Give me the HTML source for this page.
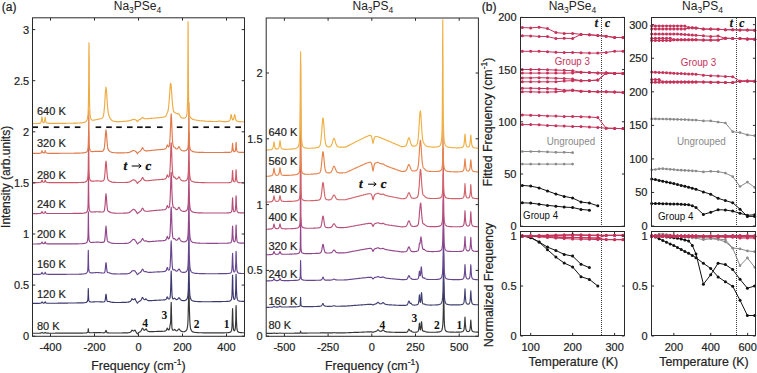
<!DOCTYPE html>
<html><head><meta charset="utf-8"><style>html,body{margin:0;padding:0;background:#fff;}svg{display:block;}</style></head>
<body><svg width="757" height="373" viewBox="0 0 757 373">
<rect width="757" height="373" fill="#fff"/>
<defs><clipPath id="c1"><rect x="32.5" y="18.8" width="212.0" height="317.5"/></clipPath>
<clipPath id="c2"><rect x="266.2" y="19.0" width="212.2" height="317.3"/></clipPath></defs>
<g clip-path="url(#c1)" fill="none" stroke-width="1.15" stroke-linejoin="round">
<path d="M32.5 333.2 33.0 333.2 33.5 333.2 34.0 333.2 34.5 333.2 35.0 333.2 35.5 333.2 36.0 333.2 36.5 333.2 37.0 333.2 37.5 333.2 38.0 333.2 38.5 333.2 39.0 333.2 39.5 333.2 40.0 333.1 40.5 333.1 40.6 333.1 41.0 333.0 41.1 333.0 41.5 332.8 41.5 332.8 41.8 332.5 42.0 332.4 42.2 332.5 42.5 332.8 42.5 332.8 42.9 333.0 43.0 333.0 43.4 333.1 43.5 333.1 43.9 333.1 44.0 333.0 44.3 333.0 44.5 332.9 44.8 332.8 45.0 332.5 45.0 332.5 45.2 332.4 45.4 332.5 45.5 332.6 45.6 332.8 46.0 333.0 46.1 333.0 46.5 333.1 46.5 333.1 47.0 333.1 47.5 333.1 48.0 333.1 48.5 333.1 49.0 333.2 49.5 333.2 50.0 333.2 50.5 333.2 51.0 333.2 51.5 333.2 52.0 333.2 52.5 333.2 53.0 333.2 53.5 333.2 54.0 333.2 54.5 333.2 55.0 333.2 55.5 333.1 56.0 333.1 56.5 333.1 57.0 333.1 57.5 333.1 58.0 333.1 58.5 333.1 59.0 333.1 59.5 333.1 60.0 333.1 60.5 333.1 61.0 333.1 61.5 333.1 62.0 333.1 62.5 333.1 63.0 333.1 63.5 333.1 64.0 333.1 64.5 333.1 65.0 333.1 65.5 333.1 66.0 333.1 66.5 333.1 67.0 333.1 67.5 333.1 68.0 333.1 68.5 333.1 69.0 333.1 69.5 333.1 70.0 333.1 70.5 333.1 71.0 333.1 71.5 333.1 72.0 333.1 72.5 333.1 73.0 333.1 73.5 333.1 74.0 333.1 74.5 333.1 75.0 333.1 75.5 333.1 76.0 333.1 76.5 333.1 77.0 333.1 77.5 333.1 78.0 333.1 78.5 333.1 79.0 333.1 79.5 333.1 80.0 333.1 80.5 333.1 81.0 333.1 81.5 333.1 82.0 333.1 82.5 333.1 83.0 333.1 83.5 333.0 84.0 333.0 84.5 333.0 85.0 333.0 85.1 333.0 85.5 333.0 86.0 332.9 86.5 332.8 86.7 332.8 87.0 332.7 87.5 332.5 87.7 332.3 87.9 331.9 88.0 331.5 88.1 330.7 88.2 329.5 88.3 328.7 88.4 329.5 88.5 330.7 88.7 331.9 88.9 332.3 89.0 332.4 89.1 332.5 89.5 332.6 89.9 332.7 90.0 332.7 90.5 332.7 91.0 332.7 91.5 332.7 92.0 332.7 92.5 332.7 93.0 332.7 93.1 332.7 93.5 332.6 94.0 332.6 94.5 332.6 95.0 332.6 95.5 332.6 96.0 332.6 96.5 332.6 97.0 332.6 97.5 332.6 98.0 332.6 98.5 332.6 99.0 332.6 99.5 332.6 100.0 332.6 100.5 332.6 101.0 332.7 101.5 332.7 102.0 332.7 102.5 332.7 103.0 332.8 103.5 332.8 104.0 332.8 104.3 332.7 104.5 332.7 104.9 332.6 105.0 332.5 105.5 331.7 105.5 331.5 105.7 330.9 106.0 330.4 106.3 330.9 106.5 331.6 106.5 331.7 107.0 332.6 107.1 332.6 107.5 332.8 107.7 332.9 108.0 332.9 108.5 332.9 109.0 333.0 109.5 333.0 110.0 333.0 110.5 333.0 111.0 333.0 111.5 333.0 112.0 333.0 112.5 333.0 113.0 333.0 113.5 333.0 114.0 333.0 114.5 333.0 115.0 333.0 115.5 333.0 116.0 333.0 116.5 333.0 117.0 333.0 117.5 333.0 118.0 333.0 118.5 333.0 119.0 333.0 119.5 333.0 120.0 333.0 120.5 333.0 121.0 333.0 121.5 333.0 122.0 333.0 122.5 332.9 123.0 332.9 123.5 332.9 124.0 332.9 124.5 332.9 125.0 332.9 125.5 332.9 126.0 332.9 126.5 332.9 127.0 332.8 127.5 332.8 128.0 332.8 128.5 332.7 129.0 332.6 129.5 332.5 130.0 332.3 130.2 332.2 130.5 332.1 130.8 331.8 131.0 331.7 131.4 331.1 131.5 331.0 131.7 330.6 132.0 330.1 132.2 330.2 132.3 330.3 132.5 330.5 132.6 330.6 133.0 330.8 133.2 330.9 133.5 330.9 133.8 330.9 134.0 330.8 134.4 330.6 134.5 330.5 134.7 330.3 134.8 330.2 135.0 330.1 135.3 330.6 135.5 331.0 135.6 331.2 135.8 331.6 136.0 331.9 136.2 332.2 136.5 332.6 136.6 332.8 136.8 333.1 137.0 333.5 137.4 334.0 137.5 334.0 137.8 333.6 138.0 333.3 138.2 333.0 138.5 332.7 138.9 332.4 139.0 332.4 139.5 332.1 139.8 331.9 140.0 331.8 140.1 331.7 140.5 331.4 141.0 330.8 141.3 330.4 141.5 330.0 141.9 329.1 142.0 328.9 142.5 328.2 143.0 328.7 143.1 328.8 143.5 329.6 143.7 329.8 144.0 330.1 144.5 330.3 144.9 330.1 145.0 330.0 145.5 329.3 146.0 328.8 146.1 328.8 146.5 329.4 147.0 330.3 147.5 330.9 148.0 331.3 148.5 331.4 149.0 331.5 149.5 331.6 150.0 331.6 150.5 331.6 151.0 331.6 151.5 331.6 152.0 331.6 152.5 331.6 153.0 331.6 153.5 331.6 154.0 331.6 154.5 331.5 155.0 331.5 155.5 331.5 156.0 331.5 156.5 331.5 157.0 331.4 157.5 331.4 158.0 331.4 158.5 331.4 159.0 331.4 159.5 331.4 160.0 331.3 160.5 331.3 161.0 331.3 161.5 331.3 162.0 331.3 162.5 331.3 163.0 331.2 163.5 331.2 164.0 331.2 164.5 331.1 165.0 331.0 165.2 331.0 165.5 330.9 165.9 330.7 166.0 330.6 166.2 330.4 166.5 329.9 166.6 329.7 166.9 328.8 167.0 328.7 167.3 328.1 167.5 328.3 167.7 328.7 167.7 328.8 168.0 329.5 168.5 330.0 168.7 330.0 169.0 329.9 169.2 329.6 169.4 329.1 169.5 328.8 169.7 327.9 169.9 326.0 170.0 325.6 170.2 324.6 170.2 324.4 170.4 323.8 170.5 323.6 170.7 320.6 170.8 315.5 171.0 308.3 171.0 307.4 171.2 302.3 171.4 308.0 171.4 311.7 171.5 314.3 171.6 316.7 171.6 318.9 171.7 322.6 171.9 326.8 172.0 327.9 172.2 329.1 172.2 329.3 172.5 329.8 172.6 330.0 173.0 330.3 173.5 330.2 173.6 330.1 173.7 330.1 174.0 329.8 174.1 329.7 174.5 329.4 174.6 329.3 175.0 329.6 175.1 329.8 175.2 329.9 175.5 330.3 175.6 330.4 176.0 330.6 176.4 330.7 176.5 330.8 176.6 330.8 177.0 330.7 177.5 330.4 177.6 330.3 177.7 330.2 178.0 329.9 178.3 329.4 178.5 329.2 179.0 328.9 179.5 329.3 179.7 329.5 180.0 330.1 180.3 330.5 180.5 330.7 181.0 331.1 181.4 331.3 181.5 331.4 181.6 331.4 182.0 331.5 182.5 331.6 182.9 331.7 183.0 331.7 183.5 331.7 183.9 331.7 184.0 331.7 184.5 331.6 185.0 331.4 185.5 331.2 186.0 330.8 186.2 330.6 186.4 330.4 186.5 330.2 187.0 329.0 187.1 328.6 187.5 326.5 187.6 326.2 187.7 325.3 188.0 320.5 188.4 305.3 188.5 302.4 188.7 290.6 188.9 281.6 189.0 283.8 189.1 290.6 189.3 305.3 189.5 312.3 189.8 320.6 190.0 323.8 190.2 325.4 190.2 326.3 190.5 327.9 190.7 328.8 191.0 329.8 191.4 330.6 191.5 330.7 191.6 330.9 192.0 331.3 192.5 331.7 193.0 331.9 193.5 332.1 193.9 332.2 194.0 332.2 194.5 332.3 195.0 332.4 195.5 332.5 196.0 332.5 196.4 332.5 196.5 332.5 197.0 332.6 197.5 332.6 198.0 332.6 198.5 332.7 199.0 332.7 199.5 332.7 200.0 332.7 200.5 332.7 201.0 332.7 201.5 332.7 202.0 332.7 202.5 332.8 203.0 332.8 203.5 332.8 204.0 332.8 204.5 332.8 205.0 332.8 205.5 332.8 206.0 332.8 206.5 332.8 207.0 332.8 207.5 332.8 208.0 332.8 208.5 332.8 209.0 332.8 209.5 332.8 210.0 332.8 210.5 332.8 211.0 332.8 211.5 332.8 212.0 332.8 212.5 332.8 213.0 332.8 213.5 332.8 214.0 332.8 214.5 332.8 215.0 332.8 215.1 332.8 215.5 332.8 216.0 332.8 216.5 332.8 216.6 332.8 217.0 332.8 217.5 332.8 218.0 332.8 218.1 332.8 218.5 332.8 218.8 332.8 219.0 332.8 219.5 332.8 219.6 332.8 220.0 332.8 220.3 332.8 220.5 332.8 221.0 332.8 221.1 332.8 221.5 332.8 222.0 332.8 222.5 332.8 222.6 332.8 223.0 332.8 223.5 332.8 224.0 332.8 224.1 332.8 224.5 332.8 225.0 332.7 225.5 332.7 226.0 332.7 226.5 332.7 227.0 332.7 227.5 332.7 228.0 332.6 228.5 332.6 229.0 332.5 229.5 332.4 230.0 332.3 230.5 332.1 231.0 331.6 231.5 330.4 231.6 330.3 231.9 327.8 232.0 326.5 232.2 320.6 232.4 313.6 232.5 310.4 232.6 308.5 232.8 313.5 232.9 320.5 233.0 322.1 233.3 327.6 233.5 329.2 233.7 329.9 234.0 330.7 234.5 330.8 235.0 329.8 235.1 329.6 235.4 327.0 235.5 325.6 235.8 319.0 235.9 311.2 236.0 307.6 236.1 305.6 236.3 311.2 236.4 319.1 236.5 320.9 236.8 327.2 237.0 329.1 237.2 330.0 237.5 331.1 238.0 331.8 238.5 332.2 239.0 332.3 239.5 332.5 240.0 332.5 240.5 332.6 241.0 332.6 241.5 332.6 242.0 332.7 242.5 332.7 243.0 332.7 243.5 332.7 244.0 332.7 244.5 332.7" stroke="#363636"/>
<path d="M32.5 303.4 33.0 303.4 33.5 303.4 34.0 303.4 34.5 303.4 35.0 303.4 35.5 303.4 36.0 303.4 36.5 303.3 37.0 303.3 37.5 303.3 38.0 303.3 38.5 303.3 39.0 303.3 39.5 303.3 40.0 303.2 40.5 303.2 40.6 303.2 41.0 303.0 41.1 303.0 41.5 302.6 41.5 302.5 41.8 302.1 42.0 301.8 42.2 302.1 42.5 302.5 42.5 302.6 42.9 302.9 43.0 303.0 43.4 303.1 43.5 303.1 43.9 303.1 44.0 303.0 44.3 302.9 44.5 302.8 44.8 302.5 45.0 302.0 45.0 302.0 45.2 301.7 45.4 302.1 45.5 302.2 45.6 302.5 46.0 302.9 46.1 302.9 46.5 303.1 46.5 303.1 47.0 303.2 47.5 303.2 48.0 303.2 48.5 303.2 49.0 303.2 49.5 303.2 50.0 303.2 50.5 303.2 51.0 303.2 51.5 303.2 52.0 303.2 52.5 303.2 53.0 303.2 53.5 303.2 54.0 303.2 54.5 303.2 55.0 303.2 55.5 303.2 56.0 303.2 56.5 303.2 57.0 303.2 57.5 303.2 58.0 303.1 58.5 303.1 59.0 303.1 59.5 303.1 60.0 303.1 60.5 303.1 61.0 303.1 61.5 303.1 62.0 303.1 62.5 303.1 63.0 303.1 63.5 303.1 64.0 303.1 64.5 303.1 65.0 303.1 65.5 303.1 66.0 303.1 66.5 303.1 67.0 303.1 67.5 303.1 68.0 303.0 68.5 303.0 69.0 303.0 69.5 303.0 70.0 303.0 70.5 303.0 71.0 303.0 71.5 303.0 72.0 303.0 72.5 303.0 73.0 303.0 73.5 303.0 74.0 303.0 74.5 303.0 75.0 303.0 75.5 303.0 76.0 303.0 76.5 303.0 77.0 302.9 77.5 302.9 78.0 302.9 78.5 302.9 79.0 302.9 79.5 302.9 80.0 302.9 80.5 302.9 81.0 302.9 81.5 302.9 82.0 302.8 82.5 302.8 83.0 302.8 83.5 302.8 84.0 302.7 84.5 302.7 85.0 302.6 85.1 302.6 85.5 302.5 86.0 302.4 86.5 302.2 86.7 302.0 87.0 301.8 87.5 301.1 87.7 300.5 87.9 299.1 88.0 297.7 88.1 295.2 88.2 291.2 88.3 288.6 88.4 291.2 88.5 295.1 88.7 299.0 88.9 300.4 89.0 300.7 89.1 301.0 89.5 301.5 89.9 301.8 90.0 301.8 90.5 301.9 91.0 302.0 91.5 302.0 92.0 302.0 92.5 302.0 93.0 301.9 93.1 301.9 93.5 301.9 94.0 301.9 94.5 301.8 95.0 301.8 95.5 301.7 96.0 301.7 96.5 301.7 97.0 301.7 97.5 301.7 98.0 301.7 98.5 301.7 99.0 301.7 99.5 301.8 100.0 301.8 100.5 301.8 101.0 301.9 101.5 301.9 102.0 301.9 102.5 302.0 103.0 302.0 103.5 302.0 104.0 301.9 104.3 301.8 104.5 301.7 104.9 301.1 105.0 300.9 105.5 298.2 105.5 297.7 105.7 295.7 106.0 294.2 106.3 295.6 106.5 297.7 106.5 298.1 107.0 300.7 107.1 301.0 107.5 301.4 107.7 301.5 108.0 301.5 108.5 301.5 109.0 301.5 109.5 301.6 110.0 301.7 110.5 301.9 111.0 302.1 111.5 302.2 112.0 302.3 112.5 302.3 113.0 302.4 113.5 302.4 114.0 302.4 114.5 302.5 115.0 302.5 115.5 302.5 116.0 302.5 116.5 302.5 117.0 302.5 117.5 302.5 118.0 302.5 118.5 302.5 119.0 302.5 119.5 302.5 120.0 302.5 120.5 302.5 121.0 302.5 121.5 302.4 122.0 302.4 122.5 302.4 123.0 302.4 123.5 302.4 124.0 302.4 124.5 302.4 125.0 302.4 125.5 302.3 126.0 302.3 126.5 302.3 127.0 302.2 127.5 302.2 128.0 302.1 128.5 302.1 129.0 301.9 129.5 301.8 130.0 301.5 130.2 301.4 130.5 301.2 130.8 300.9 131.0 300.7 131.4 300.0 131.5 299.7 131.7 299.2 132.0 298.6 132.2 298.8 132.3 298.8 132.5 299.1 132.6 299.3 133.0 299.6 133.2 299.6 133.5 299.6 133.8 299.6 134.0 299.5 134.4 299.2 134.5 299.1 134.7 298.8 134.8 298.7 135.0 298.6 135.3 299.2 135.5 299.7 135.6 300.0 135.8 300.4 136.0 300.8 136.2 301.1 136.5 301.7 136.6 301.8 136.8 302.2 137.0 302.6 137.4 303.1 137.5 303.1 137.8 302.8 138.0 302.5 138.2 302.2 138.5 301.9 138.9 301.6 139.0 301.6 139.5 301.3 139.8 301.1 140.0 301.0 140.1 301.0 140.5 300.6 141.0 300.1 141.3 299.6 141.5 299.2 141.9 298.3 142.0 298.1 142.5 297.4 143.0 297.9 143.1 298.1 143.5 298.8 143.7 299.1 144.0 299.5 144.5 299.7 144.9 299.6 145.0 299.6 145.5 299.1 146.0 298.8 146.1 298.9 146.5 299.3 147.0 299.9 147.5 300.3 148.0 300.5 148.5 300.6 149.0 300.6 149.5 300.6 150.0 300.6 150.5 300.6 151.0 300.6 151.5 300.6 152.0 300.6 152.5 300.5 153.0 300.5 153.5 300.5 154.0 300.4 154.5 300.4 155.0 300.4 155.5 300.3 156.0 300.3 156.5 300.3 157.0 300.2 157.5 300.2 158.0 300.2 158.5 300.2 159.0 300.1 159.5 300.1 160.0 300.1 160.5 300.1 161.0 300.0 161.5 300.0 162.0 300.0 162.5 300.0 163.0 300.0 163.5 299.9 164.0 299.9 164.5 299.8 165.0 299.8 165.2 299.7 165.5 299.6 165.9 299.4 166.0 299.3 166.2 299.1 166.5 298.7 166.6 298.5 166.9 297.5 167.0 297.4 167.3 296.9 167.5 297.1 167.7 297.5 167.7 297.6 168.0 298.3 168.5 298.9 168.7 299.0 169.0 299.0 169.2 299.0 169.4 298.9 169.5 298.8 169.7 298.5 169.8 298.2 169.9 297.9 170.0 297.8 170.2 296.7 170.3 295.8 170.4 293.8 170.5 292.8 170.7 287.4 170.8 285.6 171.0 276.6 171.0 275.4 171.2 271.1 171.4 276.2 171.4 277.4 171.5 279.5 171.6 283.6 171.7 285.6 171.7 287.4 172.0 294.6 172.1 295.8 172.2 296.7 172.5 298.1 172.6 298.2 172.6 298.3 173.0 298.8 173.5 298.8 173.6 298.8 173.7 298.7 174.0 298.5 174.1 298.4 174.5 298.1 174.6 298.1 175.0 298.4 175.1 298.5 175.2 298.7 175.5 299.0 175.6 299.1 176.0 299.4 176.4 299.5 176.5 299.6 176.6 299.6 177.0 299.5 177.5 299.2 177.6 299.1 177.7 299.1 178.0 298.7 178.3 298.3 178.5 298.1 179.0 297.7 179.5 298.2 179.7 298.4 180.0 298.9 180.3 299.4 180.5 299.6 181.0 300.0 181.4 300.2 181.5 300.3 181.6 300.3 182.0 300.4 182.5 300.5 182.9 300.6 183.0 300.6 183.5 300.6 183.9 300.6 184.0 300.6 184.5 300.6 185.0 300.5 185.5 300.3 186.0 300.1 186.2 299.9 186.4 299.7 186.5 299.6 187.0 298.9 187.1 298.7 187.5 297.5 187.7 296.8 188.0 294.1 188.3 289.1 188.4 284.2 188.5 282.0 188.6 276.0 188.8 263.7 188.9 255.5 189.0 259.6 189.1 263.7 189.2 276.1 189.3 284.3 189.5 289.1 189.8 294.2 190.0 296.0 190.2 296.9 190.5 298.3 190.7 298.9 191.0 299.4 191.4 300.0 191.5 300.1 191.6 300.2 192.0 300.5 192.5 300.8 193.0 300.9 193.5 301.1 193.9 301.2 194.0 301.2 194.5 301.3 195.0 301.4 195.5 301.4 196.0 301.5 196.4 301.5 196.5 301.5 197.0 301.5 197.5 301.5 198.0 301.6 198.5 301.6 199.0 301.6 199.5 301.6 200.0 301.6 200.5 301.6 201.0 301.6 201.5 301.7 202.0 301.7 202.5 301.7 203.0 301.7 203.5 301.7 204.0 301.7 204.5 301.7 205.0 301.7 205.5 301.7 206.0 301.7 206.5 301.7 207.0 301.7 207.5 301.7 208.0 301.7 208.5 301.7 209.0 301.7 209.5 301.7 210.0 301.7 210.5 301.7 211.0 301.7 211.5 301.7 212.0 301.7 212.5 301.6 213.0 301.6 213.5 301.6 214.0 301.6 214.5 301.6 215.0 301.6 215.1 301.6 215.5 301.6 216.0 301.6 216.5 301.6 216.6 301.6 217.0 301.6 217.5 301.6 218.0 301.6 218.1 301.6 218.5 301.6 218.8 301.6 219.0 301.6 219.5 301.6 219.6 301.6 220.0 301.6 220.3 301.6 220.5 301.6 221.0 301.6 221.1 301.6 221.5 301.6 222.0 301.5 222.5 301.5 222.6 301.5 223.0 301.5 223.5 301.5 224.0 301.5 224.1 301.5 224.5 301.5 225.0 301.5 225.5 301.5 226.0 301.5 226.5 301.4 227.0 301.4 227.5 301.4 228.0 301.3 228.5 301.3 229.0 301.2 229.5 301.1 230.0 301.0 230.5 300.7 231.0 300.2 231.5 299.0 231.6 298.8 231.9 296.1 232.0 294.7 232.2 288.3 232.4 280.7 232.5 277.2 232.6 275.2 232.8 280.6 232.9 288.2 233.0 289.9 233.3 295.9 233.5 297.6 233.7 298.4 234.0 299.2 234.5 299.4 235.0 298.5 235.1 298.3 235.4 295.7 235.5 294.2 235.8 287.7 235.9 279.8 236.0 276.2 236.1 274.2 236.3 279.9 236.4 287.8 236.5 289.5 236.8 295.9 237.0 297.7 237.2 298.6 237.5 299.7 238.0 300.5 238.5 300.8 239.0 301.0 239.5 301.1 240.0 301.2 240.5 301.2 241.0 301.2 241.5 301.3 242.0 301.3 242.5 301.3 243.0 301.3 243.5 301.3 244.0 301.3 244.5 301.3" stroke="#3c3870"/>
<path d="M32.5 274.4 33.0 274.4 33.5 274.4 34.0 274.4 34.5 274.4 35.0 274.4 35.5 274.4 36.0 274.4 36.5 274.4 37.0 274.4 37.5 274.3 38.0 274.3 38.5 274.3 39.0 274.3 39.5 274.3 40.0 274.3 40.5 274.2 40.6 274.1 41.0 274.0 41.1 273.9 41.5 273.4 41.5 273.3 41.8 272.7 42.0 272.3 42.2 272.7 42.5 273.3 42.5 273.4 42.9 273.9 43.0 273.9 43.4 274.0 43.5 274.1 43.9 274.0 44.0 274.0 44.3 273.9 44.5 273.7 44.8 273.3 45.0 272.7 45.0 272.6 45.2 272.3 45.4 272.7 45.5 272.9 45.6 273.3 46.0 273.8 46.1 273.9 46.5 274.1 46.5 274.1 47.0 274.2 47.5 274.2 48.0 274.3 48.5 274.3 49.0 274.3 49.5 274.3 50.0 274.3 50.5 274.3 51.0 274.3 51.5 274.3 52.0 274.3 52.5 274.3 53.0 274.3 53.5 274.3 54.0 274.3 54.5 274.3 55.0 274.3 55.5 274.3 56.0 274.3 56.5 274.3 57.0 274.3 57.5 274.3 58.0 274.3 58.5 274.3 59.0 274.3 59.5 274.3 60.0 274.3 60.5 274.3 61.0 274.3 61.5 274.3 62.0 274.3 62.5 274.3 63.0 274.3 63.5 274.3 64.0 274.3 64.5 274.3 65.0 274.3 65.5 274.3 66.0 274.3 66.5 274.3 67.0 274.2 67.5 274.2 68.0 274.2 68.5 274.2 69.0 274.2 69.5 274.2 70.0 274.2 70.5 274.2 71.0 274.2 71.5 274.2 72.0 274.2 72.5 274.2 73.0 274.2 73.5 274.2 74.0 274.2 74.5 274.2 75.0 274.2 75.5 274.2 76.0 274.2 76.5 274.2 77.0 274.2 77.5 274.2 78.0 274.2 78.5 274.2 79.0 274.2 79.5 274.1 80.0 274.1 80.5 274.1 81.0 274.1 81.5 274.1 82.0 274.1 82.5 274.0 83.0 274.0 83.5 274.0 84.0 273.9 84.5 273.8 85.0 273.7 85.1 273.7 85.5 273.6 86.0 273.4 86.5 273.1 86.7 272.9 87.0 272.5 87.5 271.4 87.7 270.4 87.9 268.1 88.0 265.6 88.1 261.4 88.2 254.7 88.3 250.3 88.4 254.7 88.5 261.3 88.7 268.0 88.9 270.2 89.0 270.8 89.1 271.2 89.5 272.1 89.9 272.5 90.0 272.6 90.5 272.8 91.0 272.9 91.5 272.9 92.0 272.9 92.5 272.9 93.0 272.8 93.1 272.8 93.5 272.8 94.0 272.7 94.5 272.7 95.0 272.6 95.5 272.6 96.0 272.6 96.5 272.5 97.0 272.5 97.5 272.5 98.0 272.6 98.5 272.6 99.0 272.6 99.5 272.7 100.0 272.7 100.5 272.8 101.0 272.9 101.5 272.9 102.0 273.0 102.5 273.0 103.0 273.0 103.5 273.0 104.0 272.9 104.2 272.8 104.5 272.6 104.8 272.0 105.0 271.2 105.4 268.0 105.5 266.8 105.7 264.4 106.0 262.5 106.3 264.4 106.5 266.8 106.6 267.9 107.0 271.1 107.2 271.9 107.5 272.4 107.8 272.6 108.0 272.7 108.5 272.7 109.0 272.8 109.5 272.9 110.0 273.1 110.5 273.3 111.0 273.5 111.5 273.6 112.0 273.7 112.5 273.8 113.0 273.8 113.5 273.8 114.0 273.9 114.5 273.9 115.0 273.9 115.5 273.9 116.0 273.9 116.5 273.9 117.0 274.0 117.5 274.0 118.0 274.0 118.5 274.0 119.0 274.0 119.5 274.0 120.0 274.0 120.5 273.9 121.0 273.9 121.5 273.9 122.0 273.9 122.5 273.9 123.0 273.9 123.5 273.9 124.0 273.9 124.5 273.9 125.0 273.9 125.5 273.8 126.0 273.8 126.5 273.8 127.0 273.8 127.5 273.7 128.0 273.6 128.5 273.5 129.0 273.4 129.5 273.2 130.0 272.9 130.2 272.8 130.5 272.6 130.8 272.4 131.0 272.2 131.4 271.7 131.5 271.6 131.7 271.3 132.0 271.0 132.2 270.8 132.3 270.8 132.5 270.8 132.6 270.8 133.0 270.7 133.2 270.6 133.5 270.6 133.8 270.6 134.0 270.7 134.4 270.7 134.5 270.8 134.7 270.8 134.8 270.8 135.0 270.9 135.3 271.3 135.5 271.6 135.6 271.8 135.8 272.1 136.0 272.3 136.2 272.6 136.5 273.1 136.6 273.3 136.8 273.7 137.0 274.1 137.4 274.6 137.5 274.6 137.8 274.3 138.0 274.1 138.2 273.8 138.5 273.5 138.9 273.2 139.0 273.2 139.5 272.9 139.8 272.8 140.0 272.6 140.1 272.6 140.5 272.3 141.0 271.7 141.3 271.2 141.5 270.9 141.9 270.0 142.0 269.7 142.5 269.1 143.0 269.6 143.1 269.8 143.5 270.6 143.7 270.9 144.0 271.3 144.5 271.6 144.9 271.7 145.0 271.7 145.5 271.6 146.0 271.5 146.1 271.5 146.5 271.7 147.0 272.0 147.5 272.2 148.0 272.3 148.5 272.4 149.0 272.4 149.5 272.4 150.0 272.4 150.5 272.3 151.0 272.3 151.5 272.3 152.0 272.2 152.5 272.2 153.0 272.2 153.5 272.1 154.0 272.1 154.5 272.1 155.0 272.0 155.5 272.0 156.0 272.0 156.5 272.0 157.0 271.9 157.5 271.9 158.0 271.9 158.5 271.8 159.0 271.8 159.5 271.8 160.0 271.8 160.5 271.8 161.0 271.7 161.5 271.7 162.0 271.7 162.5 271.7 163.0 271.6 163.5 271.6 164.0 271.5 164.5 271.5 165.0 271.3 165.2 271.3 165.5 271.1 165.9 270.8 166.0 270.7 166.2 270.5 166.5 269.8 166.6 269.6 166.9 268.3 167.0 268.1 167.3 267.5 167.5 267.7 167.7 268.2 167.7 268.4 168.0 269.3 168.5 270.0 168.7 270.1 169.0 270.1 169.2 269.9 169.4 269.7 169.5 269.5 169.7 268.9 169.9 267.6 170.0 267.2 170.2 265.0 170.4 260.3 170.5 259.1 170.6 256.3 170.7 253.2 170.9 246.5 171.0 243.6 171.2 240.8 171.4 245.0 171.5 246.5 171.6 249.8 171.7 253.2 171.8 256.3 172.0 261.5 172.2 265.0 172.4 267.2 172.5 268.0 172.6 268.5 173.0 269.7 173.5 270.0 173.6 270.0 173.7 270.0 174.0 269.9 174.1 269.8 174.5 269.6 174.6 269.6 175.0 269.9 175.1 270.1 175.2 270.2 175.5 270.6 175.6 270.7 176.0 271.0 176.4 271.1 176.5 271.1 176.6 271.1 177.0 271.1 177.5 270.8 177.6 270.7 177.7 270.5 178.0 270.2 178.3 269.6 178.5 269.4 179.0 269.0 179.5 269.5 179.7 269.8 180.0 270.4 180.3 270.9 180.5 271.2 181.0 271.6 181.4 271.9 181.5 272.0 181.6 272.0 182.0 272.2 182.5 272.3 182.9 272.4 183.0 272.4 183.5 272.4 183.9 272.4 184.0 272.4 184.5 272.4 185.0 272.3 185.5 272.1 186.0 271.8 186.2 271.7 186.4 271.5 186.5 271.4 187.0 270.6 187.1 270.4 187.5 269.1 187.7 268.4 188.0 265.5 188.3 259.9 188.4 254.6 188.5 252.0 188.6 245.4 188.8 231.5 188.9 222.4 189.0 227.0 189.1 231.5 189.2 245.4 189.3 254.6 189.5 260.0 189.8 265.6 190.0 267.5 190.2 268.5 190.5 270.0 190.7 270.6 191.0 271.2 191.4 271.8 191.5 271.9 191.6 272.0 192.0 272.3 192.5 272.6 193.0 272.8 193.5 273.0 193.9 273.1 194.0 273.1 194.5 273.2 195.0 273.3 195.5 273.3 196.0 273.4 196.4 273.4 196.5 273.4 197.0 273.4 197.5 273.5 198.0 273.5 198.5 273.5 199.0 273.5 199.5 273.6 200.0 273.6 200.5 273.6 201.0 273.6 201.5 273.6 202.0 273.6 202.5 273.6 203.0 273.6 203.5 273.6 204.0 273.6 204.5 273.6 205.0 273.6 205.5 273.7 206.0 273.7 206.5 273.7 207.0 273.7 207.5 273.7 208.0 273.7 208.5 273.7 209.0 273.7 209.5 273.7 210.0 273.7 210.5 273.7 211.0 273.7 211.5 273.7 212.0 273.7 212.5 273.7 213.0 273.7 213.5 273.7 214.0 273.7 214.5 273.7 215.0 273.7 215.1 273.7 215.5 273.7 216.0 273.7 216.5 273.7 216.6 273.7 217.0 273.7 217.5 273.7 218.0 273.7 218.1 273.7 218.5 273.6 218.8 273.6 219.0 273.6 219.5 273.6 219.6 273.6 220.0 273.6 220.3 273.6 220.5 273.6 221.0 273.6 221.1 273.6 221.5 273.6 222.0 273.6 222.5 273.6 222.6 273.6 223.0 273.6 223.5 273.6 224.0 273.6 224.1 273.6 224.5 273.6 225.0 273.6 225.5 273.6 226.0 273.6 226.5 273.6 227.0 273.5 227.5 273.5 228.0 273.5 228.5 273.5 229.0 273.4 229.5 273.3 230.0 273.2 230.5 273.0 231.0 272.6 231.5 271.7 231.6 271.5 231.9 269.5 232.0 268.4 232.2 263.5 232.4 257.6 232.5 254.9 232.6 253.4 232.8 257.6 232.9 263.4 233.0 264.7 233.3 269.3 233.5 270.6 233.7 271.2 234.0 271.9 234.5 272.0 235.0 271.2 235.1 271.0 235.4 268.9 235.5 267.7 235.8 262.4 235.9 256.0 236.0 253.1 236.1 251.4 236.3 256.0 236.4 262.5 236.5 263.9 236.8 269.1 237.0 270.6 237.2 271.3 237.5 272.2 238.0 272.8 238.5 273.1 239.0 273.2 239.5 273.3 240.0 273.4 240.5 273.4 241.0 273.5 241.5 273.5 242.0 273.5 242.5 273.5 243.0 273.5 243.5 273.5 244.0 273.5 244.5 273.5" stroke="#66468f"/>
<path d="M32.5 244.0 33.0 244.0 33.5 244.0 34.0 244.0 34.5 244.0 35.0 244.0 35.5 244.0 36.0 244.0 36.5 244.0 37.0 244.0 37.5 243.9 38.0 243.9 38.5 243.9 39.0 243.9 39.5 243.9 40.0 243.9 40.5 243.8 40.6 243.7 41.0 243.6 41.1 243.5 41.5 243.0 41.5 242.9 41.8 242.3 42.0 241.9 42.2 242.3 42.5 242.9 42.5 243.0 42.9 243.5 43.0 243.5 43.4 243.6 43.5 243.7 43.9 243.6 44.0 243.6 44.3 243.5 44.5 243.3 44.8 242.9 45.0 242.3 45.0 242.2 45.2 241.9 45.4 242.3 45.5 242.5 45.6 242.9 46.0 243.4 46.1 243.5 46.5 243.7 46.5 243.7 47.0 243.8 47.5 243.8 48.0 243.9 48.5 243.9 49.0 243.9 49.5 243.9 50.0 243.9 50.5 243.9 51.0 243.9 51.5 243.9 52.0 243.9 52.5 243.9 53.0 243.9 53.5 243.9 54.0 243.9 54.5 243.9 55.0 243.9 55.5 243.9 56.0 243.9 56.5 243.9 57.0 243.9 57.5 243.9 58.0 243.9 58.5 243.9 59.0 243.9 59.5 243.9 60.0 243.9 60.5 243.9 61.0 243.9 61.5 243.9 62.0 243.9 62.5 243.9 63.0 243.9 63.5 243.9 64.0 243.9 64.5 243.9 65.0 243.9 65.5 243.9 66.0 243.9 66.5 243.8 67.0 243.8 67.5 243.8 68.0 243.8 68.5 243.8 69.0 243.8 69.5 243.8 70.0 243.8 70.5 243.8 71.0 243.8 71.5 243.8 72.0 243.8 72.5 243.8 73.0 243.8 73.5 243.8 74.0 243.8 74.5 243.8 75.0 243.8 75.5 243.8 76.0 243.8 76.5 243.8 77.0 243.8 77.5 243.8 78.0 243.8 78.5 243.8 79.0 243.7 79.5 243.7 80.0 243.7 80.5 243.7 81.0 243.7 81.5 243.7 82.0 243.7 82.5 243.6 83.0 243.6 83.5 243.5 83.6 243.5 84.0 243.5 84.5 243.4 85.0 243.3 85.2 243.3 85.5 243.2 86.0 243.0 86.5 242.6 86.8 242.4 87.0 242.1 87.5 240.9 87.6 240.5 87.8 239.2 88.0 236.0 88.2 226.9 88.3 217.9 88.4 211.9 88.5 217.9 88.6 226.9 88.8 235.9 89.0 239.0 89.2 240.3 89.5 241.3 90.0 241.9 90.5 242.3 91.0 242.4 91.5 242.5 91.6 242.5 92.0 242.5 92.5 242.4 93.0 242.4 93.2 242.4 93.5 242.3 94.0 242.3 94.5 242.2 95.0 242.2 95.5 242.2 96.0 242.1 96.5 242.1 97.0 242.1 97.5 242.1 98.0 242.1 98.5 242.1 99.0 242.2 99.5 242.2 100.0 242.3 100.5 242.3 101.0 242.4 101.5 242.4 102.0 242.4 102.5 242.4 103.0 242.4 103.5 242.3 103.9 242.1 104.0 242.0 104.5 241.1 104.6 240.8 105.0 238.2 105.3 234.6 105.5 231.5 105.7 229.1 106.0 226.1 106.3 229.1 106.5 231.4 106.7 234.5 107.0 238.1 107.4 240.7 107.5 241.0 108.0 241.8 108.1 241.8 108.5 242.0 109.0 242.1 109.5 242.3 110.0 242.6 110.5 242.8 111.0 243.0 111.5 243.1 112.0 243.2 112.5 243.3 113.0 243.4 113.5 243.4 114.0 243.4 114.5 243.5 115.0 243.5 115.5 243.5 116.0 243.5 116.5 243.5 117.0 243.5 117.5 243.5 118.0 243.5 118.5 243.5 119.0 243.5 119.5 243.5 120.0 243.5 120.5 243.5 121.0 243.5 121.5 243.5 122.0 243.5 122.5 243.5 123.0 243.5 123.5 243.5 124.0 243.5 124.5 243.4 125.0 243.4 125.5 243.4 126.0 243.4 126.5 243.3 127.0 243.3 127.5 243.2 128.0 243.2 128.5 243.0 129.0 242.8 129.5 242.6 130.0 242.3 130.2 242.1 130.5 241.9 130.8 241.6 131.0 241.4 131.4 240.9 131.5 240.8 131.7 240.6 132.0 240.3 132.2 240.0 132.3 240.0 132.5 239.8 132.6 239.7 133.0 239.4 133.2 239.3 133.5 239.3 133.8 239.3 134.0 239.4 134.4 239.6 134.5 239.7 134.7 239.9 134.8 240.0 135.0 240.2 135.3 240.6 135.5 240.8 135.6 240.9 135.8 241.2 136.0 241.5 136.2 241.8 136.5 242.3 136.6 242.5 136.8 242.9 137.0 243.3 137.4 243.9 137.5 244.0 137.8 243.7 138.0 243.4 138.2 243.2 138.5 242.9 138.9 242.6 139.0 242.6 139.5 242.3 139.8 242.2 140.0 242.0 140.1 242.0 140.5 241.7 141.0 241.1 141.3 240.6 141.5 240.3 141.9 239.4 142.0 239.1 142.5 238.5 143.0 239.0 143.1 239.2 143.5 240.0 143.7 240.3 144.0 240.6 144.5 241.0 144.9 241.1 145.0 241.1 145.5 240.9 146.0 240.8 146.1 240.8 146.5 241.0 147.0 241.3 147.5 241.5 148.0 241.6 148.5 241.6 149.0 241.6 149.5 241.6 150.0 241.6 150.5 241.6 151.0 241.5 151.5 241.5 152.0 241.4 152.5 241.4 153.0 241.4 153.5 241.3 154.0 241.3 154.5 241.2 155.0 241.2 155.5 241.1 156.0 241.1 156.5 241.1 157.0 241.0 157.5 241.0 158.0 241.0 158.5 240.9 159.0 240.9 159.5 240.9 160.0 240.8 160.5 240.8 161.0 240.8 161.5 240.8 162.0 240.7 162.5 240.7 163.0 240.7 163.5 240.6 164.0 240.6 164.5 240.5 165.0 240.4 165.2 240.3 165.5 240.1 165.9 239.8 166.0 239.7 166.2 239.4 166.5 238.8 166.6 238.5 166.9 237.3 167.0 237.1 167.3 236.4 167.5 236.6 167.7 237.1 167.7 237.2 168.0 238.1 168.5 238.8 168.7 238.8 169.0 238.6 169.1 238.5 169.2 238.4 169.4 237.9 169.5 237.6 169.7 236.6 169.8 235.9 169.9 234.5 170.0 233.9 170.2 230.9 170.4 225.3 170.5 224.0 170.7 217.9 170.8 213.2 171.0 209.3 171.2 207.0 171.4 210.5 171.5 211.8 171.6 213.3 171.6 214.8 171.7 218.0 171.9 224.0 172.0 226.6 172.2 231.0 172.5 235.1 172.6 236.0 173.0 237.9 173.3 238.5 173.5 238.7 173.6 238.7 173.7 238.8 174.0 238.7 174.1 238.6 174.5 238.5 174.6 238.5 175.0 238.9 175.1 239.1 175.2 239.2 175.5 239.7 175.6 239.8 176.0 240.1 176.4 240.2 176.5 240.2 176.6 240.2 177.0 240.1 177.5 239.8 177.6 239.7 177.7 239.6 178.0 239.1 178.3 238.5 178.5 238.3 179.0 237.8 179.5 238.4 179.7 238.7 180.0 239.4 180.3 240.0 180.5 240.3 181.0 240.9 181.4 241.2 181.5 241.2 181.6 241.3 182.0 241.5 182.5 241.6 182.9 241.7 183.0 241.7 183.5 241.8 183.9 241.8 184.0 241.8 184.5 241.8 185.0 241.7 185.5 241.6 186.0 241.3 186.2 241.1 186.4 241.0 186.5 240.9 187.0 240.1 187.1 239.9 187.5 238.6 187.7 237.8 188.0 234.9 188.3 229.4 188.4 224.0 188.5 221.5 188.6 214.9 188.8 201.0 188.9 191.9 189.0 196.5 189.1 201.0 189.2 214.9 189.3 224.1 189.5 229.5 189.8 235.1 190.0 237.0 190.2 238.0 190.5 239.6 190.7 240.1 191.0 240.8 191.4 241.3 191.5 241.4 191.6 241.5 192.0 241.9 192.5 242.2 193.0 242.4 193.5 242.5 193.9 242.6 194.0 242.6 194.5 242.7 195.0 242.8 195.5 242.9 196.0 242.9 196.4 243.0 196.5 243.0 197.0 243.0 197.5 243.0 198.0 243.1 198.5 243.1 199.0 243.1 199.5 243.1 200.0 243.2 200.5 243.2 201.0 243.2 201.5 243.2 202.0 243.2 202.5 243.2 203.0 243.2 203.5 243.2 204.0 243.2 204.5 243.2 205.0 243.2 205.5 243.2 206.0 243.2 206.5 243.3 207.0 243.3 207.5 243.3 208.0 243.3 208.5 243.3 209.0 243.3 209.5 243.3 210.0 243.3 210.5 243.3 211.0 243.3 211.5 243.3 212.0 243.3 212.5 243.3 213.0 243.3 213.5 243.3 214.0 243.3 214.5 243.3 215.0 243.3 215.1 243.3 215.5 243.3 216.0 243.3 216.5 243.3 216.6 243.3 217.0 243.3 217.5 243.3 218.0 243.3 218.1 243.3 218.5 243.2 218.8 243.2 219.0 243.2 219.5 243.2 219.6 243.2 220.0 243.2 220.3 243.2 220.5 243.2 221.0 243.2 221.1 243.2 221.5 243.2 222.0 243.2 222.5 243.2 222.6 243.2 223.0 243.2 223.5 243.2 224.0 243.2 224.1 243.2 224.5 243.2 225.0 243.2 225.5 243.2 226.0 243.2 226.5 243.2 227.0 243.2 227.5 243.1 228.0 243.1 228.5 243.1 229.0 243.0 229.5 243.0 230.0 242.9 230.5 242.7 231.0 242.4 231.5 241.6 231.6 241.4 231.9 239.7 232.0 238.8 232.2 234.6 232.4 229.6 232.5 227.3 232.6 226.1 232.8 229.6 232.9 234.5 233.0 235.6 233.3 239.5 233.5 240.7 233.7 241.2 234.0 241.7 234.5 241.8 235.0 241.2 235.1 241.1 235.4 239.4 235.5 238.4 235.8 234.0 235.9 228.8 236.0 226.4 236.1 225.0 236.3 228.8 236.4 234.1 236.5 235.3 236.8 239.5 237.0 240.7 237.2 241.3 237.5 242.1 238.0 242.5 238.5 242.8 239.0 242.9 239.5 243.0 240.0 243.0 240.5 243.1 241.0 243.1 241.5 243.1 242.0 243.1 242.5 243.1 243.0 243.1 243.5 243.1 244.0 243.1 244.5 243.1" stroke="#92468c"/>
<path d="M32.5 213.6 33.0 213.6 33.5 213.6 34.0 213.6 34.5 213.6 35.0 213.6 35.5 213.6 36.0 213.6 36.5 213.6 37.0 213.6 37.5 213.6 38.0 213.5 38.5 213.5 39.0 213.5 39.5 213.5 40.0 213.5 40.5 213.4 40.6 213.3 41.0 213.2 41.1 213.1 41.5 212.6 41.5 212.5 41.8 211.9 42.0 211.5 42.2 211.9 42.5 212.5 42.5 212.6 42.9 213.1 43.0 213.1 43.4 213.2 43.5 213.3 43.9 213.2 44.0 213.2 44.3 213.1 44.5 212.9 44.8 212.5 45.0 211.9 45.0 211.8 45.2 211.5 45.4 211.9 45.5 212.1 45.6 212.5 46.0 213.0 46.1 213.1 46.5 213.3 46.5 213.3 47.0 213.4 47.5 213.5 48.0 213.5 48.5 213.5 49.0 213.5 49.5 213.5 50.0 213.5 50.5 213.5 51.0 213.5 51.5 213.5 52.0 213.5 52.5 213.5 53.0 213.5 53.5 213.5 54.0 213.5 54.5 213.5 55.0 213.5 55.5 213.5 56.0 213.5 56.5 213.5 57.0 213.5 57.5 213.5 58.0 213.5 58.5 213.5 59.0 213.5 59.5 213.5 60.0 213.5 60.5 213.5 61.0 213.5 61.5 213.5 62.0 213.5 62.5 213.5 63.0 213.5 63.5 213.5 64.0 213.5 64.5 213.5 65.0 213.5 65.5 213.5 66.0 213.5 66.5 213.5 67.0 213.5 67.5 213.5 68.0 213.5 68.5 213.5 69.0 213.5 69.5 213.5 70.0 213.5 70.5 213.5 71.0 213.5 71.5 213.5 72.0 213.5 72.5 213.5 73.0 213.4 73.5 213.4 74.0 213.4 74.5 213.4 75.0 213.4 75.5 213.4 76.0 213.4 76.5 213.4 77.0 213.4 77.5 213.4 78.0 213.4 78.5 213.4 79.0 213.4 79.5 213.4 80.0 213.4 80.5 213.4 81.0 213.3 81.5 213.3 82.0 213.3 82.5 213.3 83.0 213.2 83.5 213.2 83.7 213.2 84.0 213.1 84.5 213.0 85.0 212.9 85.3 212.9 85.5 212.8 86.0 212.6 86.5 212.3 86.9 211.8 87.0 211.7 87.5 210.5 87.7 209.6 87.9 207.8 88.0 206.2 88.1 203.7 88.3 191.6 88.4 179.5 88.5 171.5 88.6 179.5 88.7 191.5 88.9 203.6 89.0 206.1 89.1 207.6 89.3 209.4 89.5 210.3 90.0 211.3 90.1 211.4 90.5 211.7 91.0 211.9 91.5 212.0 91.7 212.0 92.0 212.1 92.5 212.0 93.0 212.0 93.3 212.0 93.5 212.0 94.0 211.9 94.5 211.9 95.0 211.8 95.5 211.8 96.0 211.8 96.5 211.7 97.0 211.7 97.5 211.7 98.0 211.7 98.5 211.8 99.0 211.8 99.5 211.8 100.0 211.9 100.5 211.9 101.0 212.0 101.5 212.0 102.0 212.0 102.5 212.0 103.0 211.9 103.5 211.7 103.6 211.6 104.0 211.2 104.4 210.2 104.5 209.7 105.0 205.8 105.2 203.2 105.5 198.7 105.6 197.1 106.0 193.7 106.4 197.1 106.5 198.6 106.8 203.2 107.0 205.7 107.5 209.6 107.6 210.0 108.0 211.0 108.4 211.3 108.5 211.4 109.0 211.6 109.5 211.9 110.0 212.1 110.5 212.4 111.0 212.6 111.5 212.7 112.0 212.8 112.5 212.9 113.0 213.0 113.5 213.0 114.0 213.1 114.5 213.1 115.0 213.1 115.5 213.2 116.0 213.2 116.5 213.2 117.0 213.2 117.5 213.2 118.0 213.2 118.5 213.2 119.0 213.2 119.5 213.2 120.0 213.2 120.5 213.2 121.0 213.2 121.5 213.2 122.0 213.2 122.5 213.2 123.0 213.2 123.5 213.1 124.0 213.1 124.5 213.1 125.0 213.1 125.5 213.1 126.0 213.1 126.5 213.0 127.0 213.0 127.5 212.9 128.0 212.9 128.5 212.7 129.0 212.6 129.5 212.4 130.0 212.1 130.2 211.9 130.5 211.7 130.8 211.4 131.0 211.3 131.4 210.9 131.5 210.8 131.7 210.6 132.0 210.3 132.2 210.1 132.3 210.0 132.5 209.8 132.6 209.8 133.0 209.5 133.2 209.5 133.5 209.4 133.8 209.4 134.0 209.5 134.4 209.7 134.5 209.8 134.7 210.0 134.8 210.0 135.0 210.2 135.3 210.5 135.5 210.7 135.6 210.9 135.8 211.1 136.0 211.3 136.2 211.6 136.5 212.1 136.6 212.3 136.8 212.7 137.0 213.1 137.4 213.7 137.5 213.7 137.8 213.4 138.0 213.1 138.2 212.8 138.5 212.5 138.9 212.3 139.0 212.2 139.5 211.9 139.8 211.8 140.0 211.6 140.1 211.6 140.5 211.3 141.0 210.7 141.3 210.2 141.5 209.8 141.9 209.0 142.0 208.7 142.5 208.1 143.0 208.6 143.1 208.8 143.5 209.6 143.7 209.9 144.0 210.3 144.5 210.8 144.9 211.0 145.0 211.0 145.5 211.2 146.0 211.2 146.1 211.2 146.5 211.2 147.0 211.2 147.5 211.2 148.0 211.2 148.5 211.2 149.0 211.1 149.5 211.1 150.0 211.0 150.5 211.0 151.0 210.9 151.5 210.8 152.0 210.8 152.5 210.7 153.0 210.7 153.5 210.6 154.0 210.6 154.5 210.5 155.0 210.5 155.5 210.4 156.0 210.4 156.5 210.3 157.0 210.3 157.5 210.2 158.0 210.2 158.5 210.2 159.0 210.1 159.5 210.1 160.0 210.1 160.5 210.0 161.0 210.0 161.5 210.0 162.0 209.9 162.5 209.9 163.0 209.9 163.5 209.8 164.0 209.7 164.5 209.7 165.0 209.5 165.2 209.4 165.5 209.3 165.9 209.0 166.0 208.9 166.2 208.6 166.5 207.9 166.6 207.7 166.9 206.4 167.0 206.2 167.3 205.5 167.5 205.7 167.7 206.1 167.7 206.3 168.0 207.1 168.5 207.7 168.7 207.7 168.9 207.5 169.0 207.4 169.2 207.0 169.4 206.4 169.5 205.9 169.7 204.6 169.9 201.9 170.0 201.2 170.2 197.6 170.4 191.3 170.5 189.8 170.7 183.3 170.8 179.4 171.0 174.6 171.2 172.3 171.4 175.8 171.5 177.1 171.6 179.2 171.6 180.1 171.7 183.4 171.9 191.3 172.0 192.8 172.2 197.7 172.5 202.7 172.6 203.8 172.7 204.7 173.0 206.5 173.4 207.5 173.5 207.6 173.6 207.7 173.7 207.7 174.0 207.7 174.1 207.7 174.5 207.7 174.6 207.7 175.0 208.2 175.1 208.3 175.2 208.5 175.5 208.9 175.6 209.0 176.0 209.4 176.4 209.6 176.5 209.6 176.6 209.6 177.0 209.5 177.5 209.2 177.6 209.1 177.7 209.0 178.0 208.5 178.3 207.9 178.5 207.7 179.0 207.3 179.5 207.9 179.7 208.2 180.0 208.9 180.3 209.5 180.5 209.8 181.0 210.4 181.4 210.7 181.5 210.7 181.6 210.8 182.0 211.0 182.5 211.2 182.9 211.3 183.0 211.3 183.5 211.3 183.9 211.4 184.0 211.4 184.5 211.4 185.0 211.3 185.5 211.2 186.0 210.9 186.2 210.8 186.4 210.6 186.5 210.6 187.0 209.9 187.1 209.7 187.5 208.7 187.7 208.1 188.0 205.9 188.2 204.3 188.4 199.0 188.4 197.2 188.5 195.1 188.7 184.8 188.8 170.5 188.9 162.1 189.0 168.3 189.0 171.7 189.2 184.9 189.3 197.3 189.4 199.1 189.5 201.8 189.7 204.4 189.8 206.1 190.0 207.6 190.2 208.4 190.5 209.6 190.7 210.0 191.0 210.6 191.4 211.1 191.5 211.2 191.6 211.3 192.0 211.6 192.5 211.8 193.0 212.1 193.5 212.2 193.9 212.3 194.0 212.3 194.5 212.4 195.0 212.5 195.5 212.6 196.0 212.6 196.4 212.7 196.5 212.7 197.0 212.7 197.5 212.8 198.0 212.8 198.5 212.8 199.0 212.8 199.5 212.9 200.0 212.9 200.5 212.9 201.0 212.9 201.5 212.9 202.0 212.9 202.5 213.0 203.0 213.0 203.5 213.0 204.0 213.0 204.5 213.0 205.0 213.0 205.5 213.0 206.0 213.0 206.5 213.0 207.0 213.0 207.5 213.0 208.0 213.0 208.5 213.0 209.0 213.0 209.5 213.0 210.0 213.0 210.5 213.0 211.0 213.0 211.5 213.0 212.0 213.0 212.5 213.0 213.0 213.0 213.5 213.0 214.0 213.0 214.5 213.0 215.0 213.0 215.1 213.0 215.5 213.0 216.0 213.0 216.5 213.0 216.6 213.0 217.0 213.0 217.5 213.0 218.0 213.0 218.1 213.0 218.5 213.0 218.8 213.0 219.0 213.0 219.5 213.0 219.6 213.0 220.0 213.0 220.3 213.0 220.5 213.0 221.0 213.0 221.1 213.0 221.5 213.0 222.0 213.0 222.5 213.0 222.6 213.0 223.0 213.0 223.5 213.0 224.0 213.0 224.1 213.0 224.5 213.0 225.0 213.0 225.5 213.0 226.0 213.0 226.5 213.0 227.0 212.9 227.5 212.9 228.0 212.9 228.5 212.9 229.0 212.8 229.5 212.8 230.0 212.7 230.5 212.5 231.0 212.3 231.5 211.5 231.6 211.4 231.9 209.9 232.0 209.1 232.2 205.4 232.4 201.0 232.5 199.0 232.6 197.8 232.8 201.0 232.9 205.3 233.0 206.3 233.3 209.8 233.5 210.7 233.7 211.2 234.0 211.7 234.5 211.7 235.0 211.1 235.1 211.0 235.4 209.4 235.5 208.5 235.8 204.3 235.9 199.4 236.0 197.1 236.1 195.9 236.3 199.4 236.4 204.4 236.5 205.5 236.8 209.5 237.0 210.7 237.2 211.2 237.5 211.9 238.0 212.4 238.5 212.6 239.0 212.7 239.5 212.8 240.0 212.8 240.5 212.9 241.0 212.9 241.5 212.9 242.0 212.9 242.5 212.9 243.0 212.9 243.5 212.9 244.0 212.9 244.5 212.9" stroke="#b24c7a"/>
<path d="M32.5 182.6 33.0 182.6 33.5 182.6 34.0 182.6 34.5 182.6 35.0 182.6 35.5 182.6 36.0 182.6 36.5 182.6 37.0 182.6 37.5 182.6 38.0 182.6 38.5 182.5 39.0 182.5 39.5 182.5 40.0 182.5 40.5 182.4 40.6 182.3 41.0 182.1 41.1 182.1 41.5 181.4 41.5 181.3 41.8 180.6 42.0 180.1 42.2 180.6 42.5 181.3 42.5 181.4 42.9 182.0 43.0 182.1 43.4 182.2 43.5 182.2 43.9 182.2 44.0 182.2 44.3 182.0 44.5 181.8 44.8 181.3 45.0 180.5 45.0 180.5 45.2 180.1 45.4 180.6 45.5 180.8 45.6 181.3 46.0 182.0 46.1 182.1 46.5 182.3 46.5 182.3 47.0 182.4 47.5 182.5 48.0 182.5 48.5 182.5 49.0 182.6 49.5 182.6 50.0 182.6 50.5 182.6 51.0 182.6 51.5 182.6 52.0 182.6 52.5 182.6 53.0 182.6 53.5 182.6 54.0 182.6 54.5 182.6 55.0 182.6 55.5 182.6 56.0 182.6 56.5 182.6 57.0 182.6 57.5 182.6 58.0 182.6 58.5 182.6 59.0 182.6 59.5 182.6 60.0 182.6 60.5 182.6 61.0 182.6 61.5 182.6 62.0 182.6 62.5 182.6 63.0 182.6 63.5 182.6 64.0 182.6 64.5 182.6 65.0 182.6 65.5 182.6 66.0 182.6 66.5 182.6 67.0 182.6 67.5 182.6 68.0 182.6 68.5 182.6 69.0 182.6 69.5 182.6 70.0 182.6 70.5 182.6 71.0 182.6 71.5 182.6 72.0 182.6 72.5 182.6 73.0 182.6 73.5 182.6 74.0 182.6 74.5 182.6 75.0 182.6 75.5 182.6 76.0 182.6 76.5 182.6 77.0 182.6 77.5 182.6 78.0 182.6 78.5 182.5 79.0 182.5 79.5 182.5 80.0 182.5 80.5 182.5 81.0 182.5 81.5 182.5 82.0 182.4 82.5 182.4 83.0 182.4 83.5 182.3 83.8 182.3 84.0 182.2 84.5 182.2 85.0 182.0 85.4 181.9 85.5 181.9 86.0 181.6 86.5 181.2 87.0 180.6 87.5 179.4 87.8 177.8 88.0 175.5 88.2 170.4 88.4 155.3 88.5 140.2 88.6 130.2 88.7 140.2 88.8 155.2 89.0 170.3 89.2 175.4 89.4 177.6 89.5 178.2 90.0 179.9 90.2 180.2 90.5 180.6 91.0 180.9 91.5 181.1 91.8 181.1 92.0 181.1 92.5 181.2 93.0 181.1 93.4 181.1 93.5 181.1 94.0 181.1 94.5 181.0 95.0 181.0 95.5 181.0 96.0 180.9 96.5 180.9 97.0 180.9 97.5 180.9 98.0 180.9 98.5 181.0 99.0 181.0 99.5 181.0 100.0 181.1 100.5 181.1 101.0 181.1 101.5 181.1 102.0 181.1 102.5 181.0 103.0 180.9 103.3 180.7 103.5 180.6 104.0 179.8 104.2 179.2 104.5 177.6 105.0 172.8 105.1 171.5 105.5 165.5 105.5 164.8 106.0 161.0 106.5 164.7 106.5 165.5 106.9 171.4 107.0 172.7 107.5 177.5 107.8 179.0 108.0 179.6 108.5 180.3 108.7 180.5 109.0 180.7 109.5 181.0 110.0 181.3 110.5 181.5 111.0 181.8 111.5 181.9 112.0 182.1 112.5 182.2 113.0 182.3 113.5 182.3 114.0 182.4 114.5 182.4 115.0 182.4 115.5 182.4 116.0 182.5 116.5 182.5 117.0 182.5 117.5 182.5 118.0 182.5 118.5 182.5 119.0 182.5 119.5 182.5 120.0 182.5 120.5 182.5 121.0 182.5 121.5 182.5 122.0 182.5 122.5 182.5 123.0 182.5 123.5 182.5 124.0 182.5 124.5 182.5 125.0 182.5 125.5 182.5 126.0 182.4 126.5 182.4 127.0 182.4 127.5 182.3 128.0 182.3 128.5 182.2 129.0 182.1 129.5 181.9 130.0 181.7 130.2 181.6 130.5 181.4 130.8 181.3 131.0 181.1 131.4 180.8 131.5 180.8 131.7 180.6 132.0 180.4 132.2 180.3 132.3 180.2 132.5 180.1 132.6 180.1 133.0 179.9 133.2 179.8 133.5 179.8 133.8 179.8 134.0 179.9 134.4 180.0 134.5 180.1 134.7 180.2 134.8 180.2 135.0 180.4 135.3 180.6 135.5 180.8 135.6 180.8 135.8 181.0 136.0 181.2 136.2 181.5 136.5 181.9 136.6 182.0 136.8 182.4 137.0 182.8 137.4 183.3 137.5 183.3 137.8 182.9 138.0 182.6 138.2 182.3 138.5 182.0 138.9 181.7 139.0 181.7 139.5 181.4 139.8 181.2 140.0 181.1 140.1 181.0 140.5 180.7 141.0 180.1 141.3 179.7 141.5 179.3 141.9 178.4 142.0 178.2 142.5 177.5 143.0 178.0 143.1 178.2 143.5 179.0 143.7 179.4 144.0 179.8 144.5 180.2 144.9 180.4 145.0 180.5 145.5 180.6 146.0 180.7 146.1 180.7 146.5 180.7 147.0 180.7 147.5 180.7 148.0 180.6 148.5 180.6 149.0 180.6 149.5 180.5 150.0 180.5 150.5 180.4 151.0 180.3 151.5 180.3 152.0 180.2 152.5 180.2 153.0 180.1 153.5 180.1 154.0 180.0 154.5 180.0 155.0 179.9 155.5 179.9 156.0 179.8 156.5 179.8 157.0 179.7 157.5 179.7 158.0 179.7 158.5 179.6 159.0 179.6 159.5 179.6 160.0 179.5 160.5 179.5 161.0 179.5 161.5 179.4 162.0 179.4 162.5 179.4 163.0 179.3 163.5 179.3 164.0 179.2 164.5 179.1 165.0 179.0 165.2 178.9 165.5 178.8 165.9 178.4 166.0 178.3 166.2 178.0 166.5 177.4 166.6 177.1 166.9 175.8 167.0 175.6 167.3 174.9 167.5 175.1 167.7 175.5 167.7 175.7 168.0 176.5 168.5 177.1 168.7 177.0 168.8 176.9 169.0 176.6 169.2 176.2 169.4 175.4 169.5 174.9 169.6 174.2 169.7 173.4 169.9 170.5 170.0 169.8 170.2 166.1 170.4 161.3 170.4 159.9 170.5 158.5 170.7 152.6 170.8 149.6 171.0 144.8 171.2 142.9 171.4 145.8 171.5 147.0 171.6 149.7 171.7 152.6 172.0 161.4 172.2 166.2 172.5 171.3 172.6 172.5 172.8 174.4 173.0 175.6 173.5 176.9 173.6 177.0 173.7 177.1 174.0 177.1 174.1 177.1 174.5 177.1 174.6 177.1 175.0 177.6 175.1 177.8 175.2 177.9 175.5 178.4 175.6 178.5 176.0 178.9 176.4 179.1 176.5 179.1 176.6 179.1 177.0 179.0 177.5 178.7 177.6 178.6 177.7 178.5 178.0 178.1 178.3 177.5 178.5 177.2 179.0 176.8 179.5 177.4 179.7 177.7 180.0 178.5 180.3 179.0 180.5 179.3 181.0 179.9 181.4 180.2 181.5 180.3 181.6 180.4 182.0 180.6 182.5 180.7 182.9 180.8 183.0 180.9 183.5 180.9 183.9 181.0 184.0 181.0 184.5 181.0 185.0 180.9 185.5 180.8 186.0 180.6 186.2 180.5 186.4 180.3 186.5 180.3 187.0 179.7 187.1 179.5 187.5 178.6 187.7 178.1 188.0 176.0 188.2 174.4 188.4 169.4 188.4 167.6 188.5 165.5 188.7 155.3 188.8 141.1 188.9 132.6 189.0 138.9 189.0 142.3 189.2 155.4 189.3 167.7 189.4 169.4 189.5 172.0 189.7 174.6 189.8 176.2 190.0 177.6 190.2 178.3 190.5 179.4 190.7 179.8 191.0 180.3 191.4 180.8 191.5 180.9 191.6 181.0 192.0 181.2 192.5 181.5 193.0 181.7 193.5 181.9 193.9 181.9 194.0 182.0 194.5 182.1 195.0 182.1 195.5 182.2 196.0 182.3 196.4 182.3 196.5 182.3 197.0 182.4 197.5 182.4 198.0 182.4 198.5 182.5 199.0 182.5 199.5 182.5 200.0 182.5 200.5 182.5 201.0 182.6 201.5 182.6 202.0 182.6 202.5 182.6 203.0 182.6 203.5 182.6 204.0 182.6 204.5 182.6 205.0 182.6 205.5 182.7 206.0 182.7 206.5 182.7 207.0 182.7 207.5 182.7 208.0 182.7 208.5 182.7 209.0 182.7 209.5 182.7 210.0 182.7 210.5 182.7 211.0 182.7 211.5 182.7 212.0 182.7 212.5 182.7 213.0 182.7 213.5 182.7 214.0 182.7 214.5 182.7 215.0 182.7 215.1 182.7 215.5 182.7 216.0 182.7 216.5 182.7 216.6 182.7 217.0 182.7 217.5 182.7 218.0 182.7 218.1 182.7 218.5 182.7 218.8 182.7 219.0 182.7 219.5 182.7 219.6 182.7 220.0 182.7 220.3 182.7 220.5 182.7 221.0 182.7 221.1 182.7 221.5 182.7 222.0 182.7 222.5 182.7 222.6 182.7 223.0 182.7 223.5 182.7 224.0 182.7 224.1 182.7 224.5 182.7 225.0 182.7 225.5 182.7 226.0 182.7 226.5 182.7 227.0 182.7 227.5 182.7 228.0 182.7 228.5 182.7 229.0 182.6 229.5 182.6 230.0 182.5 230.5 182.4 231.0 182.2 231.5 181.6 231.6 181.5 231.9 180.3 232.0 179.6 232.2 176.7 232.4 173.2 232.5 171.6 232.6 170.6 232.8 173.1 232.9 176.6 233.0 177.4 233.3 180.2 233.5 181.0 233.7 181.3 234.0 181.7 234.5 181.8 235.0 181.3 235.1 181.2 235.4 180.0 235.5 179.3 235.8 176.1 235.9 172.4 236.0 170.6 236.1 169.7 236.3 172.4 236.4 176.2 236.5 177.0 236.8 180.1 237.0 181.0 237.2 181.4 237.5 182.0 238.0 182.3 238.5 182.5 239.0 182.6 239.5 182.6 240.0 182.7 240.5 182.7 241.0 182.7 241.5 182.7 242.0 182.7 242.5 182.7 243.0 182.7 243.5 182.7 244.0 182.8 244.5 182.8" stroke="#cc5868"/>
<path d="M32.5 153.4 33.0 153.4 33.5 153.4 34.0 153.4 34.5 153.4 35.0 153.4 35.5 153.4 36.0 153.4 36.5 153.3 37.0 153.3 37.5 153.3 38.0 153.3 38.5 153.3 39.0 153.3 39.5 153.3 40.0 153.2 40.5 153.1 40.6 153.1 41.0 152.9 41.1 152.8 41.5 152.1 41.5 152.0 41.8 151.2 42.0 150.7 42.2 151.2 42.5 152.0 42.5 152.1 42.9 152.7 43.0 152.8 43.4 152.9 43.5 153.0 43.9 152.9 44.0 152.9 44.3 152.7 44.5 152.5 44.8 152.0 45.0 151.2 45.0 151.1 45.2 150.7 45.4 151.2 45.5 151.5 45.6 152.0 46.0 152.7 46.1 152.8 46.5 153.0 46.5 153.0 47.0 153.1 47.5 153.2 48.0 153.2 48.5 153.3 49.0 153.3 49.5 153.3 50.0 153.3 50.5 153.3 51.0 153.3 51.5 153.3 52.0 153.3 52.5 153.3 53.0 153.3 53.5 153.3 54.0 153.3 54.5 153.3 55.0 153.3 55.5 153.3 56.0 153.3 56.5 153.3 57.0 153.3 57.5 153.3 58.0 153.3 58.5 153.3 59.0 153.3 59.5 153.2 60.0 153.2 60.5 153.2 61.0 153.2 61.5 153.2 62.0 153.2 62.5 153.2 63.0 153.2 63.5 153.2 64.0 153.2 64.5 153.2 65.0 153.2 65.5 153.2 66.0 153.2 66.5 153.2 67.0 153.2 67.5 153.2 68.0 153.2 68.5 153.2 69.0 153.2 69.5 153.2 70.0 153.2 70.5 153.2 71.0 153.2 71.5 153.2 72.0 153.2 72.5 153.2 73.0 153.2 73.5 153.2 74.0 153.2 74.5 153.1 75.0 153.1 75.5 153.1 76.0 153.1 76.5 153.1 77.0 153.1 77.5 153.1 78.0 153.1 78.5 153.1 79.0 153.1 79.5 153.1 80.0 153.1 80.5 153.0 81.0 153.0 81.5 153.0 82.0 153.0 82.5 152.9 83.0 152.9 83.5 152.9 84.0 152.8 84.5 152.7 85.0 152.6 85.5 152.5 85.6 152.4 86.0 152.3 86.5 152.0 87.0 151.5 87.2 151.2 87.5 150.7 88.0 148.8 88.2 147.0 88.4 142.8 88.5 138.5 88.6 130.7 88.7 118.7 88.8 110.7 88.9 118.7 89.0 130.7 89.2 142.7 89.4 146.8 89.5 147.9 89.6 148.6 90.0 150.1 90.4 150.8 90.5 150.9 91.0 151.3 91.5 151.5 92.0 151.6 92.5 151.6 93.0 151.6 93.5 151.5 93.6 151.5 94.0 151.5 94.5 151.5 95.0 151.4 95.5 151.4 96.0 151.4 96.5 151.3 97.0 151.3 97.5 151.3 98.0 151.3 98.5 151.3 99.0 151.4 99.5 151.4 100.0 151.4 100.5 151.4 101.0 151.4 101.5 151.4 102.0 151.4 102.5 151.2 103.0 151.0 103.5 150.5 104.0 149.3 104.5 146.5 105.0 141.1 105.5 133.9 106.0 129.9 106.5 133.9 107.0 141.0 107.5 146.4 108.0 149.1 108.5 150.2 109.0 150.8 109.5 151.1 110.0 151.5 110.5 151.8 111.0 152.0 111.5 152.2 112.0 152.4 112.5 152.5 113.0 152.5 113.5 152.6 114.0 152.7 114.5 152.7 115.0 152.7 115.5 152.7 116.0 152.8 116.5 152.8 117.0 152.8 117.5 152.8 118.0 152.8 118.5 152.8 119.0 152.8 119.5 152.8 120.0 152.8 120.5 152.8 121.0 152.8 121.5 152.8 122.0 152.8 122.5 152.8 123.0 152.8 123.5 152.8 124.0 152.8 124.5 152.8 125.0 152.7 125.5 152.7 126.0 152.7 126.5 152.7 127.0 152.7 127.5 152.6 128.0 152.6 128.5 152.5 129.0 152.4 129.5 152.3 130.0 152.1 130.2 152.0 130.5 151.9 130.8 151.7 131.0 151.6 131.4 151.4 131.5 151.3 131.7 151.2 132.0 151.0 132.2 150.9 132.3 150.9 132.5 150.8 132.6 150.7 133.0 150.6 133.2 150.5 133.5 150.5 133.8 150.5 134.0 150.6 134.4 150.7 134.5 150.7 134.7 150.8 134.8 150.8 135.0 151.0 135.3 151.2 135.5 151.3 135.6 151.4 135.8 151.5 136.0 151.7 136.2 151.9 136.5 152.3 136.6 152.4 136.8 152.7 137.0 153.1 137.4 153.6 137.5 153.6 137.8 153.2 138.0 152.9 138.2 152.6 138.5 152.3 138.9 152.0 139.0 151.9 139.5 151.6 139.8 151.4 140.0 151.3 140.1 151.2 140.5 150.9 141.0 150.3 141.3 149.9 141.5 149.5 141.9 148.6 142.0 148.4 142.5 147.7 143.0 148.2 143.1 148.4 143.5 149.2 143.7 149.5 144.0 149.9 144.5 150.4 144.9 150.6 145.0 150.6 145.5 150.8 146.0 150.8 146.1 150.8 146.5 150.8 147.0 150.8 147.5 150.8 148.0 150.8 148.5 150.7 149.0 150.7 149.5 150.6 150.0 150.6 150.5 150.5 151.0 150.5 151.5 150.4 152.0 150.4 152.5 150.3 153.0 150.2 153.5 150.2 154.0 150.1 154.5 150.1 155.0 150.0 155.5 150.0 156.0 149.9 156.5 149.9 157.0 149.8 157.5 149.8 158.0 149.7 158.5 149.7 159.0 149.7 159.5 149.6 160.0 149.6 160.5 149.6 161.0 149.5 161.5 149.5 162.0 149.5 162.5 149.4 163.0 149.4 163.5 149.3 164.0 149.2 164.5 149.1 165.0 149.0 165.2 148.9 165.5 148.8 165.9 148.4 166.0 148.3 166.2 148.0 166.5 147.4 166.6 147.1 166.9 145.8 167.0 145.6 167.3 144.9 167.5 145.1 167.7 145.5 167.7 145.6 168.0 146.4 168.5 146.9 168.7 146.9 168.7 146.8 169.0 146.4 169.2 145.8 169.4 145.0 169.5 144.4 169.7 142.7 169.9 139.7 170.0 138.9 170.2 135.2 170.3 131.8 170.4 129.3 170.5 127.9 170.7 122.5 170.8 120.6 171.0 115.5 171.2 113.9 171.4 116.4 171.5 117.5 171.6 119.8 171.6 120.4 171.7 122.5 172.0 130.6 172.1 131.9 172.2 135.3 172.5 140.5 172.6 141.8 172.9 144.5 173.0 145.1 173.5 146.7 173.6 146.8 173.7 146.9 173.8 146.9 174.0 147.0 174.1 147.0 174.5 147.0 174.6 147.0 175.0 147.5 175.1 147.7 175.2 147.9 175.5 148.3 175.6 148.4 176.0 148.8 176.4 149.0 176.5 149.0 176.6 149.0 177.0 149.0 177.5 148.6 177.6 148.5 177.7 148.4 178.0 148.0 178.3 147.4 178.5 147.2 179.0 146.7 179.5 147.4 179.7 147.7 180.0 148.4 180.3 149.0 180.5 149.3 181.0 149.9 181.4 150.2 181.5 150.2 181.6 150.3 182.0 150.5 182.5 150.7 182.9 150.8 183.0 150.8 183.5 150.8 183.9 150.9 184.0 150.9 184.5 150.9 185.0 150.8 185.5 150.7 186.0 150.5 186.2 150.4 186.4 150.3 186.5 150.2 187.0 149.7 187.1 149.6 187.5 148.9 187.7 148.5 188.0 147.1 188.3 144.2 188.4 141.1 188.5 139.4 188.7 125.6 188.8 112.1 188.9 103.0 189.0 112.1 189.1 125.7 189.3 139.5 189.3 141.1 189.5 144.3 189.8 147.2 190.0 148.2 190.2 148.7 190.5 149.6 190.7 149.9 191.0 150.3 191.4 150.7 191.5 150.8 191.6 150.9 192.0 151.1 192.5 151.4 193.0 151.6 193.5 151.7 193.9 151.8 194.0 151.8 194.5 151.9 195.0 152.0 195.5 152.1 196.0 152.1 196.4 152.2 196.5 152.2 197.0 152.2 197.5 152.2 198.0 152.3 198.5 152.3 199.0 152.3 199.5 152.3 200.0 152.4 200.5 152.4 201.0 152.4 201.5 152.4 202.0 152.4 202.5 152.4 203.0 152.4 203.5 152.4 204.0 152.5 204.5 152.5 205.0 152.5 205.5 152.5 206.0 152.5 206.5 152.5 207.0 152.5 207.5 152.5 208.0 152.5 208.5 152.5 209.0 152.5 209.5 152.5 210.0 152.5 210.5 152.5 211.0 152.5 211.5 152.5 212.0 152.5 212.5 152.5 213.0 152.5 213.5 152.5 214.0 152.5 214.5 152.5 215.0 152.5 215.1 152.5 215.5 152.5 216.0 152.5 216.5 152.5 216.6 152.5 217.0 152.5 217.5 152.5 218.0 152.5 218.1 152.5 218.5 152.5 218.8 152.5 219.0 152.5 219.5 152.5 219.6 152.5 220.0 152.5 220.3 152.5 220.5 152.5 221.0 152.5 221.1 152.5 221.5 152.5 222.0 152.5 222.5 152.5 222.6 152.5 223.0 152.5 223.5 152.5 224.0 152.4 224.1 152.4 224.5 152.4 225.0 152.4 225.5 152.4 226.0 152.4 226.5 152.4 227.0 152.4 227.5 152.4 228.0 152.4 228.5 152.4 229.0 152.3 229.5 152.3 230.0 152.3 230.5 152.2 231.0 152.0 231.5 151.6 231.6 151.5 231.9 150.6 232.0 150.1 232.2 147.9 232.4 145.2 232.5 144.0 232.6 143.3 232.8 145.2 232.9 147.8 233.0 148.4 233.3 150.5 233.5 151.1 233.7 151.3 234.0 151.6 234.5 151.7 235.0 151.3 235.1 151.2 235.4 150.3 235.5 149.8 235.8 147.3 235.9 144.4 236.0 143.1 236.1 142.3 236.3 144.4 236.4 147.3 236.5 148.0 236.8 150.4 237.0 151.0 237.2 151.4 237.5 151.8 238.0 152.0 238.5 152.2 239.0 152.2 239.5 152.3 240.0 152.3 240.5 152.3 241.0 152.3 241.5 152.3 242.0 152.4 242.5 152.4 243.0 152.4 243.5 152.4 244.0 152.4 244.5 152.4" stroke="#e07a4a"/>
<path d="M32.5 123.6 33.0 123.6 33.5 123.5 34.0 123.5 34.5 123.5 35.0 123.5 35.5 123.5 36.0 123.5 36.5 123.5 37.0 123.5 37.5 123.5 38.0 123.4 38.5 123.4 39.0 123.4 39.5 123.3 40.0 123.2 40.5 122.9 40.6 122.8 41.0 122.3 41.1 122.1 41.5 120.5 41.5 120.2 41.8 118.2 42.0 116.9 42.2 118.2 42.5 120.1 42.5 120.4 42.9 122.0 43.0 122.2 43.4 122.5 43.5 122.6 43.9 122.5 44.0 122.4 44.3 122.0 44.5 121.5 44.8 120.3 45.0 118.5 45.0 118.3 45.2 117.3 45.4 118.6 45.5 119.2 45.6 120.4 46.0 121.9 46.1 122.2 46.5 122.8 46.5 122.8 47.0 123.0 47.5 123.2 48.0 123.3 48.5 123.3 49.0 123.3 49.5 123.3 50.0 123.4 50.5 123.4 51.0 123.4 51.5 123.4 52.0 123.4 52.5 123.4 53.0 123.4 53.5 123.4 54.0 123.4 54.5 123.4 55.0 123.4 55.5 123.4 56.0 123.3 56.5 123.3 57.0 123.3 57.5 123.3 58.0 123.3 58.5 123.3 59.0 123.3 59.5 123.3 60.0 123.3 60.5 123.3 61.0 123.3 61.5 123.3 62.0 123.3 62.5 123.3 63.0 123.3 63.5 123.3 64.0 123.3 64.5 123.3 65.0 123.3 65.5 123.3 66.0 123.3 66.5 123.2 67.0 123.2 67.5 123.2 68.0 123.2 68.5 123.2 69.0 123.2 69.5 123.2 70.0 123.2 70.5 123.2 71.0 123.2 71.5 123.2 72.0 123.2 72.5 123.2 73.0 123.2 73.5 123.1 74.0 123.1 74.5 123.1 75.0 123.1 75.5 123.1 76.0 123.1 76.5 123.1 77.0 123.1 77.5 123.0 78.0 123.0 78.5 123.0 79.0 123.0 79.5 123.0 80.0 122.9 80.5 122.9 81.0 122.9 81.5 122.8 82.0 122.8 82.5 122.7 83.0 122.6 83.5 122.5 84.0 122.4 84.2 122.4 84.5 122.3 85.0 122.1 85.5 121.8 85.8 121.6 86.0 121.4 86.5 120.9 87.0 119.9 87.4 118.7 87.5 118.2 88.0 114.3 88.1 112.8 88.2 110.9 88.4 104.8 88.5 99.7 88.7 81.4 88.8 58.2 89.0 42.7 89.2 58.1 89.3 81.2 89.5 99.4 89.6 104.5 89.8 110.5 89.9 112.4 90.0 113.8 90.5 117.5 90.6 117.9 91.0 119.0 91.5 119.7 92.0 120.0 92.2 120.1 92.5 120.2 93.0 120.2 93.5 120.2 93.8 120.2 94.0 120.1 94.5 120.0 95.0 119.9 95.5 119.8 96.0 119.7 96.5 119.6 97.0 119.5 97.5 119.4 98.0 119.3 98.5 119.2 99.0 119.1 99.5 119.0 100.0 118.9 100.5 118.8 101.0 118.7 101.5 118.5 102.0 118.2 102.1 118.2 102.5 117.8 103.0 117.0 103.4 115.7 103.5 115.3 104.0 112.1 104.5 106.6 104.7 103.7 105.0 98.9 105.3 93.2 105.5 91.0 106.0 87.2 106.5 90.8 106.7 92.9 107.0 98.6 107.3 103.2 107.5 105.9 108.0 111.1 108.5 114.1 108.6 114.5 109.0 115.8 109.5 116.9 109.9 117.7 110.0 117.9 110.5 118.8 111.0 119.5 111.5 120.0 112.0 120.4 112.5 120.7 113.0 121.0 113.5 121.2 114.0 121.3 114.5 121.4 115.0 121.5 115.5 121.5 116.0 121.6 116.5 121.6 117.0 121.6 117.5 121.6 118.0 121.6 118.5 121.6 119.0 121.6 119.5 121.6 120.0 121.6 120.5 121.6 121.0 121.5 121.5 121.5 122.0 121.5 122.5 121.5 123.0 121.4 123.5 121.4 124.0 121.3 124.5 121.3 125.0 121.3 125.5 121.2 126.0 121.2 126.5 121.1 127.0 121.1 127.5 121.0 128.0 120.9 128.5 120.9 129.0 120.8 129.5 120.7 130.0 120.5 130.2 120.5 130.5 120.4 130.8 120.3 131.0 120.2 131.4 120.1 131.5 120.0 131.7 119.9 132.0 119.8 132.2 119.7 132.3 119.7 132.5 119.7 132.6 119.6 133.0 119.5 133.2 119.5 133.5 119.5 133.8 119.4 134.0 119.5 134.4 119.5 134.5 119.5 134.7 119.5 134.8 119.6 135.0 119.6 135.3 119.7 135.5 119.8 135.6 119.8 135.8 119.9 136.0 120.0 136.2 120.2 136.5 120.5 136.6 120.6 136.8 120.9 137.0 121.2 137.4 121.6 137.5 121.6 137.8 121.2 138.0 120.9 138.2 120.6 138.5 120.2 138.9 119.9 139.0 119.9 139.5 119.6 139.8 119.5 140.0 119.4 140.1 119.3 140.5 119.1 141.0 118.8 141.3 118.5 141.5 118.3 141.9 117.8 142.0 117.7 142.5 117.4 143.0 117.6 143.1 117.7 143.5 118.0 143.7 118.2 144.0 118.4 144.5 118.6 144.9 118.6 145.0 118.7 145.5 118.7 146.0 118.7 146.1 118.7 146.5 118.7 147.0 118.7 147.5 118.6 148.0 118.6 148.5 118.6 149.0 118.5 149.5 118.5 150.0 118.4 150.5 118.4 151.0 118.3 151.5 118.3 152.0 118.3 152.5 118.2 153.0 118.2 153.5 118.1 154.0 118.1 154.5 118.0 155.0 118.0 155.5 118.0 156.0 117.9 156.5 117.9 157.0 117.8 157.5 117.8 158.0 117.8 158.5 117.7 159.0 117.7 159.5 117.6 160.0 117.6 160.5 117.5 161.0 117.5 161.5 117.4 162.0 117.4 162.5 117.3 163.0 117.2 163.5 117.1 164.0 117.0 164.5 116.8 165.0 116.6 165.2 116.5 165.5 116.3 165.9 115.9 166.0 115.8 166.2 115.5 166.5 115.0 166.6 114.8 166.9 113.7 167.0 113.5 167.3 112.6 167.5 112.2 167.7 111.9 167.7 111.9 168.0 111.0 168.5 108.0 168.7 106.3 169.0 103.0 169.2 100.4 169.4 97.6 169.5 96.1 169.7 93.1 169.9 89.4 170.0 88.7 170.2 86.3 170.4 84.1 170.5 83.8 170.7 83.3 171.0 84.4 171.2 85.9 171.2 86.0 171.2 86.1 171.2 86.2 171.2 86.3 171.2 86.5 171.2 86.6 171.4 89.4 171.5 90.1 171.6 91.6 171.7 93.0 172.0 97.5 172.2 100.3 172.5 104.0 172.6 105.1 173.0 108.5 173.5 111.1 173.6 111.4 173.7 111.6 174.0 112.0 174.1 112.1 174.5 112.1 174.6 112.1 175.0 112.4 175.1 112.5 175.2 112.6 175.5 112.9 175.6 113.0 176.0 113.2 176.4 113.3 176.5 113.3 176.6 113.4 177.0 113.5 177.5 113.8 177.6 113.8 177.7 113.8 178.0 113.8 178.3 113.8 178.5 113.8 179.0 113.9 179.5 114.8 179.7 115.1 180.0 115.8 180.3 116.4 180.5 116.7 181.0 117.2 181.4 117.5 181.5 117.6 181.6 117.6 182.0 117.8 182.5 118.0 182.9 118.0 183.0 118.1 183.5 118.1 183.9 118.1 184.0 118.1 184.5 118.0 185.0 117.9 185.5 117.6 186.0 117.0 186.2 116.7 186.4 116.3 186.5 116.0 187.0 113.4 187.1 112.4 187.3 108.4 187.5 103.7 187.6 98.7 187.7 95.2 187.8 69.8 188.0 42.2 188.0 35.0 188.1 21.7 188.2 39.7 188.3 69.7 188.4 85.2 188.5 90.7 188.6 98.4 188.8 108.0 188.9 109.1 189.0 110.8 189.3 114.1 189.5 114.9 189.8 116.0 190.0 116.5 190.2 116.8 190.5 117.4 190.7 117.7 191.0 118.0 191.4 118.4 191.5 118.5 191.6 118.6 192.0 118.9 192.5 119.1 193.0 119.4 193.5 119.5 193.9 119.7 194.0 119.7 194.5 119.8 195.0 119.9 195.5 120.0 196.0 120.1 196.4 120.2 196.5 120.2 197.0 120.3 197.5 120.4 198.0 120.4 198.5 120.5 199.0 120.6 199.5 120.6 200.0 120.7 200.5 120.7 201.0 120.8 201.5 120.8 202.0 120.9 202.5 120.9 203.0 120.9 203.5 121.0 204.0 121.0 204.5 121.1 205.0 121.1 205.5 121.1 206.0 121.2 206.5 121.2 207.0 121.2 207.5 121.2 208.0 121.3 208.5 121.3 209.0 121.3 209.5 121.4 210.0 121.4 210.5 121.4 211.0 121.4 211.5 121.4 212.0 121.4 212.5 121.5 213.0 121.5 213.5 121.5 214.0 121.5 214.5 121.5 215.0 121.5 215.1 121.5 215.5 121.5 216.0 121.5 216.5 121.5 216.6 121.5 217.0 121.5 217.5 121.4 218.0 121.3 218.1 121.3 218.5 121.2 218.8 121.1 219.0 121.1 219.5 121.0 219.6 121.0 220.0 121.0 220.3 121.1 220.5 121.2 221.0 121.3 221.1 121.3 221.5 121.4 222.0 121.5 222.5 121.5 222.6 121.6 223.0 121.6 223.5 121.6 224.0 121.6 224.1 121.6 224.5 121.6 225.0 121.6 225.5 121.6 226.0 121.6 226.5 121.6 227.0 121.5 227.5 121.5 228.0 121.4 228.5 121.3 229.0 121.0 229.1 121.0 229.5 120.7 229.8 120.3 230.0 119.9 230.5 118.1 230.8 116.0 231.0 115.1 231.2 114.5 231.5 115.6 231.6 115.9 231.9 117.9 232.0 118.3 232.5 119.6 232.6 119.7 233.0 119.9 233.3 119.7 233.5 119.4 234.0 117.9 234.3 115.9 234.5 115.0 234.7 114.5 235.0 115.7 235.1 116.0 235.4 118.1 235.5 118.6 236.0 120.1 236.1 120.3 236.5 120.8 236.8 121.0 237.0 121.1 237.5 121.3 238.0 121.4 238.5 121.5 239.0 121.6 239.5 121.6 240.0 121.6 240.5 121.6 241.0 121.7 241.5 121.7 242.0 121.7 242.5 121.7 243.0 121.7 243.5 121.7 244.0 121.7 244.5 121.7" stroke="#eeab42"/>
</g>
<line x1="32.5" y1="127.2" x2="38.0" y2="127.2" stroke="#111" stroke-width="1.7"/>
<line x1="43.1" y1="127.2" x2="48.7" y2="127.2" stroke="#111" stroke-width="1.7"/>
<line x1="53.8" y1="127.2" x2="59.4" y2="127.2" stroke="#111" stroke-width="1.7"/>
<line x1="64.2" y1="127.2" x2="69.8" y2="127.2" stroke="#111" stroke-width="1.7"/>
<line x1="74.8" y1="127.2" x2="80.4" y2="127.2" stroke="#111" stroke-width="1.7"/>
<line x1="95.6" y1="127.2" x2="101.2" y2="127.2" stroke="#111" stroke-width="1.7"/>
<line x1="106.2" y1="127.2" x2="111.8" y2="127.2" stroke="#111" stroke-width="1.7"/>
<line x1="116.2" y1="127.2" x2="121.8" y2="127.2" stroke="#111" stroke-width="1.7"/>
<line x1="127.0" y1="127.2" x2="132.6" y2="127.2" stroke="#111" stroke-width="1.7"/>
<line x1="137.1" y1="127.2" x2="142.7" y2="127.2" stroke="#111" stroke-width="1.7"/>
<line x1="145.2" y1="127.2" x2="150.8" y2="127.2" stroke="#111" stroke-width="1.7"/>
<line x1="157.0" y1="127.2" x2="162.6" y2="127.2" stroke="#111" stroke-width="1.7"/>
<line x1="176.8" y1="127.2" x2="182.4" y2="127.2" stroke="#111" stroke-width="1.7"/>
<line x1="192.7" y1="127.2" x2="198.3" y2="127.2" stroke="#111" stroke-width="1.7"/>
<line x1="203.4" y1="127.2" x2="209.0" y2="127.2" stroke="#111" stroke-width="1.7"/>
<line x1="213.9" y1="127.2" x2="219.5" y2="127.2" stroke="#111" stroke-width="1.7"/>
<line x1="224.6" y1="127.2" x2="230.2" y2="127.2" stroke="#111" stroke-width="1.7"/>
<line x1="235.4" y1="127.2" x2="241.0" y2="127.2" stroke="#111" stroke-width="1.7"/>
<rect x="32.5" y="17.8" width="212.0" height="318.5" fill="none" stroke="#2a2a2a" stroke-width="1"/>
<line x1="50.50" y1="336.30" x2="50.50" y2="333.50" stroke="#2a2a2a"/>
<line x1="50.50" y1="17.80" x2="50.50" y2="20.60" stroke="#2a2a2a"/>
<line x1="94.50" y1="336.30" x2="94.50" y2="333.50" stroke="#2a2a2a"/>
<line x1="94.50" y1="17.80" x2="94.50" y2="20.60" stroke="#2a2a2a"/>
<line x1="138.50" y1="336.30" x2="138.50" y2="333.50" stroke="#2a2a2a"/>
<line x1="138.50" y1="17.80" x2="138.50" y2="20.60" stroke="#2a2a2a"/>
<line x1="182.50" y1="336.30" x2="182.50" y2="333.50" stroke="#2a2a2a"/>
<line x1="182.50" y1="17.80" x2="182.50" y2="20.60" stroke="#2a2a2a"/>
<line x1="226.50" y1="336.30" x2="226.50" y2="333.50" stroke="#2a2a2a"/>
<line x1="226.50" y1="17.80" x2="226.50" y2="20.60" stroke="#2a2a2a"/>
<line x1="32.50" y1="336.20" x2="35.30" y2="336.20" stroke="#2a2a2a"/>
<line x1="244.50" y1="336.20" x2="241.70" y2="336.20" stroke="#2a2a2a"/>
<line x1="32.50" y1="285.10" x2="35.30" y2="285.10" stroke="#2a2a2a"/>
<line x1="244.50" y1="285.10" x2="241.70" y2="285.10" stroke="#2a2a2a"/>
<line x1="32.50" y1="234.00" x2="35.30" y2="234.00" stroke="#2a2a2a"/>
<line x1="244.50" y1="234.00" x2="241.70" y2="234.00" stroke="#2a2a2a"/>
<line x1="32.50" y1="182.90" x2="35.30" y2="182.90" stroke="#2a2a2a"/>
<line x1="244.50" y1="182.90" x2="241.70" y2="182.90" stroke="#2a2a2a"/>
<line x1="32.50" y1="131.80" x2="35.30" y2="131.80" stroke="#2a2a2a"/>
<line x1="244.50" y1="131.80" x2="241.70" y2="131.80" stroke="#2a2a2a"/>
<line x1="32.50" y1="80.70" x2="35.30" y2="80.70" stroke="#2a2a2a"/>
<line x1="244.50" y1="80.70" x2="241.70" y2="80.70" stroke="#2a2a2a"/>
<line x1="32.50" y1="29.60" x2="35.30" y2="29.60" stroke="#2a2a2a"/>
<line x1="244.50" y1="29.60" x2="241.70" y2="29.60" stroke="#2a2a2a"/>
<text x="50.50" y="351.20" font-size="11" text-anchor="middle" fill="#222" stroke="#222" stroke-width="0.2" font-family="Liberation Sans, sans-serif" >-400</text>
<text x="94.50" y="351.20" font-size="11" text-anchor="middle" fill="#222" stroke="#222" stroke-width="0.2" font-family="Liberation Sans, sans-serif" >-200</text>
<text x="138.50" y="351.20" font-size="11" text-anchor="middle" fill="#222" stroke="#222" stroke-width="0.2" font-family="Liberation Sans, sans-serif" >0</text>
<text x="182.50" y="351.20" font-size="11" text-anchor="middle" fill="#222" stroke="#222" stroke-width="0.2" font-family="Liberation Sans, sans-serif" >200</text>
<text x="226.50" y="351.20" font-size="11" text-anchor="middle" fill="#222" stroke="#222" stroke-width="0.2" font-family="Liberation Sans, sans-serif" >400</text>
<text x="29.20" y="340.10" font-size="11" text-anchor="end" fill="#222" stroke="#222" stroke-width="0.2" font-family="Liberation Sans, sans-serif" >0</text>
<text x="29.20" y="289.00" font-size="11" text-anchor="end" fill="#222" stroke="#222" stroke-width="0.2" font-family="Liberation Sans, sans-serif" >0.5</text>
<text x="29.20" y="237.90" font-size="11" text-anchor="end" fill="#222" stroke="#222" stroke-width="0.2" font-family="Liberation Sans, sans-serif" >1</text>
<text x="29.20" y="186.80" font-size="11" text-anchor="end" fill="#222" stroke="#222" stroke-width="0.2" font-family="Liberation Sans, sans-serif" >1.5</text>
<text x="29.20" y="135.70" font-size="11" text-anchor="end" fill="#222" stroke="#222" stroke-width="0.2" font-family="Liberation Sans, sans-serif" >2</text>
<text x="29.20" y="84.60" font-size="11" text-anchor="end" fill="#222" stroke="#222" stroke-width="0.2" font-family="Liberation Sans, sans-serif" >2.5</text>
<text x="29.20" y="33.50" font-size="11" text-anchor="end" fill="#222" stroke="#222" stroke-width="0.2" font-family="Liberation Sans, sans-serif" >3</text>
<text x="37.00" y="330.00" font-size="11" text-anchor="start" fill="#222" stroke="#222" stroke-width="0.2" font-family="Liberation Sans, sans-serif" >80 K</text>
<text x="37.00" y="298.40" font-size="11" text-anchor="start" fill="#222" stroke="#222" stroke-width="0.2" font-family="Liberation Sans, sans-serif" >120 K</text>
<text x="37.00" y="268.20" font-size="11" text-anchor="start" fill="#222" stroke="#222" stroke-width="0.2" font-family="Liberation Sans, sans-serif" >160 K</text>
<text x="37.00" y="238.40" font-size="11" text-anchor="start" fill="#222" stroke="#222" stroke-width="0.2" font-family="Liberation Sans, sans-serif" >200 K</text>
<text x="37.00" y="207.80" font-size="11" text-anchor="start" fill="#222" stroke="#222" stroke-width="0.2" font-family="Liberation Sans, sans-serif" >240 K</text>
<text x="37.00" y="178.80" font-size="11" text-anchor="start" fill="#222" stroke="#222" stroke-width="0.2" font-family="Liberation Sans, sans-serif" >280 K</text>
<text x="37.00" y="146.60" font-size="11" text-anchor="start" fill="#222" stroke="#222" stroke-width="0.2" font-family="Liberation Sans, sans-serif" >320 K</text>
<text x="37.00" y="114.60" font-size="11" text-anchor="start" fill="#222" stroke="#222" stroke-width="0.2" font-family="Liberation Sans, sans-serif" >640 K</text>
<g clip-path="url(#c2)" fill="none" stroke-width="1.15" stroke-linejoin="round">
<path d="M266.0 333.4 266.5 333.4 267.0 333.3 267.5 333.3 268.0 333.3 268.5 333.3 269.0 333.3 269.5 333.3 270.0 333.3 270.5 333.3 271.0 333.3 271.5 333.3 272.0 333.3 272.2 333.3 272.5 333.3 272.8 333.2 273.0 333.2 273.4 333.2 273.5 333.1 273.7 333.1 274.0 333.0 274.3 333.1 274.5 333.1 274.6 333.1 275.0 333.2 275.2 333.2 275.5 333.2 275.8 333.3 276.0 333.3 276.5 333.3 277.0 333.3 277.5 333.3 278.0 333.2 278.2 333.2 278.5 333.2 278.8 333.2 279.0 333.2 279.4 333.1 279.5 333.1 279.7 333.0 280.0 333.0 280.3 333.0 280.5 333.1 280.6 333.1 281.0 333.2 281.2 333.2 281.5 333.2 281.8 333.2 282.0 333.2 282.5 333.2 283.0 333.2 283.5 333.2 284.0 333.2 284.5 333.2 285.0 333.2 285.5 333.2 286.0 333.2 286.5 333.2 287.0 333.2 287.5 333.2 288.0 333.2 288.5 333.2 289.0 333.2 289.5 333.2 290.0 333.2 290.5 333.2 291.0 333.2 291.5 333.2 292.0 333.2 292.5 333.2 293.0 333.2 293.5 333.2 294.0 333.2 294.5 333.1 294.6 333.1 295.0 333.1 295.5 333.1 296.0 333.1 296.5 333.1 296.6 333.1 297.0 333.1 297.5 333.1 298.0 333.1 298.5 333.1 298.6 333.1 299.0 333.1 299.5 333.1 299.6 333.1 300.0 333.0 300.1 332.9 300.3 332.7 300.4 332.1 300.5 331.7 300.5 331.5 300.6 331.1 300.7 331.5 300.8 332.1 300.9 332.7 301.0 332.9 301.1 332.9 301.5 333.0 301.6 333.1 302.0 333.1 302.5 333.1 302.6 333.1 303.0 333.1 303.5 333.1 304.0 333.1 304.5 333.1 304.6 333.1 305.0 333.1 305.5 333.1 306.0 333.1 306.5 333.1 306.6 333.1 307.0 333.1 307.5 333.0 308.0 333.0 308.5 333.0 309.0 333.0 309.5 333.0 310.0 333.0 310.5 333.0 311.0 333.0 311.5 333.0 312.0 333.0 312.5 333.0 313.0 333.0 313.5 333.0 314.0 333.0 314.5 333.0 315.0 333.0 315.5 333.0 316.0 333.0 316.5 333.0 317.0 333.0 317.5 333.0 318.0 333.0 318.5 333.0 319.0 333.0 319.5 333.0 319.8 333.0 320.0 332.9 320.5 332.9 320.8 332.9 321.0 332.9 321.2 332.9 321.5 332.9 321.8 332.9 322.0 332.9 322.3 332.8 322.4 332.8 322.5 332.8 322.7 332.7 322.8 332.7 323.0 332.6 323.3 332.7 323.5 332.7 323.6 332.8 323.8 332.8 324.0 332.9 324.2 332.9 324.5 332.9 324.8 332.9 325.0 332.9 325.5 332.9 325.8 332.9 326.0 332.9 326.5 332.9 327.0 332.9 327.5 332.9 328.0 332.9 328.5 332.9 329.0 332.9 329.5 332.9 330.0 332.9 330.5 332.9 331.0 332.9 331.5 332.9 332.0 332.8 332.5 332.8 333.0 332.8 333.5 332.7 334.0 332.6 334.5 332.7 335.0 332.7 335.5 332.8 336.0 332.8 336.5 332.8 337.0 332.8 337.5 332.8 338.0 332.8 338.5 332.8 339.0 332.8 339.5 332.8 340.0 332.8 340.5 332.8 341.0 332.8 341.5 332.8 342.0 332.8 342.5 332.8 343.0 332.8 343.5 332.8 344.0 332.8 344.5 332.8 345.0 332.8 345.5 332.8 346.0 332.7 346.5 332.7 347.0 332.7 347.5 332.7 348.0 332.7 348.5 332.7 349.0 332.6 349.5 332.6 350.0 332.6 350.5 332.6 351.0 332.6 351.5 332.5 352.0 332.5 352.5 332.5 353.0 332.5 353.5 332.5 354.0 332.4 354.5 332.4 355.0 332.4 355.5 332.4 356.0 332.4 356.5 332.3 357.0 332.3 357.5 332.3 358.0 332.3 358.5 332.3 359.0 332.3 359.5 332.2 360.0 332.2 360.5 332.2 361.0 332.2 361.5 332.2 362.0 332.1 362.5 332.1 363.0 332.1 363.5 332.1 364.0 332.1 364.5 332.0 365.0 332.0 365.5 332.0 366.0 332.0 366.5 332.0 367.0 331.9 367.5 331.9 368.0 331.9 368.5 331.9 368.6 331.9 369.0 331.9 369.5 331.9 370.0 331.8 370.5 331.8 371.0 331.8 371.5 331.8 372.0 331.9 372.5 332.1 373.0 332.2 373.5 332.1 374.0 331.9 374.4 331.8 374.5 331.7 374.7 331.7 375.0 331.6 375.5 331.5 375.6 331.5 376.0 331.3 376.5 331.1 376.8 330.9 377.0 330.7 377.4 330.3 377.5 330.1 378.0 329.8 378.5 330.1 378.6 330.2 379.0 330.6 379.2 330.8 379.5 331.0 380.0 331.2 380.4 331.3 380.5 331.3 380.7 331.3 381.0 331.2 381.5 331.1 381.6 331.0 381.9 330.8 382.0 330.8 382.5 330.3 383.0 329.9 383.1 329.9 383.5 330.2 383.7 330.4 384.0 330.7 384.3 331.0 384.5 331.2 385.0 331.5 385.5 331.6 386.0 331.8 386.5 331.9 386.7 331.9 387.0 331.9 387.5 332.0 388.0 332.0 388.5 332.0 389.0 332.1 389.5 332.1 390.0 332.1 390.5 332.1 391.0 332.1 391.5 332.2 392.0 332.2 392.5 332.2 393.0 332.2 393.5 332.2 394.0 332.2 394.5 332.2 395.0 332.3 395.5 332.3 396.0 332.3 396.5 332.3 397.0 332.3 397.5 332.3 398.0 332.3 398.5 332.3 399.0 332.4 399.5 332.4 400.0 332.4 400.5 332.4 401.0 332.4 401.5 332.4 402.0 332.4 402.5 332.4 403.0 332.4 403.5 332.4 404.0 332.4 404.5 332.4 405.0 332.3 405.5 332.3 406.0 332.3 406.2 332.3 406.5 332.2 407.0 332.1 407.1 332.0 407.5 331.7 408.0 330.8 408.4 329.8 408.5 329.7 408.9 329.2 409.0 329.2 409.4 329.7 409.5 329.9 409.6 330.1 409.8 330.5 410.0 330.8 410.3 331.0 410.5 330.9 410.6 330.8 410.7 330.8 411.0 330.7 411.4 331.0 411.5 331.3 411.6 331.4 411.7 331.5 412.0 331.8 412.4 332.0 412.5 332.0 413.0 332.1 413.1 332.1 413.5 332.2 414.0 332.2 414.5 332.2 415.0 332.2 415.5 332.2 416.0 332.1 416.5 332.1 417.0 332.0 417.5 331.8 418.0 331.4 418.1 331.3 418.5 330.4 418.9 327.6 419.0 327.1 419.2 325.0 419.4 323.1 419.5 323.5 419.6 324.7 419.9 327.4 420.0 328.6 420.3 329.8 420.5 329.8 420.8 328.8 421.0 326.5 421.2 323.3 421.5 321.7 421.8 323.5 422.0 326.7 422.5 330.6 423.0 331.1 423.2 331.2 423.5 331.1 424.0 331.1 424.5 331.3 424.8 331.4 425.0 331.5 425.5 331.7 426.0 331.9 426.5 332.0 427.0 332.1 427.5 332.1 428.0 332.1 428.5 332.2 429.0 332.2 429.5 332.2 430.0 332.2 430.5 332.2 431.0 332.2 431.5 332.2 432.0 332.2 432.5 332.2 433.0 332.2 433.5 332.2 434.0 332.2 434.5 332.2 435.0 332.2 435.5 332.2 436.0 332.2 436.5 332.1 437.0 332.1 437.3 332.1 437.5 332.1 438.0 332.1 438.5 332.0 439.0 331.9 439.3 331.9 439.5 331.9 440.0 331.7 440.5 331.5 441.0 331.2 441.3 330.9 441.5 330.7 441.8 330.2 442.0 329.7 442.3 328.5 442.5 327.4 442.6 326.6 442.8 324.5 443.0 321.1 443.1 318.7 443.3 310.8 443.4 304.3 443.5 295.5 443.6 290.6 443.7 281.9 443.8 286.9 443.9 291.7 444.0 306.1 444.2 317.6 444.3 320.9 444.5 324.9 444.6 326.1 445.0 328.9 445.3 330.0 445.5 330.4 445.8 330.8 446.0 331.1 446.5 331.4 447.0 331.6 447.3 331.7 447.5 331.8 448.0 331.9 448.5 332.0 449.0 332.0 449.3 332.0 449.5 332.0 450.0 332.1 450.5 332.1 451.0 332.1 451.5 332.1 452.0 332.1 452.5 332.1 453.0 332.1 453.5 332.1 454.0 332.2 454.5 332.2 455.0 332.2 455.5 332.2 456.0 332.1 456.5 332.1 457.0 332.1 457.5 332.1 458.0 332.1 458.5 332.1 459.0 332.1 459.5 332.1 460.0 332.1 460.5 332.0 461.0 332.0 461.5 331.9 462.0 331.8 462.5 331.7 463.0 331.4 463.5 330.9 463.6 330.6 464.0 329.6 464.1 329.1 464.5 325.4 464.6 324.6 464.8 320.2 465.0 317.1 465.2 320.2 465.4 324.6 465.5 325.4 465.9 329.1 466.0 329.6 466.4 330.6 466.5 330.8 467.0 331.3 467.5 331.5 468.0 331.6 468.5 331.5 469.0 331.3 469.4 330.8 469.5 330.7 469.9 329.7 470.0 329.2 470.4 326.1 470.5 323.8 470.6 322.6 470.8 320.1 471.0 322.1 471.0 322.6 471.2 326.1 471.5 328.6 471.7 329.7 472.0 330.6 472.1 330.9 472.5 331.3 473.0 331.6 473.5 331.8 474.0 331.9 474.5 332.0 475.0 332.0 475.5 332.0 476.0 332.0 476.5 332.1 477.0 332.1 477.5 332.1 478.0 332.1 478.5 332.1" stroke="#363636"/>
<path d="M266.0 307.3 266.5 307.3 267.0 307.3 267.5 307.3 268.0 307.3 268.5 307.3 269.0 307.3 269.5 307.2 270.0 307.2 270.5 307.2 271.0 307.2 271.5 307.2 272.0 307.1 272.2 307.1 272.5 307.1 272.8 307.0 273.0 306.9 273.4 306.7 273.5 306.6 273.7 306.4 274.0 306.2 274.3 306.4 274.5 306.6 274.6 306.7 275.0 306.9 275.2 307.0 275.5 307.0 275.8 307.0 276.0 307.1 276.5 307.1 277.0 307.1 277.5 307.1 278.0 307.0 278.2 307.0 278.5 307.0 278.8 306.9 279.0 306.8 279.4 306.6 279.5 306.5 279.7 306.3 280.0 306.1 280.3 306.3 280.5 306.5 280.6 306.6 281.0 306.8 281.2 306.9 281.5 306.9 281.8 307.0 282.0 307.0 282.5 307.0 283.0 307.0 283.5 307.0 284.0 307.0 284.5 307.0 285.0 307.0 285.5 307.0 286.0 307.0 286.5 307.0 287.0 307.0 287.5 307.0 288.0 307.0 288.5 307.0 289.0 306.9 289.5 306.9 290.0 306.9 290.5 306.9 291.0 306.9 291.5 306.9 292.0 306.9 292.5 306.9 293.0 306.9 293.5 306.9 294.0 306.8 294.5 306.8 294.6 306.8 295.0 306.8 295.5 306.8 296.0 306.8 296.5 306.7 296.6 306.7 297.0 306.7 297.5 306.7 298.0 306.6 298.5 306.5 298.6 306.5 299.0 306.4 299.5 306.3 299.6 306.2 300.0 305.8 300.1 305.4 300.3 304.5 300.4 301.8 300.5 300.1 300.5 298.9 300.6 297.3 300.7 299.3 300.8 301.8 300.9 304.5 301.0 305.2 301.1 305.4 301.5 306.1 301.6 306.2 302.0 306.3 302.5 306.4 302.6 306.5 303.0 306.5 303.5 306.6 304.0 306.6 304.5 306.6 304.6 306.6 305.0 306.6 305.5 306.6 306.0 306.6 306.5 306.6 306.6 306.6 307.0 306.6 307.5 306.6 308.0 306.6 308.5 306.6 309.0 306.6 309.5 306.6 310.0 306.6 310.5 306.6 311.0 306.6 311.5 306.6 312.0 306.6 312.5 306.6 313.0 306.6 313.5 306.5 314.0 306.5 314.5 306.5 315.0 306.5 315.5 306.5 316.0 306.5 316.5 306.5 317.0 306.5 317.5 306.4 318.0 306.4 318.5 306.4 319.0 306.4 319.5 306.3 319.8 306.3 320.0 306.2 320.5 306.1 320.8 306.0 321.0 306.0 321.2 305.9 321.5 305.7 321.8 305.3 322.0 305.0 322.3 304.4 322.4 304.2 322.5 304.0 322.7 303.6 322.8 303.5 323.0 303.5 323.3 304.0 323.5 304.5 323.6 304.7 323.8 305.1 324.0 305.4 324.2 305.6 324.5 305.8 324.8 306.0 325.0 306.0 325.5 306.1 325.8 306.2 326.0 306.2 326.5 306.2 327.0 306.3 327.5 306.3 328.0 306.3 328.5 306.3 329.0 306.3 329.5 306.3 330.0 306.3 330.5 306.3 331.0 306.3 331.5 306.2 332.0 306.2 332.5 306.1 333.0 306.0 333.5 305.8 334.0 305.7 334.5 305.8 335.0 306.0 335.5 306.1 336.0 306.2 336.5 306.2 337.0 306.2 337.5 306.2 338.0 306.2 338.5 306.2 339.0 306.2 339.5 306.2 340.0 306.2 340.5 306.2 341.0 306.1 341.5 306.1 342.0 306.1 342.5 306.1 343.0 306.1 343.5 306.1 344.0 306.1 344.5 306.1 345.0 306.1 345.5 306.1 346.0 306.1 346.5 306.0 347.0 306.0 347.5 305.9 348.0 305.9 348.5 305.9 349.0 305.8 349.5 305.8 350.0 305.8 350.5 305.7 351.0 305.7 351.5 305.6 352.0 305.6 352.5 305.6 353.0 305.5 353.5 305.5 354.0 305.4 354.5 305.4 355.0 305.4 355.5 305.3 356.0 305.3 356.5 305.3 357.0 305.2 357.5 305.2 358.0 305.1 358.5 305.1 359.0 305.1 359.5 305.0 360.0 305.0 360.5 305.0 361.0 304.9 361.5 304.9 362.0 304.8 362.5 304.8 363.0 304.8 363.5 304.7 364.0 304.7 364.5 304.7 365.0 304.6 365.5 304.6 366.0 304.5 366.5 304.5 367.0 304.5 367.5 304.4 368.0 304.4 368.5 304.4 368.6 304.4 369.0 304.3 369.5 304.3 370.0 304.3 370.5 304.3 371.0 304.3 371.5 304.3 372.0 304.5 372.5 304.8 373.0 305.1 373.5 304.8 374.0 304.5 374.4 304.3 374.5 304.3 374.7 304.2 375.0 304.1 375.5 304.0 375.6 304.0 376.0 303.8 376.5 303.6 376.8 303.3 377.0 303.2 377.4 302.7 377.5 302.6 378.0 302.3 378.5 302.6 378.6 302.7 379.0 303.1 379.2 303.3 379.5 303.5 380.0 303.7 380.4 303.8 380.5 303.8 380.7 303.8 381.0 303.8 381.5 303.6 381.6 303.6 381.9 303.4 382.0 303.3 382.5 302.9 383.0 302.5 383.1 302.5 383.5 302.8 383.7 303.0 384.0 303.3 384.3 303.6 384.5 303.8 385.0 304.1 385.5 304.3 386.0 304.4 386.5 304.5 386.7 304.5 387.0 304.6 387.5 304.6 388.0 304.7 388.5 304.7 389.0 304.8 389.5 304.8 390.0 304.8 390.5 304.9 391.0 304.9 391.5 304.9 392.0 305.0 392.5 305.0 393.0 305.0 393.5 305.0 394.0 305.1 394.5 305.1 395.0 305.1 395.5 305.1 396.0 305.2 396.5 305.2 397.0 305.2 397.5 305.2 398.0 305.2 398.5 305.3 399.0 305.3 399.5 305.3 400.0 305.3 400.5 305.3 401.0 305.4 401.5 305.4 402.0 305.4 402.5 305.4 403.0 305.4 403.5 305.3 404.0 305.3 404.5 305.3 405.0 305.3 405.5 305.3 406.0 305.2 406.2 305.2 406.5 305.1 407.0 304.9 407.1 304.9 407.5 304.4 408.0 303.2 408.4 301.9 408.5 301.7 408.9 301.1 409.0 301.2 409.4 301.7 409.5 302.1 409.6 302.3 409.8 302.8 410.0 303.2 410.3 303.4 410.5 303.4 410.6 303.2 410.7 303.2 411.0 303.0 411.4 303.5 411.5 303.8 411.6 304.0 411.7 304.2 412.0 304.5 412.4 304.8 412.5 304.8 413.0 305.0 413.1 305.0 413.5 305.0 414.0 305.1 414.5 305.1 415.0 305.1 415.5 305.0 416.0 305.0 416.5 304.9 417.0 304.8 417.5 304.6 418.0 304.2 418.1 304.1 418.5 303.1 418.9 300.0 419.0 299.4 419.2 297.1 419.4 294.9 419.5 295.4 419.6 296.8 419.9 299.8 420.0 301.1 420.3 302.3 420.5 302.3 420.8 301.1 421.0 298.3 421.2 294.5 421.5 292.5 421.8 294.7 422.0 298.6 422.5 303.2 423.0 303.9 423.2 304.0 423.5 304.0 424.0 304.0 424.5 304.1 424.8 304.2 425.0 304.4 425.5 304.6 426.0 304.7 426.5 304.8 427.0 304.9 427.5 305.0 428.0 305.0 428.5 305.0 429.0 305.0 429.5 305.0 430.0 305.1 430.5 305.1 431.0 305.1 431.5 305.1 432.0 305.0 432.5 305.0 433.0 305.0 433.5 305.0 434.0 305.0 434.5 305.0 435.0 305.0 435.5 305.0 436.0 304.9 436.5 304.9 437.0 304.9 437.3 304.8 437.5 304.8 438.0 304.8 438.5 304.7 439.0 304.6 439.3 304.5 439.5 304.4 440.0 304.3 440.5 304.0 441.0 303.6 441.3 303.2 441.5 302.9 441.8 302.2 442.0 301.6 442.3 300.2 442.5 298.8 442.6 297.9 442.7 296.7 443.0 290.9 443.3 276.2 443.4 267.2 443.4 262.3 443.5 257.8 443.6 253.4 443.8 263.1 443.8 268.3 443.9 277.6 444.0 284.4 444.2 292.5 444.3 294.9 444.5 298.0 445.0 301.5 445.3 302.4 445.5 302.9 445.8 303.3 446.0 303.6 446.5 304.0 447.0 304.2 447.3 304.4 447.5 304.4 448.0 304.5 448.5 304.6 449.0 304.7 449.3 304.7 449.5 304.7 450.0 304.8 450.5 304.8 451.0 304.8 451.5 304.8 452.0 304.9 452.5 304.9 453.0 304.9 453.5 304.9 454.0 304.9 454.5 304.9 455.0 304.9 455.5 304.9 456.0 304.9 456.5 304.9 457.0 304.9 457.5 304.9 458.0 304.9 458.5 304.8 459.0 304.8 459.5 304.8 460.0 304.8 460.5 304.7 461.0 304.7 461.5 304.6 462.0 304.5 462.5 304.4 463.0 304.1 463.5 303.5 463.6 303.3 464.0 302.2 464.1 301.6 464.5 297.7 464.6 296.8 464.8 292.1 465.0 288.8 465.2 292.1 465.4 296.8 465.5 297.6 465.9 301.6 466.0 302.1 466.4 303.2 466.5 303.4 467.0 303.9 467.5 304.1 468.0 304.2 468.5 304.1 469.0 303.9 469.4 303.3 469.5 303.2 469.9 301.9 470.0 301.4 470.4 297.8 470.5 295.1 470.6 293.7 470.8 290.8 471.0 293.1 471.0 293.7 471.2 297.8 471.5 300.7 471.7 302.0 472.0 303.1 472.1 303.4 472.5 303.9 473.0 304.2 473.5 304.4 474.0 304.5 474.5 304.6 475.0 304.6 475.5 304.7 476.0 304.7 476.5 304.7 477.0 304.7 477.5 304.7 478.0 304.7 478.5 304.7" stroke="#424072"/>
<path d="M266.0 280.8 266.5 280.8 267.0 280.8 267.5 280.8 268.0 280.8 268.5 280.8 269.0 280.8 269.5 280.8 270.0 280.8 270.5 280.7 271.0 280.7 271.5 280.7 272.0 280.6 272.2 280.6 272.5 280.5 272.8 280.4 273.0 280.2 273.4 279.8 273.5 279.6 273.7 279.1 274.0 278.7 274.3 279.1 274.5 279.6 274.6 279.7 275.0 280.2 275.2 280.3 275.5 280.4 275.8 280.5 276.0 280.5 276.5 280.6 277.0 280.6 277.5 280.6 278.0 280.5 278.2 280.5 278.5 280.4 278.8 280.3 279.0 280.2 279.4 279.7 279.5 279.5 279.7 279.1 280.0 278.7 280.3 279.1 280.5 279.5 280.6 279.7 281.0 280.1 281.2 280.3 281.5 280.4 281.8 280.5 282.0 280.5 282.5 280.5 283.0 280.6 283.5 280.6 284.0 280.6 284.5 280.6 285.0 280.6 285.5 280.6 286.0 280.6 286.5 280.6 287.0 280.6 287.5 280.6 288.0 280.6 288.5 280.6 289.0 280.6 289.5 280.6 290.0 280.5 290.5 280.5 291.0 280.5 291.5 280.5 292.0 280.5 292.5 280.5 293.0 280.5 293.5 280.5 294.0 280.4 294.5 280.4 294.6 280.4 295.0 280.4 295.5 280.4 296.0 280.3 296.5 280.3 296.6 280.3 297.0 280.2 297.5 280.2 298.0 280.1 298.5 279.9 298.6 279.9 299.0 279.7 299.5 279.4 299.6 279.3 300.0 278.4 300.1 277.6 300.3 275.7 300.4 270.0 300.5 266.3 300.5 263.9 300.6 260.5 300.7 264.7 300.8 270.0 300.9 275.7 301.0 277.2 301.1 277.6 301.5 279.1 301.6 279.2 302.0 279.6 302.5 279.8 302.6 279.8 303.0 280.0 303.5 280.1 304.0 280.1 304.5 280.2 304.6 280.2 305.0 280.2 305.5 280.2 306.0 280.3 306.5 280.3 306.6 280.3 307.0 280.3 307.5 280.3 308.0 280.3 308.5 280.3 309.0 280.3 309.5 280.3 310.0 280.3 310.5 280.3 311.0 280.3 311.5 280.3 312.0 280.3 312.5 280.3 313.0 280.3 313.5 280.3 314.0 280.3 314.5 280.3 315.0 280.3 315.5 280.3 316.0 280.2 316.5 280.2 317.0 280.2 317.5 280.2 318.0 280.2 318.5 280.2 319.0 280.2 319.5 280.2 319.8 280.2 320.0 280.1 320.5 280.1 320.6 280.1 320.8 280.1 321.0 280.0 321.4 279.9 321.5 279.8 321.8 279.5 322.0 279.1 322.2 278.7 322.3 278.5 322.5 277.9 322.6 277.7 322.8 277.3 323.0 277.2 323.3 277.5 323.4 277.7 323.5 277.9 323.8 278.7 324.0 279.1 324.5 279.8 324.6 279.8 324.8 279.9 325.0 280.0 325.4 280.0 325.5 280.1 325.8 280.1 326.0 280.1 326.5 280.1 327.0 280.1 327.5 280.1 328.0 280.1 328.5 280.1 329.0 280.1 329.5 280.1 330.0 280.1 330.4 280.1 330.5 280.1 331.0 280.0 331.5 280.0 331.6 280.0 332.0 279.9 332.5 279.7 332.8 279.6 333.0 279.5 333.4 279.2 333.5 279.2 334.0 279.1 334.5 279.2 334.6 279.2 335.0 279.4 335.2 279.5 335.5 279.7 336.0 279.9 336.4 279.9 336.5 279.9 337.0 280.0 337.5 280.0 337.6 280.0 338.0 280.0 338.5 280.0 339.0 280.0 339.5 280.0 340.0 280.0 340.5 280.0 341.0 280.0 341.5 280.0 342.0 280.0 342.5 280.0 343.0 280.0 343.5 280.0 344.0 280.0 344.5 279.9 345.0 279.9 345.5 279.9 346.0 279.9 346.5 279.8 347.0 279.8 347.5 279.7 348.0 279.7 348.5 279.6 349.0 279.5 349.5 279.5 350.0 279.4 350.5 279.4 351.0 279.3 351.5 279.3 352.0 279.2 352.5 279.1 353.0 279.1 353.5 279.0 354.0 279.0 354.5 278.9 355.0 278.8 355.5 278.8 356.0 278.7 356.5 278.7 357.0 278.6 357.5 278.6 358.0 278.5 358.5 278.4 359.0 278.4 359.5 278.3 360.0 278.3 360.5 278.2 361.0 278.2 361.5 278.1 362.0 278.0 362.5 278.0 363.0 277.9 363.5 277.9 364.0 277.8 364.5 277.8 365.0 277.7 365.5 277.7 366.0 277.6 366.5 277.5 367.0 277.5 367.5 277.4 368.0 277.4 368.5 277.3 368.6 277.3 369.0 277.3 369.5 277.3 370.0 277.3 370.5 277.3 371.0 277.3 371.5 277.4 372.0 277.8 372.5 278.5 373.0 279.0 373.5 278.6 374.0 278.0 374.4 277.7 374.5 277.6 374.7 277.5 375.0 277.4 375.5 277.3 375.6 277.3 376.0 277.2 376.5 277.1 376.8 277.0 377.0 276.9 377.4 276.7 377.5 276.6 378.0 276.5 378.5 276.7 378.6 276.7 379.0 277.0 379.2 277.1 379.5 277.2 380.0 277.3 380.4 277.4 380.5 277.4 380.7 277.4 381.0 277.4 381.5 277.4 381.6 277.4 381.9 277.3 382.0 277.3 382.5 277.1 383.0 276.9 383.1 276.9 383.5 277.1 383.7 277.2 384.0 277.4 384.3 277.6 384.5 277.6 385.0 277.8 385.5 278.0 386.0 278.1 386.5 278.2 386.7 278.2 387.0 278.2 387.5 278.3 388.0 278.3 388.5 278.4 389.0 278.5 389.5 278.5 390.0 278.6 390.5 278.6 391.0 278.7 391.5 278.7 392.0 278.7 392.5 278.8 393.0 278.8 393.5 278.9 394.0 278.9 394.5 279.0 395.0 279.0 395.5 279.1 396.0 279.1 396.5 279.2 397.0 279.2 397.5 279.3 398.0 279.3 398.5 279.3 399.0 279.4 399.5 279.4 400.0 279.5 400.5 279.5 401.0 279.6 401.5 279.6 402.0 279.6 402.5 279.6 403.0 279.6 403.5 279.6 404.0 279.6 404.5 279.6 405.0 279.6 405.5 279.5 405.9 279.5 406.0 279.5 406.5 279.4 406.9 279.2 407.0 279.1 407.5 278.5 407.9 277.6 408.0 277.3 408.4 276.2 408.5 276.0 408.9 275.5 409.0 275.5 409.4 276.1 409.5 276.4 409.6 276.6 409.9 277.3 410.0 277.5 410.3 278.0 410.5 278.1 410.6 278.2 410.9 278.2 411.0 278.3 411.4 278.6 411.5 278.8 411.7 279.0 411.9 279.1 412.0 279.2 412.4 279.3 412.5 279.3 413.0 279.4 413.1 279.4 413.5 279.4 414.0 279.5 414.5 279.5 415.0 279.4 415.5 279.4 416.0 279.4 416.5 279.3 417.0 279.2 417.5 279.0 418.0 278.7 418.1 278.6 418.5 277.8 418.9 275.3 419.0 274.8 419.2 272.9 419.4 271.1 419.5 271.4 419.6 272.5 419.9 274.7 420.0 275.6 420.1 275.8 420.3 275.6 420.5 274.5 420.7 272.5 420.8 272.0 421.0 268.9 421.3 266.9 421.5 267.9 421.6 269.0 421.9 272.9 422.0 274.1 422.5 277.4 423.0 278.0 423.1 278.0 423.2 278.0 423.5 277.9 424.0 277.9 424.5 278.1 424.8 278.3 425.0 278.5 425.5 278.8 426.0 279.0 426.5 279.2 427.0 279.3 427.5 279.4 428.0 279.4 428.5 279.5 429.0 279.5 429.5 279.5 430.0 279.5 430.5 279.5 431.0 279.5 431.5 279.5 432.0 279.5 432.5 279.5 433.0 279.5 433.5 279.5 434.0 279.5 434.5 279.5 435.0 279.5 435.5 279.5 436.0 279.5 436.5 279.5 437.0 279.4 437.3 279.4 437.5 279.4 438.0 279.3 438.5 279.3 439.0 279.2 439.3 279.1 439.5 279.0 440.0 278.8 440.5 278.6 441.0 278.1 441.3 277.7 441.5 277.4 441.8 276.7 442.0 276.0 442.3 274.5 442.5 272.8 442.6 271.7 442.9 266.0 443.0 262.6 443.2 251.0 443.3 241.9 443.4 236.9 443.4 232.3 443.5 227.8 443.6 237.4 443.8 251.8 444.0 263.4 444.1 266.8 444.2 269.2 444.3 271.0 444.4 272.4 444.5 273.4 445.0 276.4 445.3 277.2 445.5 277.6 445.8 278.1 446.0 278.3 446.5 278.7 447.0 278.9 447.3 279.0 447.5 279.1 448.0 279.2 448.5 279.3 449.0 279.4 449.3 279.4 449.5 279.4 450.0 279.5 450.5 279.5 451.0 279.5 451.5 279.5 452.0 279.6 452.5 279.6 453.0 279.6 453.5 279.6 454.0 279.6 454.5 279.6 455.0 279.6 455.5 279.6 456.0 279.6 456.5 279.6 457.0 279.6 457.5 279.6 458.0 279.6 458.5 279.6 459.0 279.6 459.5 279.6 460.0 279.6 460.5 279.5 461.0 279.5 461.5 279.4 462.0 279.4 462.5 279.2 463.0 279.0 463.5 278.4 463.6 278.2 464.0 277.1 464.1 276.7 464.5 272.9 464.6 272.2 464.8 267.8 465.0 264.6 465.2 267.7 465.4 272.1 465.5 272.9 465.9 276.6 466.0 277.1 466.4 278.1 466.5 278.3 467.0 278.8 467.5 279.0 468.0 279.0 468.5 278.9 469.0 278.7 469.4 278.1 469.5 278.0 469.9 276.6 470.0 276.0 470.4 272.1 470.5 269.3 470.6 267.7 470.8 264.7 471.0 267.1 471.0 267.8 471.2 272.2 471.5 275.3 471.7 276.7 472.0 277.8 472.1 278.2 472.5 278.7 473.0 279.1 473.5 279.3 474.0 279.4 474.5 279.5 475.0 279.5 475.5 279.6 476.0 279.6 476.5 279.6 477.0 279.6 477.5 279.7 478.0 279.7 478.5 279.7" stroke="#66468f"/>
<path d="M266.0 254.7 266.5 254.7 267.0 254.7 267.5 254.7 268.0 254.7 268.5 254.7 269.0 254.6 269.5 254.6 270.0 254.6 270.5 254.6 271.0 254.5 271.5 254.5 272.0 254.4 272.2 254.3 272.5 254.2 272.8 254.0 273.0 253.8 273.4 253.1 273.5 252.8 273.7 252.2 274.0 251.5 274.3 252.1 274.5 252.8 274.6 253.0 275.0 253.7 275.2 253.9 275.5 254.1 275.8 254.2 276.0 254.2 276.5 254.3 277.0 254.3 277.5 254.2 278.0 254.2 278.2 254.1 278.5 254.0 278.8 253.8 279.0 253.6 279.4 252.9 279.5 252.6 279.7 252.0 280.0 251.4 280.3 252.0 280.5 252.6 280.6 252.9 281.0 253.6 281.2 253.8 281.5 254.0 281.8 254.1 282.0 254.1 282.5 254.2 283.0 254.2 283.5 254.2 284.0 254.2 284.5 254.2 285.0 254.2 285.5 254.2 286.0 254.2 286.5 254.2 287.0 254.2 287.5 254.2 288.0 254.2 288.5 254.2 289.0 254.2 289.5 254.1 290.0 254.1 290.5 254.1 291.0 254.1 291.5 254.1 292.0 254.1 292.5 254.0 293.0 254.0 293.5 254.0 294.0 254.0 294.5 253.9 294.6 253.9 295.0 253.9 295.5 253.9 296.0 253.8 296.5 253.8 296.6 253.8 297.0 253.7 297.5 253.6 298.0 253.5 298.5 253.3 298.6 253.3 299.0 253.0 299.5 252.5 299.6 252.4 300.0 250.9 300.1 249.5 300.3 245.9 300.4 235.4 300.5 228.7 300.5 224.2 300.6 217.9 300.7 225.7 300.8 235.4 300.9 245.9 301.0 248.6 301.1 249.4 301.5 252.1 301.6 252.3 302.0 252.8 302.5 253.1 302.6 253.2 303.0 253.3 303.5 253.4 304.0 253.5 304.5 253.5 304.6 253.5 305.0 253.6 305.5 253.6 306.0 253.6 306.5 253.6 306.6 253.6 307.0 253.6 307.5 253.6 308.0 253.6 308.5 253.6 309.0 253.6 309.5 253.6 310.0 253.6 310.5 253.6 311.0 253.6 311.5 253.6 312.0 253.5 312.5 253.5 313.0 253.5 313.5 253.5 314.0 253.5 314.5 253.5 315.0 253.5 315.5 253.4 316.0 253.4 316.5 253.4 317.0 253.4 317.5 253.3 318.0 253.3 318.5 253.3 319.0 253.2 319.5 253.1 319.8 253.1 320.0 253.0 320.5 252.9 320.8 252.6 321.0 252.4 321.5 251.1 321.8 249.9 322.0 248.8 322.3 247.0 322.5 245.9 322.8 244.6 323.0 244.3 323.3 244.9 323.5 245.8 323.8 247.6 324.0 248.8 324.5 251.1 324.8 251.9 325.0 252.2 325.5 252.7 325.8 252.8 326.0 252.9 326.5 252.9 327.0 253.0 327.5 253.0 328.0 253.0 328.5 253.0 329.0 253.0 329.5 253.0 329.8 253.0 330.0 253.0 330.5 252.9 331.0 252.8 331.2 252.7 331.5 252.6 332.0 252.2 332.5 251.7 332.6 251.5 333.0 251.0 333.3 250.5 333.5 250.3 334.0 250.0 334.5 250.3 334.7 250.5 335.0 250.9 335.4 251.5 335.5 251.6 336.0 252.2 336.5 252.5 336.8 252.6 337.0 252.7 337.5 252.8 338.0 252.8 338.2 252.8 338.5 252.8 339.0 252.8 339.5 252.8 340.0 252.8 340.5 252.8 341.0 252.8 341.5 252.8 342.0 252.8 342.5 252.8 343.0 252.8 343.5 252.8 344.0 252.8 344.5 252.8 345.0 252.7 345.5 252.7 346.0 252.7 346.5 252.6 347.0 252.5 347.5 252.4 348.0 252.3 348.5 252.2 349.0 252.1 349.5 252.0 350.0 251.9 350.5 251.8 351.0 251.7 351.5 251.6 352.0 251.5 352.5 251.4 353.0 251.3 353.5 251.2 354.0 251.1 354.5 251.0 355.0 251.0 355.5 250.9 356.0 250.8 356.5 250.7 357.0 250.6 357.5 250.5 358.0 250.4 358.5 250.3 359.0 250.2 359.5 250.1 360.0 250.0 360.5 249.9 361.0 249.8 361.5 249.7 362.0 249.6 362.5 249.6 363.0 249.5 363.5 249.4 364.0 249.3 364.5 249.2 365.0 249.1 365.5 249.0 366.0 248.9 366.5 248.8 367.0 248.8 367.5 248.7 368.0 248.6 368.5 248.5 368.6 248.5 369.0 248.5 369.5 248.4 370.0 248.4 370.5 248.4 371.0 248.5 371.5 248.7 372.0 249.4 372.5 250.6 373.0 251.5 373.5 250.7 374.0 249.6 374.4 249.1 374.5 249.0 374.7 248.9 375.0 248.7 375.5 248.5 375.6 248.5 376.0 248.4 376.5 248.3 376.8 248.2 377.0 248.1 377.4 247.9 377.5 247.9 378.0 247.7 378.5 247.9 378.6 248.0 379.0 248.2 379.2 248.3 379.5 248.5 380.0 248.6 380.4 248.7 380.5 248.7 380.7 248.7 381.0 248.7 381.5 248.7 381.6 248.7 381.9 248.7 382.0 248.6 382.5 248.5 383.0 248.3 383.1 248.3 383.5 248.5 383.7 248.6 384.0 248.8 384.3 249.0 384.5 249.1 385.0 249.3 385.5 249.5 386.0 249.6 386.5 249.7 386.7 249.7 387.0 249.8 387.5 249.9 388.0 250.0 388.5 250.0 389.0 250.1 389.5 250.2 390.0 250.3 390.5 250.3 391.0 250.4 391.5 250.5 392.0 250.6 392.5 250.6 393.0 250.7 393.5 250.8 394.0 250.8 394.5 250.9 395.0 251.0 395.5 251.0 396.0 251.1 396.5 251.2 397.0 251.2 397.5 251.3 398.0 251.4 398.5 251.4 399.0 251.5 399.5 251.6 400.0 251.6 400.5 251.7 401.0 251.8 401.5 251.8 402.0 251.8 402.5 251.8 403.0 251.8 403.5 251.8 404.0 251.8 404.5 251.7 405.0 251.7 405.3 251.7 405.5 251.7 406.0 251.6 406.5 251.3 407.0 250.8 407.5 249.8 407.7 249.3 408.0 248.5 408.3 247.7 408.5 247.2 408.9 246.8 409.0 246.8 409.5 247.6 409.6 247.9 410.0 249.0 410.1 249.3 410.3 249.8 410.5 250.2 410.6 250.5 411.0 251.0 411.3 251.2 411.4 251.3 411.5 251.3 411.7 251.4 412.0 251.5 412.4 251.6 412.5 251.6 413.0 251.6 413.1 251.6 413.5 251.6 414.0 251.6 414.5 251.6 415.0 251.5 415.5 251.5 416.0 251.4 416.5 251.4 417.0 251.2 417.5 251.0 418.0 250.7 418.1 250.6 418.3 250.3 418.5 249.8 418.9 247.6 419.0 247.1 419.2 245.4 419.2 245.0 419.4 243.4 419.5 243.2 419.6 243.5 419.9 243.7 420.0 243.3 420.1 242.8 420.3 241.2 420.5 239.5 420.6 239.1 420.8 237.6 421.0 236.9 421.4 239.4 421.5 239.9 421.9 243.9 422.0 244.8 422.5 248.0 422.8 248.9 423.0 249.2 423.2 249.3 423.5 249.3 423.7 249.3 424.0 249.3 424.5 249.6 424.8 249.8 425.0 250.1 425.5 250.5 426.0 250.8 426.5 251.0 427.0 251.2 427.5 251.3 428.0 251.4 428.5 251.4 429.0 251.5 429.5 251.5 430.0 251.5 430.5 251.5 431.0 251.5 431.5 251.6 432.0 251.6 432.5 251.6 433.0 251.6 433.5 251.6 434.0 251.5 434.5 251.5 435.0 251.5 435.5 251.5 436.0 251.5 436.5 251.5 437.0 251.4 437.3 251.4 437.5 251.4 438.0 251.3 438.5 251.3 439.0 251.2 439.3 251.1 439.5 251.1 440.0 250.9 440.5 250.6 441.0 250.2 441.3 249.9 441.5 249.5 441.8 248.9 442.0 248.2 442.3 246.7 442.5 245.0 442.6 244.3 442.6 243.8 442.8 238.8 443.0 232.4 443.1 224.1 443.3 210.0 443.3 205.9 443.4 200.7 443.5 205.9 443.5 210.0 443.7 224.1 443.8 232.4 444.0 238.9 444.0 240.0 444.2 243.8 444.2 244.3 444.3 245.0 444.5 246.7 445.0 248.9 445.3 249.6 445.5 249.9 445.8 250.2 446.0 250.4 446.5 250.8 447.0 251.0 447.3 251.1 447.5 251.1 448.0 251.2 448.5 251.3 449.0 251.3 449.3 251.4 449.5 251.4 450.0 251.4 450.5 251.4 451.0 251.5 451.5 251.5 452.0 251.5 452.5 251.5 453.0 251.5 453.5 251.5 454.0 251.5 454.5 251.5 455.0 251.5 455.5 251.5 456.0 251.5 456.5 251.5 457.0 251.5 457.5 251.5 458.0 251.5 458.5 251.5 459.0 251.5 459.5 251.4 460.0 251.4 460.5 251.4 461.0 251.3 461.5 251.3 462.0 251.2 462.5 251.0 463.0 250.8 463.5 250.3 463.6 250.0 464.0 249.0 464.1 248.5 464.5 244.8 464.6 244.0 464.8 239.6 465.0 236.5 465.2 239.6 465.4 243.9 465.5 244.7 465.9 248.4 466.0 248.9 466.4 249.9 466.5 250.1 467.0 250.6 467.5 250.8 468.0 250.8 468.5 250.8 469.0 250.5 469.4 250.0 469.5 249.9 469.9 248.6 470.0 248.0 470.4 244.4 470.5 241.7 470.6 240.3 470.8 237.4 471.0 239.7 471.0 240.3 471.2 244.4 471.5 247.3 471.7 248.6 472.0 249.7 472.1 250.0 472.5 250.5 473.0 250.9 473.5 251.1 474.0 251.2 474.5 251.2 475.0 251.3 475.5 251.3 476.0 251.3 476.5 251.4 477.0 251.4 477.5 251.4 478.0 251.4 478.5 251.4" stroke="#92468c"/>
<path d="M266.0 229.2 266.5 229.2 267.0 229.2 267.5 229.2 268.0 229.2 268.5 229.1 269.0 229.1 269.5 229.1 270.0 229.1 270.5 229.0 271.0 228.9 271.5 228.9 272.0 228.7 272.2 228.6 272.5 228.4 272.8 228.1 273.0 227.8 273.4 226.6 273.5 226.1 273.7 225.1 274.0 224.0 274.3 225.0 274.5 226.1 274.6 226.5 275.0 227.7 275.2 228.0 275.5 228.3 275.8 228.5 276.0 228.5 276.5 228.6 277.0 228.7 277.5 228.6 278.0 228.5 278.2 228.4 278.5 228.2 278.8 227.9 279.0 227.6 279.4 226.4 279.5 226.0 279.7 224.9 280.0 223.9 280.3 224.9 280.5 226.0 280.6 226.4 281.0 227.6 281.2 227.9 281.5 228.2 281.8 228.4 282.0 228.5 282.5 228.6 283.0 228.7 283.5 228.7 284.0 228.7 284.5 228.8 285.0 228.8 285.5 228.8 286.0 228.8 286.5 228.8 287.0 228.8 287.5 228.7 288.0 228.7 288.5 228.7 289.0 228.7 289.5 228.7 290.0 228.7 290.5 228.7 291.0 228.7 291.5 228.6 292.0 228.6 292.5 228.6 293.0 228.6 293.5 228.5 294.0 228.5 294.5 228.5 294.6 228.5 295.0 228.4 295.5 228.4 296.0 228.3 296.5 228.2 296.6 228.2 297.0 228.1 297.5 228.0 298.0 227.8 298.5 227.5 298.6 227.4 299.0 227.0 299.5 226.1 299.6 225.8 300.0 223.0 300.1 220.1 300.3 213.1 300.4 192.0 300.5 178.6 300.5 169.5 300.6 157.0 300.7 172.5 300.8 192.0 300.9 213.1 301.0 218.4 301.1 220.1 301.5 225.4 301.6 225.8 302.0 226.7 302.5 227.3 302.6 227.3 303.0 227.6 303.5 227.8 304.0 227.9 304.5 228.0 304.6 228.0 305.0 228.1 305.5 228.1 306.0 228.2 306.5 228.2 306.6 228.2 307.0 228.2 307.5 228.2 308.0 228.2 308.5 228.2 309.0 228.2 309.5 228.2 310.0 228.2 310.5 228.2 311.0 228.2 311.5 228.2 312.0 228.2 312.5 228.2 313.0 228.2 313.5 228.1 314.0 228.1 314.5 228.1 315.0 228.1 315.5 228.1 316.0 228.0 316.5 228.0 317.0 228.0 317.5 228.0 318.0 227.9 318.5 227.9 319.0 227.8 319.5 227.7 319.7 227.6 319.8 227.6 320.0 227.5 320.5 227.2 320.8 226.7 321.0 226.3 321.5 224.4 321.8 222.7 321.9 222.0 322.0 221.3 322.3 219.1 322.4 218.1 322.5 217.8 322.8 216.3 323.0 216.0 323.3 216.7 323.5 217.7 323.6 218.1 323.8 219.8 324.0 221.3 324.1 222.0 324.5 224.3 324.8 225.6 325.0 226.2 325.2 226.6 325.5 227.0 325.8 227.3 326.0 227.4 326.3 227.5 326.5 227.5 327.0 227.6 327.5 227.6 328.0 227.6 328.5 227.7 329.0 227.7 329.5 227.6 330.0 227.6 330.5 227.5 331.0 227.4 331.5 227.0 332.0 226.5 332.5 225.8 333.0 224.9 333.2 224.4 333.5 224.1 334.0 223.7 334.5 224.1 334.8 224.4 335.0 224.8 335.5 225.7 336.0 226.5 336.5 227.0 337.0 227.3 337.5 227.4 338.0 227.5 338.5 227.5 339.0 227.6 339.5 227.6 340.0 227.6 340.5 227.6 341.0 227.6 341.5 227.6 342.0 227.6 342.5 227.6 343.0 227.6 343.5 227.6 344.0 227.5 344.5 227.5 345.0 227.5 345.5 227.5 346.0 227.4 346.5 227.4 347.0 227.3 347.5 227.2 348.0 227.1 348.5 227.0 349.0 226.9 349.5 226.8 350.0 226.7 350.5 226.6 351.0 226.5 351.5 226.4 352.0 226.3 352.5 226.2 353.0 226.2 353.5 226.1 354.0 226.0 354.5 225.9 355.0 225.8 355.5 225.7 356.0 225.6 356.5 225.5 357.0 225.4 357.5 225.3 358.0 225.2 358.5 225.1 359.0 225.0 359.5 225.0 360.0 224.9 360.5 224.8 361.0 224.7 361.5 224.6 362.0 224.5 362.5 224.4 363.0 224.3 363.5 224.2 364.0 224.1 364.5 224.1 365.0 224.0 365.5 223.9 366.0 223.8 366.5 223.7 367.0 223.6 367.5 223.6 368.0 223.5 368.5 223.4 368.6 223.4 369.0 223.4 369.5 223.3 370.0 223.3 370.5 223.3 371.0 223.4 371.5 223.6 372.0 224.3 372.5 225.5 373.0 226.4 373.5 225.6 374.0 224.5 374.4 224.0 374.5 223.9 374.7 223.8 375.0 223.6 375.5 223.5 375.6 223.4 376.0 223.3 376.5 223.2 376.8 223.1 377.0 223.0 377.4 222.8 377.5 222.8 378.0 222.7 378.5 222.8 378.6 222.9 379.0 223.1 379.2 223.3 379.5 223.4 380.0 223.5 380.4 223.6 380.5 223.6 380.7 223.7 381.0 223.7 381.5 223.7 381.6 223.6 381.9 223.6 382.0 223.6 382.5 223.4 383.0 223.3 383.1 223.3 383.5 223.4 383.7 223.6 384.0 223.8 384.3 224.0 384.5 224.1 385.0 224.3 385.5 224.4 386.0 224.6 386.5 224.7 386.7 224.7 387.0 224.7 387.5 224.8 388.0 224.9 388.5 225.0 389.0 225.1 389.5 225.2 390.0 225.2 390.5 225.3 391.0 225.4 391.5 225.4 392.0 225.5 392.5 225.6 393.0 225.7 393.5 225.7 394.0 225.8 394.5 225.9 395.0 225.9 395.5 226.0 396.0 226.1 396.5 226.1 397.0 226.2 397.5 226.3 398.0 226.3 398.5 226.4 399.0 226.5 399.5 226.5 400.0 226.6 400.5 226.7 401.0 226.7 401.5 226.8 402.0 226.8 402.5 226.8 403.0 226.8 403.5 226.8 404.0 226.7 404.5 226.7 404.7 226.7 405.0 226.6 405.5 226.5 406.0 226.3 406.1 226.2 406.5 225.8 407.0 225.0 407.5 223.8 408.0 222.4 408.2 221.8 408.5 221.2 408.9 220.8 409.0 220.8 409.5 221.6 409.6 221.8 410.0 222.9 410.3 223.8 410.5 224.3 410.6 224.6 411.0 225.3 411.4 225.8 411.5 225.9 411.7 226.1 412.0 226.3 412.4 226.4 412.5 226.4 413.0 226.5 413.1 226.5 413.5 226.5 414.0 226.5 414.5 226.4 415.0 226.4 415.5 226.3 416.0 226.3 416.5 226.1 417.0 225.9 417.3 225.8 417.5 225.6 418.0 224.9 418.1 224.8 418.4 223.6 418.5 223.2 418.9 219.5 419.0 219.0 419.2 216.7 419.4 213.4 419.5 212.3 419.6 211.1 419.9 208.8 420.0 207.1 420.1 206.6 420.3 204.3 420.5 203.2 420.6 203.1 420.8 203.5 421.0 205.5 421.1 207.2 421.5 212.0 421.7 214.6 422.0 218.1 422.5 221.9 422.8 223.0 423.0 223.5 423.2 223.7 423.5 223.9 423.9 224.0 424.0 224.0 424.5 224.4 424.8 224.7 425.0 225.0 425.5 225.4 426.0 225.8 426.5 226.0 427.0 226.2 427.5 226.3 428.0 226.4 428.5 226.5 429.0 226.5 429.5 226.5 430.0 226.6 430.5 226.6 431.0 226.6 431.5 226.6 432.0 226.6 432.5 226.6 433.0 226.6 433.5 226.6 434.0 226.6 434.5 226.6 435.0 226.6 435.5 226.6 436.0 226.6 436.5 226.6 437.0 226.5 437.3 226.5 437.5 226.5 438.0 226.4 438.5 226.4 439.0 226.3 439.3 226.2 439.5 226.1 440.0 225.9 440.5 225.7 441.0 225.2 441.3 224.8 441.5 224.5 441.8 223.8 442.0 223.1 442.3 221.5 442.5 219.6 442.6 218.9 442.6 218.2 442.8 213.5 443.0 202.9 443.1 198.5 443.2 183.4 443.3 174.4 443.4 180.8 443.4 184.3 443.5 192.7 443.6 198.0 443.8 212.8 444.0 217.6 444.1 218.4 444.2 220.2 444.3 221.1 444.5 222.4 445.0 224.2 445.3 224.7 445.5 225.0 445.8 225.4 446.0 225.5 446.5 225.9 447.0 226.1 447.3 226.2 447.5 226.2 448.0 226.3 448.5 226.4 449.0 226.5 449.3 226.5 449.5 226.5 450.0 226.6 450.5 226.6 451.0 226.6 451.5 226.6 452.0 226.7 452.5 226.7 453.0 226.7 453.5 226.7 454.0 226.7 454.5 226.7 455.0 226.7 455.5 226.7 456.0 226.7 456.5 226.7 457.0 226.7 457.5 226.7 458.0 226.7 458.5 226.7 459.0 226.7 459.5 226.7 460.0 226.6 460.5 226.6 461.0 226.6 461.5 226.5 462.0 226.4 462.5 226.2 463.0 226.0 463.5 225.4 463.6 225.1 464.0 224.0 464.1 223.5 464.5 219.6 464.6 218.7 464.8 214.0 465.0 210.7 465.2 214.0 465.4 218.7 465.5 219.5 465.9 223.5 466.0 224.0 466.4 225.0 466.5 225.3 467.0 225.8 467.5 226.0 468.0 226.1 468.5 226.0 469.0 225.7 469.4 225.1 469.5 225.0 469.9 223.6 470.0 223.0 470.4 219.2 470.5 216.3 470.6 214.8 470.8 211.7 471.0 214.2 471.0 214.8 471.2 219.2 471.5 222.3 471.7 223.7 472.0 224.9 472.1 225.2 472.5 225.7 473.0 226.1 473.5 226.3 474.0 226.4 474.5 226.5 475.0 226.6 475.5 226.6 476.0 226.6 476.5 226.6 477.0 226.7 477.5 226.7 478.0 226.7 478.5 226.7" stroke="#b8507c"/>
<path d="M266.0 202.1 266.5 202.1 267.0 202.1 267.5 202.0 268.0 202.0 268.5 202.0 269.0 202.0 269.5 201.9 270.0 201.9 270.5 201.8 271.0 201.8 271.5 201.6 272.0 201.5 272.2 201.3 272.5 201.1 272.8 200.7 273.0 200.3 273.4 198.9 273.5 198.3 273.7 197.1 274.0 195.9 274.3 197.0 274.5 198.3 274.6 198.8 275.0 200.2 275.2 200.6 275.5 200.9 275.8 201.2 276.0 201.2 276.5 201.4 277.0 201.4 277.5 201.3 278.0 201.2 278.2 201.1 278.5 200.9 278.8 200.5 279.0 200.1 279.4 198.7 279.5 198.1 279.7 196.9 280.0 195.7 280.3 196.9 280.5 198.1 280.6 198.7 281.0 200.1 281.2 200.5 281.5 200.8 281.8 201.1 282.0 201.2 282.5 201.3 283.0 201.4 283.5 201.4 284.0 201.5 284.5 201.5 285.0 201.5 285.5 201.5 286.0 201.5 286.5 201.5 287.0 201.5 287.5 201.4 288.0 201.4 288.5 201.4 289.0 201.4 289.5 201.4 290.0 201.4 290.5 201.3 291.0 201.3 291.5 201.3 292.0 201.3 292.5 201.2 293.0 201.2 293.5 201.2 294.0 201.1 294.5 201.1 294.6 201.1 295.0 201.0 295.5 201.0 296.0 200.9 296.5 200.8 296.6 200.8 297.0 200.7 297.5 200.6 298.0 200.3 298.5 200.0 298.6 199.9 299.0 199.5 299.5 198.3 299.6 198.0 300.0 194.5 300.1 190.7 300.3 181.6 300.4 154.6 300.5 137.3 300.5 125.7 300.6 109.6 300.7 129.5 300.8 154.6 300.9 181.6 301.0 188.6 301.1 190.7 301.5 197.4 301.6 197.9 302.0 199.0 302.5 199.7 302.6 199.8 303.0 200.1 303.5 200.3 304.0 200.4 304.5 200.5 304.6 200.5 305.0 200.6 305.5 200.6 306.0 200.7 306.5 200.7 306.6 200.7 307.0 200.7 307.5 200.7 308.0 200.7 308.5 200.7 309.0 200.7 309.5 200.7 310.0 200.7 310.5 200.7 311.0 200.6 311.5 200.6 312.0 200.6 312.5 200.6 313.0 200.6 313.5 200.6 314.0 200.5 314.5 200.5 315.0 200.5 315.5 200.4 316.0 200.4 316.5 200.4 317.0 200.3 317.5 200.3 318.0 200.2 318.5 200.1 319.0 200.0 319.4 199.8 319.5 199.8 319.8 199.6 320.0 199.4 320.5 198.7 320.6 198.4 320.8 197.8 321.0 197.1 321.5 194.0 321.8 191.4 322.0 189.4 322.3 186.4 322.4 185.5 322.5 184.6 322.8 182.8 323.0 182.4 323.3 183.2 323.5 184.6 323.6 185.5 323.8 187.4 324.0 189.4 324.2 191.3 324.5 193.9 324.8 195.9 325.0 196.9 325.4 198.3 325.5 198.5 325.8 199.0 326.0 199.2 326.5 199.5 326.6 199.6 327.0 199.7 327.5 199.7 328.0 199.8 328.5 199.8 329.0 199.8 329.2 199.8 329.5 199.8 330.0 199.7 330.5 199.6 330.8 199.5 331.0 199.4 331.5 198.9 332.0 198.2 332.4 197.5 332.5 197.3 333.0 196.2 333.2 195.8 333.5 195.3 334.0 195.0 334.5 195.3 334.8 195.8 335.0 196.2 335.5 197.2 335.6 197.4 336.0 198.2 336.5 198.8 337.0 199.3 337.2 199.4 337.5 199.5 338.0 199.6 338.5 199.7 338.8 199.7 339.0 199.7 339.5 199.7 340.0 199.7 340.5 199.7 341.0 199.7 341.5 199.7 342.0 199.7 342.5 199.7 343.0 199.7 343.5 199.7 344.0 199.7 344.5 199.7 345.0 199.7 345.5 199.7 346.0 199.6 346.5 199.4 347.0 199.3 347.5 199.2 348.0 199.0 348.5 198.9 349.0 198.8 349.5 198.6 350.0 198.5 350.5 198.4 351.0 198.2 351.5 198.1 352.0 198.0 352.5 197.8 353.0 197.7 353.5 197.6 354.0 197.4 354.5 197.3 355.0 197.2 355.5 197.0 356.0 196.9 356.5 196.8 357.0 196.6 357.5 196.5 358.0 196.4 358.5 196.2 359.0 196.1 359.5 196.0 360.0 195.8 360.5 195.7 361.0 195.6 361.5 195.4 362.0 195.3 362.5 195.2 363.0 195.1 363.5 194.9 364.0 194.8 364.5 194.7 365.0 194.6 365.5 194.4 366.0 194.3 366.5 194.2 367.0 194.1 367.5 194.0 368.0 193.9 368.5 193.8 368.6 193.8 369.0 193.7 369.5 193.7 370.0 193.7 370.5 193.8 371.0 194.0 371.5 194.6 372.0 195.9 372.5 198.2 373.0 199.9 373.5 198.4 374.0 196.2 374.4 195.2 374.5 195.0 374.7 194.7 375.0 194.4 375.5 194.1 375.6 194.0 376.0 193.9 376.5 193.7 376.8 193.6 377.0 193.5 377.4 193.3 377.5 193.3 378.0 193.2 378.5 193.4 378.6 193.4 379.0 193.7 379.2 193.8 379.5 193.9 380.0 194.1 380.4 194.2 380.5 194.2 380.7 194.3 381.0 194.3 381.5 194.3 381.6 194.3 381.9 194.3 382.0 194.2 382.5 194.1 383.0 194.0 383.1 194.0 383.5 194.2 383.7 194.3 384.0 194.6 384.3 194.8 384.5 194.9 385.0 195.1 385.5 195.3 386.0 195.5 386.5 195.6 386.7 195.7 387.0 195.7 387.5 195.8 388.0 196.0 388.5 196.1 389.0 196.2 389.5 196.3 390.0 196.4 390.5 196.5 391.0 196.6 391.5 196.7 392.0 196.8 392.5 196.9 393.0 197.0 393.5 197.1 394.0 197.2 394.5 197.3 395.0 197.4 395.5 197.5 396.0 197.6 396.5 197.7 397.0 197.8 397.5 197.9 398.0 198.0 398.5 198.1 399.0 198.2 399.5 198.3 400.0 198.4 400.5 198.5 401.0 198.6 401.5 198.7 402.0 198.7 402.5 198.7 403.0 198.7 403.5 198.6 404.0 198.6 404.4 198.6 404.5 198.6 405.0 198.5 405.5 198.3 405.9 198.1 406.0 198.0 406.5 197.5 407.0 196.6 407.4 195.7 407.5 195.5 408.0 194.1 408.1 193.7 408.5 193.0 408.9 192.7 409.0 192.7 409.5 193.4 409.6 193.6 409.6 193.7 410.0 194.6 410.3 195.4 410.4 195.6 410.5 195.9 410.6 196.2 411.0 196.9 411.4 197.5 411.5 197.6 411.7 197.8 411.9 198.0 412.0 198.0 412.4 198.2 412.5 198.2 413.0 198.3 413.1 198.3 413.4 198.3 413.5 198.3 414.0 198.3 414.5 198.2 415.0 198.2 415.5 198.1 416.0 198.0 416.5 197.8 416.9 197.6 417.0 197.5 417.5 197.0 418.0 195.8 418.1 195.6 418.1 195.4 418.5 193.2 418.9 188.8 419.0 188.2 419.2 186.0 419.3 184.1 419.4 182.5 419.5 180.9 419.6 179.0 419.9 175.3 419.9 174.5 420.0 173.1 420.3 170.1 420.5 169.4 420.8 170.4 421.0 173.0 421.1 174.4 421.5 180.6 421.7 183.7 422.0 187.7 422.5 192.3 422.9 194.2 423.0 194.5 423.2 195.0 423.5 195.3 424.0 195.6 424.1 195.7 424.5 196.1 424.8 196.4 425.0 196.7 425.5 197.2 426.0 197.6 426.5 197.8 427.0 198.0 427.5 198.1 428.0 198.2 428.5 198.3 429.0 198.4 429.5 198.4 430.0 198.4 430.5 198.5 431.0 198.5 431.5 198.5 432.0 198.5 432.5 198.5 433.0 198.5 433.5 198.5 434.0 198.5 434.5 198.5 435.0 198.5 435.5 198.5 436.0 198.5 436.5 198.5 437.0 198.5 437.3 198.4 437.5 198.4 438.0 198.4 438.5 198.3 439.0 198.2 439.3 198.2 439.5 198.1 440.0 197.9 440.5 197.7 441.0 197.3 441.3 197.0 441.5 196.7 441.8 196.1 442.0 195.4 442.3 193.9 442.5 192.0 442.5 191.4 442.6 190.4 442.8 186.3 443.0 171.9 443.0 169.7 443.1 157.8 443.2 148.4 443.3 156.2 443.3 157.5 443.4 169.1 443.4 171.2 443.5 178.2 443.6 185.3 443.8 189.5 443.9 190.5 444.0 192.2 444.2 193.9 444.3 194.4 444.5 195.3 445.0 196.6 445.3 197.0 445.5 197.3 445.8 197.5 446.0 197.7 446.5 197.9 447.0 198.1 447.3 198.2 447.5 198.2 448.0 198.3 448.5 198.4 449.0 198.4 449.3 198.5 449.5 198.5 450.0 198.5 450.5 198.5 451.0 198.6 451.5 198.6 452.0 198.6 452.5 198.6 453.0 198.6 453.5 198.6 454.0 198.6 454.5 198.6 455.0 198.6 455.5 198.6 456.0 198.6 456.5 198.6 457.0 198.6 457.5 198.6 458.0 198.6 458.5 198.6 459.0 198.6 459.5 198.6 460.0 198.6 460.5 198.5 461.0 198.5 461.5 198.4 462.0 198.3 462.5 198.2 463.0 197.9 463.5 197.4 463.6 197.2 464.0 196.1 464.1 195.6 464.5 191.9 464.6 191.1 464.8 186.7 465.0 183.6 465.2 186.7 465.4 191.1 465.5 191.9 465.9 195.6 466.0 196.1 466.4 197.1 466.5 197.3 467.0 197.8 467.5 198.0 468.0 198.0 468.5 197.9 469.0 197.7 469.4 197.1 469.5 197.0 469.9 195.8 470.0 195.2 470.4 191.6 470.5 188.9 470.6 187.5 470.8 184.6 471.0 186.9 471.0 187.5 471.2 191.6 471.5 194.5 471.7 195.8 472.0 196.9 472.1 197.2 472.5 197.7 473.0 198.1 473.5 198.3 474.0 198.4 474.5 198.4 475.0 198.5 475.5 198.5 476.0 198.5 476.5 198.6 477.0 198.6 477.5 198.6 478.0 198.6 478.5 198.6" stroke="#d2626a"/>
<path d="M266.0 176.3 266.5 176.3 267.0 176.3 267.5 176.2 268.0 176.2 268.5 176.2 269.0 176.1 269.5 176.1 270.0 176.0 270.5 175.9 271.0 175.8 271.5 175.7 272.0 175.4 272.2 175.3 272.5 175.0 272.8 174.5 273.0 173.9 273.4 172.0 273.5 171.3 273.7 169.6 274.0 168.0 274.3 169.6 274.5 171.2 274.6 171.9 275.0 173.8 275.2 174.3 275.5 174.8 275.8 175.0 276.0 175.1 276.5 175.3 277.0 175.3 277.5 175.2 278.0 175.0 278.2 174.9 278.5 174.6 278.8 174.1 279.0 173.6 279.4 171.7 279.5 171.0 279.7 169.3 280.0 167.7 280.3 169.3 280.5 171.0 280.6 171.7 281.0 173.6 281.2 174.1 281.5 174.6 281.8 174.9 282.0 175.0 282.5 175.2 283.0 175.3 283.5 175.4 284.0 175.4 284.5 175.4 285.0 175.4 285.5 175.4 286.0 175.4 286.5 175.4 287.0 175.4 287.5 175.4 288.0 175.3 288.5 175.3 289.0 175.3 289.5 175.3 290.0 175.2 290.5 175.2 291.0 175.2 291.5 175.1 292.0 175.1 292.5 175.1 293.0 175.0 293.5 175.0 294.0 174.9 294.5 174.9 294.6 174.9 295.0 174.8 295.5 174.7 296.0 174.6 296.5 174.5 296.6 174.5 297.0 174.3 297.5 174.1 298.0 173.9 298.5 173.4 298.6 173.3 299.0 172.7 299.5 171.3 299.6 170.9 300.0 166.6 300.1 162.0 300.3 150.9 300.4 117.9 300.5 96.7 300.5 82.5 300.6 62.8 300.7 87.2 300.8 117.8 300.9 150.9 301.0 159.3 301.1 161.9 301.5 170.1 301.6 170.8 302.0 172.2 302.5 173.0 302.6 173.1 303.0 173.5 303.5 173.7 304.0 173.9 304.5 174.1 304.6 174.1 305.0 174.1 305.5 174.2 306.0 174.2 306.5 174.2 306.6 174.2 307.0 174.3 307.5 174.3 308.0 174.3 308.5 174.2 309.0 174.2 309.5 174.2 310.0 174.2 310.5 174.2 311.0 174.2 311.5 174.1 312.0 174.1 312.5 174.1 313.0 174.0 313.5 174.0 314.0 174.0 314.5 173.9 315.0 173.9 315.5 173.8 316.0 173.8 316.5 173.7 317.0 173.7 317.5 173.6 318.0 173.5 318.5 173.3 319.0 173.2 319.1 173.1 319.5 172.9 319.8 172.6 320.0 172.3 320.4 171.4 320.5 171.1 320.8 169.9 321.0 168.7 321.5 164.8 321.7 162.8 321.8 161.7 322.0 159.4 322.3 156.1 322.4 155.5 322.5 154.1 322.8 152.1 323.0 151.7 323.3 152.6 323.5 154.1 323.6 155.5 323.8 157.1 324.0 159.3 324.3 162.6 324.5 164.6 324.8 167.2 325.0 168.5 325.5 170.8 325.6 171.1 325.8 171.6 326.0 171.9 326.5 172.5 326.9 172.7 327.0 172.7 327.5 172.8 328.0 172.9 328.5 172.9 328.9 172.9 329.0 172.9 329.5 172.9 330.0 172.7 330.5 172.5 330.6 172.5 331.0 172.1 331.5 171.4 332.0 170.4 332.3 169.7 332.5 169.1 333.0 167.7 333.1 167.4 333.5 166.6 334.0 166.1 334.5 166.6 334.9 167.3 335.0 167.7 335.5 169.1 335.7 169.6 336.0 170.3 336.5 171.3 337.0 172.0 337.4 172.3 337.5 172.4 338.0 172.6 338.5 172.7 339.0 172.7 339.1 172.8 339.5 172.8 340.0 172.8 340.5 172.8 341.0 172.8 341.5 172.8 342.0 172.8 342.5 172.8 343.0 172.8 343.5 172.7 344.0 172.7 344.5 172.7 345.0 172.7 345.5 172.7 346.0 172.5 346.5 172.3 347.0 172.0 347.5 171.8 348.0 171.6 348.5 171.3 349.0 171.1 349.5 170.9 350.0 170.7 350.5 170.4 351.0 170.2 351.5 170.0 352.0 169.7 352.5 169.5 353.0 169.3 353.5 169.0 354.0 168.8 354.5 168.6 355.0 168.3 355.5 168.1 356.0 167.9 356.5 167.7 357.0 167.4 357.5 167.2 358.0 167.0 358.5 166.7 359.0 166.5 359.5 166.3 360.0 166.1 360.5 165.8 361.0 165.6 361.5 165.4 362.0 165.2 362.5 164.9 363.0 164.7 363.5 164.5 364.0 164.3 364.5 164.1 365.0 163.8 365.5 163.6 366.0 163.4 366.5 163.2 367.0 163.0 367.5 162.8 368.0 162.7 368.5 162.5 368.6 162.5 369.0 162.4 369.5 162.3 370.0 162.2 370.5 162.3 371.0 162.6 371.5 163.4 372.0 165.3 372.5 168.6 373.0 171.2 373.5 169.0 374.0 166.0 374.4 164.5 374.5 164.3 374.7 163.9 375.0 163.5 375.5 163.0 375.6 163.0 376.0 162.8 376.5 162.7 376.8 162.6 377.0 162.5 377.4 162.3 377.5 162.3 378.0 162.3 378.5 162.5 378.6 162.6 379.0 162.9 379.2 163.0 379.5 163.2 380.0 163.5 380.4 163.6 380.5 163.7 380.7 163.7 381.0 163.8 381.5 163.9 381.6 163.9 381.9 163.9 382.0 163.9 382.5 163.8 383.0 163.8 383.1 163.8 383.5 164.1 383.7 164.3 384.0 164.5 384.3 164.8 384.5 164.9 385.0 165.2 385.5 165.5 386.0 165.7 386.5 166.0 386.7 166.0 387.0 166.2 387.5 166.4 388.0 166.6 388.5 166.7 389.0 166.9 389.5 167.1 390.0 167.3 390.5 167.5 391.0 167.7 391.5 167.9 392.0 168.0 392.5 168.2 393.0 168.4 393.5 168.6 394.0 168.8 394.5 168.9 395.0 169.1 395.5 169.3 396.0 169.5 396.5 169.7 397.0 169.9 397.5 170.0 398.0 170.2 398.5 170.4 399.0 170.6 399.5 170.8 400.0 170.9 400.5 171.1 401.0 171.3 401.5 171.4 402.0 171.5 402.5 171.5 403.0 171.4 403.5 171.4 404.0 171.4 404.1 171.3 404.5 171.3 405.0 171.2 405.5 171.0 405.7 170.8 406.0 170.5 406.5 169.9 407.0 168.8 407.3 168.0 407.5 167.4 408.0 166.0 408.1 165.7 408.5 164.8 408.9 164.5 409.0 164.5 409.5 165.2 409.6 165.4 409.7 165.7 410.0 166.5 410.3 167.4 410.5 167.9 410.6 168.3 411.0 169.2 411.4 169.8 411.5 170.0 411.7 170.3 412.0 170.6 412.1 170.6 412.4 170.8 412.5 170.8 413.0 171.0 413.1 171.0 413.5 171.0 413.7 171.0 414.0 171.0 414.5 171.0 415.0 170.9 415.5 170.8 416.0 170.6 416.5 170.4 417.0 169.9 417.5 169.0 417.8 168.1 418.0 167.1 418.1 166.9 418.5 163.4 418.9 158.1 419.0 157.4 419.1 156.0 419.2 154.9 419.4 151.3 419.5 149.6 419.6 147.7 419.8 145.8 419.9 144.4 420.0 142.6 420.3 140.5 420.4 140.3 420.5 140.5 420.8 142.0 421.0 144.9 421.1 145.6 421.5 152.5 421.7 155.6 422.0 159.6 422.5 164.4 423.0 166.9 423.2 167.5 423.5 167.9 424.0 168.3 424.3 168.6 424.5 168.9 424.8 169.2 425.0 169.5 425.5 170.0 426.0 170.4 426.5 170.7 427.0 170.9 427.5 171.0 428.0 171.1 428.5 171.2 429.0 171.3 429.5 171.3 430.0 171.4 430.5 171.4 431.0 171.4 431.5 171.5 432.0 171.5 432.5 171.5 433.0 171.5 433.5 171.5 434.0 171.5 434.5 171.5 435.0 171.5 435.5 171.5 436.0 171.5 436.5 171.5 437.0 171.5 437.3 171.4 437.5 171.4 438.0 171.4 438.5 171.3 439.0 171.2 439.3 171.1 439.5 171.1 440.0 170.9 440.5 170.7 441.0 170.3 441.3 169.9 441.5 169.6 441.8 168.9 442.0 168.1 442.3 166.0 442.4 164.7 442.5 162.8 442.6 159.8 442.8 145.6 442.9 131.6 443.0 122.2 443.1 131.3 443.2 144.9 443.3 153.7 443.4 158.6 443.5 161.5 443.6 163.4 443.8 165.6 444.0 167.0 444.2 167.9 444.3 168.3 444.5 168.8 445.0 169.8 445.3 170.2 445.5 170.4 445.8 170.6 446.0 170.7 446.5 171.0 447.0 171.2 447.3 171.3 447.5 171.3 448.0 171.4 448.5 171.5 449.0 171.5 449.3 171.6 449.5 171.6 450.0 171.6 450.5 171.6 451.0 171.7 451.5 171.7 452.0 171.7 452.5 171.7 453.0 171.7 453.5 171.7 454.0 171.8 454.5 171.8 455.0 171.8 455.5 171.8 456.0 171.8 456.5 171.8 457.0 171.8 457.5 171.8 458.0 171.8 458.5 171.7 459.0 171.7 459.5 171.7 460.0 171.7 460.5 171.7 461.0 171.6 461.5 171.5 462.0 171.4 462.5 171.2 463.0 170.9 463.4 170.5 463.5 170.3 463.9 169.2 464.0 168.8 464.4 165.3 464.5 164.7 464.7 161.3 465.0 158.8 465.3 161.3 465.5 164.7 465.6 165.3 466.0 168.7 466.1 169.1 466.5 170.2 466.6 170.4 467.0 170.7 467.5 171.0 468.0 171.0 468.5 170.9 469.0 170.6 469.1 170.5 469.5 169.9 469.7 169.3 470.0 167.9 470.2 165.8 470.5 162.5 470.5 162.1 470.8 159.8 471.0 161.2 471.1 162.1 471.4 165.8 471.5 167.2 471.9 169.4 472.0 169.7 472.4 170.6 472.5 170.7 473.0 171.1 473.5 171.4 474.0 171.5 474.5 171.6 475.0 171.7 475.5 171.7 476.0 171.7 476.5 171.8 477.0 171.8 477.5 171.8 478.0 171.8 478.5 171.8" stroke="#e6844c"/>
<path d="M266.0 150.0 266.5 150.0 267.0 150.0 267.5 150.0 268.0 149.9 268.5 149.9 269.0 149.9 269.5 149.8 270.0 149.8 270.5 149.7 271.0 149.6 271.5 149.4 272.0 149.2 272.2 149.1 272.5 148.7 272.8 148.2 273.0 147.7 273.4 145.8 273.5 145.1 273.7 143.4 274.0 141.8 274.3 143.3 274.5 145.0 274.6 145.7 275.0 147.6 275.2 148.1 275.5 148.5 275.8 148.8 276.0 148.9 276.5 149.1 277.0 149.1 277.5 149.0 278.0 148.8 278.2 148.6 278.5 148.3 278.8 147.8 279.0 147.2 279.4 145.1 279.5 144.2 279.7 142.4 280.0 140.5 280.3 142.3 280.5 144.2 280.6 145.0 281.0 147.1 281.2 147.7 281.5 148.3 281.8 148.6 282.0 148.8 282.5 149.0 283.0 149.1 283.5 149.2 284.0 149.2 284.5 149.3 285.0 149.3 285.5 149.3 286.0 149.3 286.5 149.3 287.0 149.2 287.5 149.2 288.0 149.2 288.5 149.2 289.0 149.2 289.5 149.1 290.0 149.1 290.5 149.1 291.0 149.1 291.5 149.0 292.0 149.0 292.5 148.9 293.0 148.9 293.5 148.8 294.0 148.8 294.5 148.7 294.6 148.7 295.0 148.6 295.5 148.5 296.0 148.3 296.5 148.1 296.6 148.1 297.0 147.9 297.5 147.5 298.0 147.0 298.5 146.1 298.6 145.8 299.0 144.5 299.5 140.8 299.6 139.5 299.7 137.7 300.0 128.0 300.3 99.4 300.4 70.9 300.5 61.4 300.6 51.9 300.8 70.9 300.9 99.4 301.0 112.7 301.2 128.0 301.5 137.7 301.6 139.4 302.0 143.3 302.5 145.4 302.6 145.7 303.0 146.5 303.5 147.1 304.0 147.5 304.5 147.7 304.6 147.7 305.0 147.9 305.5 148.0 306.0 148.1 306.5 148.1 306.6 148.1 307.0 148.2 307.5 148.2 308.0 148.2 308.5 148.2 309.0 148.2 309.5 148.2 310.0 148.2 310.5 148.2 311.0 148.2 311.5 148.2 312.0 148.1 312.5 148.1 313.0 148.1 313.5 148.0 314.0 148.0 314.5 148.0 315.0 147.9 315.5 147.9 316.0 147.8 316.5 147.7 317.0 147.6 317.5 147.5 318.0 147.4 318.5 147.2 318.8 147.0 319.0 146.9 319.5 146.4 319.8 145.8 320.0 145.4 320.2 144.7 320.5 143.4 320.8 141.5 321.0 139.8 321.5 134.3 321.6 133.0 321.8 130.2 322.0 127.3 322.3 123.1 322.5 120.8 322.8 118.4 323.0 117.9 323.3 119.0 323.5 120.7 323.7 123.1 323.8 124.4 324.0 127.2 324.4 132.8 324.5 134.1 324.8 137.7 325.0 139.6 325.5 143.1 325.8 144.4 326.0 145.1 326.5 146.0 327.0 146.5 327.2 146.6 327.5 146.7 328.0 146.8 328.5 146.9 328.9 146.9 329.0 146.9 329.5 146.9 330.0 146.8 330.5 146.5 330.6 146.4 331.0 146.0 331.5 145.1 332.0 143.8 332.3 142.9 332.5 142.2 333.0 140.4 333.1 140.0 333.5 139.0 334.0 138.4 334.5 139.0 334.9 139.9 335.0 140.4 335.5 142.2 335.7 142.9 336.0 143.8 336.5 145.1 337.0 146.0 337.4 146.4 337.5 146.5 338.0 146.8 338.5 146.9 339.0 147.0 339.1 147.0 339.5 147.1 340.0 147.1 340.5 147.1 341.0 147.1 341.5 147.1 342.0 147.1 342.5 147.1 343.0 147.1 343.5 147.1 344.0 147.1 344.5 147.1 345.0 147.1 345.5 147.1 346.0 146.9 346.5 146.6 347.0 146.4 347.5 146.1 348.0 145.9 348.5 145.6 349.0 145.4 349.5 145.1 350.0 144.9 350.5 144.6 351.0 144.3 351.5 144.1 352.0 143.8 352.5 143.6 353.0 143.3 353.5 143.1 354.0 142.8 354.5 142.6 355.0 142.3 355.5 142.0 356.0 141.8 356.5 141.5 357.0 141.3 357.5 141.0 358.0 140.8 358.5 140.5 359.0 140.3 359.5 140.0 360.0 139.8 360.5 139.5 361.0 139.3 361.5 139.0 362.0 138.8 362.5 138.5 363.0 138.3 363.5 138.0 364.0 137.8 364.5 137.5 365.0 137.3 365.5 137.1 366.0 136.8 366.5 136.6 367.0 136.4 367.5 136.2 368.0 136.0 368.5 135.8 368.6 135.7 369.0 135.6 369.5 135.5 370.0 135.4 370.5 135.4 371.0 135.7 371.5 136.3 372.0 138.1 372.5 141.1 373.0 143.4 373.5 141.5 374.0 138.9 374.4 137.7 374.5 137.5 374.7 137.1 375.0 136.8 375.5 136.5 375.6 136.5 376.0 136.5 376.5 136.5 376.8 136.5 377.0 136.6 377.4 136.7 377.5 136.7 378.0 136.8 378.5 137.0 378.6 137.0 379.0 137.2 379.2 137.2 379.5 137.4 380.0 137.5 380.4 137.7 380.5 137.7 380.7 137.8 381.0 137.9 381.5 138.1 381.6 138.2 381.9 138.3 382.0 138.3 382.5 138.5 383.0 138.8 383.1 138.8 383.5 139.0 383.7 139.0 384.0 139.2 384.3 139.3 384.5 139.4 385.0 139.6 385.5 139.8 386.0 140.0 386.5 140.2 386.7 140.3 387.0 140.4 387.5 140.6 388.0 140.9 388.5 141.1 389.0 141.3 389.5 141.5 390.0 141.7 390.5 141.9 391.0 142.1 391.5 142.3 392.0 142.6 392.5 142.8 393.0 143.0 393.5 143.2 394.0 143.4 394.5 143.6 395.0 143.8 395.5 144.1 396.0 144.3 396.5 144.5 397.0 144.7 397.5 144.9 398.0 145.1 398.5 145.3 399.0 145.5 399.5 145.7 400.0 146.0 400.5 146.2 401.0 146.4 401.5 146.6 402.0 146.6 402.5 146.6 403.0 146.6 403.5 146.5 404.0 146.5 404.1 146.5 404.5 146.4 405.0 146.3 405.5 146.0 405.7 145.8 406.0 145.5 406.5 144.6 407.0 143.3 407.3 142.2 407.5 141.5 408.0 139.6 408.1 139.3 408.5 138.2 408.9 137.7 409.0 137.7 409.5 138.6 409.6 138.9 409.7 139.2 410.0 140.3 410.3 141.5 410.5 142.2 410.6 142.7 411.0 143.8 411.4 144.6 411.5 144.9 411.7 145.2 412.0 145.6 412.1 145.7 412.4 145.9 412.5 145.9 413.0 146.1 413.1 146.1 413.5 146.1 413.7 146.2 414.0 146.1 414.5 146.1 415.0 146.0 415.5 145.8 416.0 145.6 416.1 145.6 416.5 145.2 417.0 144.5 417.5 142.9 418.0 139.9 418.1 139.5 418.5 134.7 418.9 128.9 418.9 128.1 419.0 127.2 419.2 124.4 419.4 120.4 419.5 118.7 419.6 117.1 419.6 116.8 419.9 113.6 420.0 112.1 420.3 110.8 420.5 111.4 420.8 113.6 421.0 117.0 421.5 125.3 421.7 128.5 422.0 132.9 422.5 138.3 423.0 141.3 423.1 141.7 423.2 142.2 423.5 142.7 424.0 143.4 424.5 144.1 424.8 144.4 425.0 144.8 425.5 145.4 426.0 145.8 426.5 146.1 427.0 146.3 427.5 146.5 428.0 146.6 428.5 146.7 429.0 146.8 429.5 146.8 430.0 146.9 430.5 146.9 431.0 147.0 431.5 147.0 432.0 147.0 432.5 147.1 433.0 147.1 433.5 147.1 434.0 147.1 434.5 147.1 435.0 147.1 435.5 147.0 436.0 147.0 436.5 147.0 437.0 146.9 437.3 146.9 437.5 146.8 438.0 146.7 438.5 146.6 439.0 146.4 439.3 146.2 439.5 146.1 440.0 145.6 440.5 144.8 441.0 143.3 441.3 141.7 441.5 140.1 441.8 135.9 441.9 133.7 442.0 130.7 442.2 120.9 442.3 112.7 442.5 82.9 442.6 58.6 442.6 45.0 442.8 19.7 442.9 44.9 443.0 58.4 443.1 82.7 443.3 112.3 443.4 120.5 443.5 126.1 443.7 133.1 443.8 135.4 444.0 138.5 444.2 140.5 444.3 141.2 444.5 142.4 445.0 144.2 445.3 144.9 445.5 145.3 445.8 145.7 446.0 145.9 446.5 146.3 447.0 146.6 447.3 146.8 447.5 146.9 448.0 147.0 448.5 147.2 449.0 147.3 449.3 147.3 449.5 147.4 450.0 147.4 450.5 147.5 451.0 147.5 451.5 147.6 452.0 147.6 452.5 147.6 453.0 147.7 453.5 147.7 454.0 147.7 454.5 147.7 455.0 147.7 455.5 147.8 456.0 147.8 456.5 147.8 457.0 147.8 457.5 147.8 458.0 147.8 458.5 147.8 459.0 147.8 459.5 147.8 460.0 147.7 460.5 147.7 461.0 147.7 461.5 147.6 462.0 147.4 462.5 147.2 463.0 146.8 463.2 146.6 463.5 146.0 463.8 145.2 464.0 144.3 464.4 141.0 464.5 139.7 464.7 136.8 465.0 134.0 465.3 136.8 465.5 139.7 465.6 140.9 466.0 144.2 466.2 145.1 466.5 145.9 466.8 146.4 467.0 146.7 467.5 147.0 468.0 147.0 468.5 146.9 469.0 146.6 469.5 145.7 469.6 145.4 470.0 143.3 470.2 141.5 470.5 137.6 470.8 135.1 471.0 136.4 471.1 137.7 471.4 141.6 471.5 142.6 472.0 145.5 472.5 146.7 472.6 146.8 473.0 147.3 473.5 147.6 474.0 147.8 474.5 147.9 475.0 148.0 475.5 148.0 476.0 148.1 476.5 148.1 477.0 148.1 477.5 148.2 478.0 148.2 478.5 148.2" stroke="#efb044"/>
</g>
<rect x="266.2" y="18.0" width="212.2" height="318.3" fill="none" stroke="#2a2a2a" stroke-width="1"/>
<line x1="284.40" y1="336.30" x2="284.40" y2="333.50" stroke="#2a2a2a"/>
<line x1="284.40" y1="18.00" x2="284.40" y2="20.80" stroke="#2a2a2a"/>
<line x1="328.10" y1="336.30" x2="328.10" y2="333.50" stroke="#2a2a2a"/>
<line x1="328.10" y1="18.00" x2="328.10" y2="20.80" stroke="#2a2a2a"/>
<line x1="371.80" y1="336.30" x2="371.80" y2="333.50" stroke="#2a2a2a"/>
<line x1="371.80" y1="18.00" x2="371.80" y2="20.80" stroke="#2a2a2a"/>
<line x1="415.50" y1="336.30" x2="415.50" y2="333.50" stroke="#2a2a2a"/>
<line x1="415.50" y1="18.00" x2="415.50" y2="20.80" stroke="#2a2a2a"/>
<line x1="459.20" y1="336.30" x2="459.20" y2="333.50" stroke="#2a2a2a"/>
<line x1="459.20" y1="18.00" x2="459.20" y2="20.80" stroke="#2a2a2a"/>
<line x1="266.20" y1="336.20" x2="269.00" y2="336.20" stroke="#2a2a2a"/>
<line x1="478.40" y1="336.20" x2="475.60" y2="336.20" stroke="#2a2a2a"/>
<line x1="266.20" y1="270.40" x2="269.00" y2="270.40" stroke="#2a2a2a"/>
<line x1="478.40" y1="270.40" x2="475.60" y2="270.40" stroke="#2a2a2a"/>
<line x1="266.20" y1="204.60" x2="269.00" y2="204.60" stroke="#2a2a2a"/>
<line x1="478.40" y1="204.60" x2="475.60" y2="204.60" stroke="#2a2a2a"/>
<line x1="266.20" y1="138.80" x2="269.00" y2="138.80" stroke="#2a2a2a"/>
<line x1="478.40" y1="138.80" x2="475.60" y2="138.80" stroke="#2a2a2a"/>
<line x1="266.20" y1="73.00" x2="269.00" y2="73.00" stroke="#2a2a2a"/>
<line x1="478.40" y1="73.00" x2="475.60" y2="73.00" stroke="#2a2a2a"/>
<text x="284.40" y="351.20" font-size="11" text-anchor="middle" fill="#222" stroke="#222" stroke-width="0.2" font-family="Liberation Sans, sans-serif" >-500</text>
<text x="328.10" y="351.20" font-size="11" text-anchor="middle" fill="#222" stroke="#222" stroke-width="0.2" font-family="Liberation Sans, sans-serif" >-250</text>
<text x="371.80" y="351.20" font-size="11" text-anchor="middle" fill="#222" stroke="#222" stroke-width="0.2" font-family="Liberation Sans, sans-serif" >0</text>
<text x="415.50" y="351.20" font-size="11" text-anchor="middle" fill="#222" stroke="#222" stroke-width="0.2" font-family="Liberation Sans, sans-serif" >250</text>
<text x="459.20" y="351.20" font-size="11" text-anchor="middle" fill="#222" stroke="#222" stroke-width="0.2" font-family="Liberation Sans, sans-serif" >500</text>
<text x="262.50" y="340.10" font-size="11" text-anchor="end" fill="#222" stroke="#222" stroke-width="0.2" font-family="Liberation Sans, sans-serif" >0</text>
<text x="262.50" y="274.30" font-size="11" text-anchor="end" fill="#222" stroke="#222" stroke-width="0.2" font-family="Liberation Sans, sans-serif" >0.5</text>
<text x="262.50" y="208.50" font-size="11" text-anchor="end" fill="#222" stroke="#222" stroke-width="0.2" font-family="Liberation Sans, sans-serif" >1</text>
<text x="262.50" y="142.70" font-size="11" text-anchor="end" fill="#222" stroke="#222" stroke-width="0.2" font-family="Liberation Sans, sans-serif" >1.5</text>
<text x="262.50" y="76.90" font-size="11" text-anchor="end" fill="#222" stroke="#222" stroke-width="0.2" font-family="Liberation Sans, sans-serif" >2</text>
<text x="268.50" y="328.80" font-size="11" text-anchor="start" fill="#222" stroke="#222" stroke-width="0.2" font-family="Liberation Sans, sans-serif" >80 K</text>
<text x="268.50" y="305.20" font-size="11" text-anchor="start" fill="#222" stroke="#222" stroke-width="0.2" font-family="Liberation Sans, sans-serif" >160 K</text>
<text x="268.50" y="278.00" font-size="11" text-anchor="start" fill="#222" stroke="#222" stroke-width="0.2" font-family="Liberation Sans, sans-serif" >240 K</text>
<text x="268.50" y="249.80" font-size="11" text-anchor="start" fill="#222" stroke="#222" stroke-width="0.2" font-family="Liberation Sans, sans-serif" >320 K</text>
<text x="268.50" y="220.90" font-size="11" text-anchor="start" fill="#222" stroke="#222" stroke-width="0.2" font-family="Liberation Sans, sans-serif" >400 K</text>
<text x="268.50" y="192.70" font-size="11" text-anchor="start" fill="#222" stroke="#222" stroke-width="0.2" font-family="Liberation Sans, sans-serif" >480 K</text>
<text x="268.50" y="164.70" font-size="11" text-anchor="start" fill="#222" stroke="#222" stroke-width="0.2" font-family="Liberation Sans, sans-serif" >560 K</text>
<text x="268.50" y="136.10" font-size="11" text-anchor="start" fill="#222" stroke="#222" stroke-width="0.2" font-family="Liberation Sans, sans-serif" >640 K</text>
<text x="138.40" y="369.90" font-size="12.4" text-anchor="middle" fill="#222" stroke="#222" stroke-width="0.2" font-family="Liberation Sans, sans-serif" >Frequency (cm<tspan font-size="8.5" dy="-5">-1</tspan><tspan dy="5">)</tspan></text>
<text x="372.20" y="369.90" font-size="12.4" text-anchor="middle" fill="#222" stroke="#222" stroke-width="0.2" font-family="Liberation Sans, sans-serif" >Frequency (cm<tspan font-size="8.5" dy="-5">-1</tspan><tspan dy="5">)</tspan></text>
<text transform="translate(10.2,176.9) rotate(-90)" font-size="12" text-anchor="middle" fill="#222" stroke="#222" stroke-width="0.2" font-family="Liberation Sans, sans-serif">Intensity (arb.units)</text>
<text x="1.80" y="11.40" font-size="12" text-anchor="start" fill="#222" stroke="#222" stroke-width="0.2" font-family="Liberation Sans, sans-serif" >(a)</text>
<text x="481.80" y="11.40" font-size="12" text-anchor="start" fill="#222" stroke="#222" stroke-width="0.2" font-family="Liberation Sans, sans-serif" >(b)</text>
<text x="137.50" y="10" font-size="12" text-anchor="middle" fill="#222" font-family="Liberation Sans, sans-serif">Na<tspan font-size="8.5" dy="2.6">3</tspan><tspan dy="-2.6">PSe</tspan><tspan font-size="8.5" dy="2.6">4</tspan></text>
<text x="372.90" y="10" font-size="12" text-anchor="middle" fill="#222" font-family="Liberation Sans, sans-serif">Na<tspan font-size="8.5" dy="2.6">3</tspan><tspan dy="-2.6">PS</tspan><tspan font-size="8.5" dy="2.6">4</tspan></text>
<text x="572.40" y="10" font-size="12" text-anchor="middle" fill="#222" font-family="Liberation Sans, sans-serif">Na<tspan font-size="8.5" dy="2.6">3</tspan><tspan dy="-2.6">PSe</tspan><tspan font-size="8.5" dy="2.6">4</tspan></text>
<text x="702.50" y="10" font-size="12" text-anchor="middle" fill="#222" font-family="Liberation Sans, sans-serif">Na<tspan font-size="8.5" dy="2.6">3</tspan><tspan dy="-2.6">PS</tspan><tspan font-size="8.5" dy="2.6">4</tspan></text>
<text x="145.20" y="327.00" font-size="11.5" text-anchor="middle" fill="#111" font-family="Liberation Serif, serif" font-weight="bold">4</text>
<text x="164.40" y="319.10" font-size="11.5" text-anchor="middle" fill="#111" font-family="Liberation Serif, serif" font-weight="bold">3</text>
<text x="196.60" y="328.20" font-size="11.5" text-anchor="middle" fill="#111" font-family="Liberation Serif, serif" font-weight="bold">2</text>
<text x="226.50" y="327.60" font-size="11.5" text-anchor="middle" fill="#111" font-family="Liberation Serif, serif" font-weight="bold">1</text>
<text x="382.30" y="328.80" font-size="11.5" text-anchor="middle" fill="#111" font-family="Liberation Serif, serif" font-weight="bold">4</text>
<text x="414.40" y="321.80" font-size="11.5" text-anchor="middle" fill="#111" font-family="Liberation Serif, serif" font-weight="bold">3</text>
<text x="436.80" y="329.10" font-size="11.5" text-anchor="middle" fill="#111" font-family="Liberation Serif, serif" font-weight="bold">2</text>
<text x="459.40" y="329.10" font-size="11.5" text-anchor="middle" fill="#111" font-family="Liberation Serif, serif" font-weight="bold">1</text>
<text x="123.5" y="169.8" font-size="13" fill="#111" stroke="#111" stroke-width="0.3" font-family="Liberation Serif, serif" font-weight="bold" font-style="italic">t</text>
<line x1="131.7" y1="166.0" x2="140.6" y2="166.0" stroke="#000" stroke-width="1.0"/>
<path d="M138.6 164.0 L141.2 166.0 L138.6 168.0" fill="none" stroke="#000" stroke-width="1.0"/>
<text x="145.4" y="169.8" font-size="13" fill="#111" stroke="#111" stroke-width="0.3" font-family="Liberation Serif, serif" font-weight="bold" font-style="italic">c</text>
<text x="359.0" y="188.0" font-size="13" fill="#111" stroke="#111" stroke-width="0.3" font-family="Liberation Serif, serif" font-weight="bold" font-style="italic">t</text>
<line x1="368.1" y1="184.2" x2="375.6" y2="184.2" stroke="#000" stroke-width="1.0"/>
<path d="M373.6 182.2 L376.2 184.2 L373.6 186.2" fill="none" stroke="#000" stroke-width="1.0"/>
<text x="380.8" y="188.0" font-size="13" fill="#111" stroke="#111" stroke-width="0.3" font-family="Liberation Serif, serif" font-weight="bold" font-style="italic">c</text>
<line x1="601.50" y1="18.00" x2="601.50" y2="226.50" stroke="#3a3a3a" stroke-width="1" stroke-dasharray="1 1"/>
<line x1="601.50" y1="232.00" x2="601.50" y2="335.50" stroke="#3a3a3a" stroke-width="1" stroke-dasharray="1 1"/>
<defs><marker id="m0" markerWidth="4.0" markerHeight="4.0" refX="2.0" refY="2.0" markerUnits="userSpaceOnUse"><circle cx="2.0" cy="2.0" r="1.50" fill="#c5325a"/></marker></defs>
<polyline points="522.3,27.6 530.7,27.9 539.1,27.2 547.5,28.5 555.9,32.6 564.2,33.4 572.6,33.4 581.0,34.4 589.4,34.7 597.8,35.5 606.2,36.2 614.6,37.5 623.0,37.5" fill="none" stroke="#c5325a" stroke-width="1.00" stroke-linejoin="round" marker-start="url(#m0)" marker-mid="url(#m0)" marker-end="url(#m0)"/>
<polyline points="522.3,35.8 530.7,35.9 539.1,36.4 547.5,36.6 555.9,38.5 564.2,38.3 572.6,38.5 581.0,34.4 589.4,34.7 597.8,35.5 606.2,36.2 614.6,37.5 623.0,37.5" fill="none" stroke="#c5325a" stroke-width="1.00" stroke-linejoin="round" marker-start="url(#m0)" marker-mid="url(#m0)" marker-end="url(#m0)"/>
<polyline points="522.3,51.3 530.7,51.3 539.1,51.3 547.5,51.7 555.9,52.3 564.2,52.5 572.6,52.5 581.0,52.8 589.4,53.1 597.8,53.1 606.2,52.4 614.6,51.2 623.0,51.2" fill="none" stroke="#c5325a" stroke-width="1.00" stroke-linejoin="round" marker-start="url(#m0)" marker-mid="url(#m0)" marker-end="url(#m0)"/>
<polyline points="522.3,69.5 530.7,69.5 539.1,69.5 547.5,69.7 555.9,70.1 564.2,70.3 572.6,70.7 581.0,72.3 589.4,72.5 597.8,72.9 606.2,73.1 614.6,73.4 623.0,73.4" fill="none" stroke="#c5325a" stroke-width="1.00" stroke-linejoin="round" marker-start="url(#m0)" marker-mid="url(#m0)" marker-end="url(#m0)"/>
<polyline points="522.3,73.1 530.7,73.1 539.1,73.1 547.5,73.1 555.9,73.1 564.2,73.1 572.6,72.9 581.0,72.3 589.4,72.5 597.8,72.9 606.2,73.1 614.6,73.4 623.0,73.4" fill="none" stroke="#c5325a" stroke-width="1.00" stroke-linejoin="round" marker-start="url(#m0)" marker-mid="url(#m0)" marker-end="url(#m0)"/>
<polyline points="522.3,77.9 530.7,77.9 539.1,77.7 547.5,77.9 555.9,78.2 564.2,78.5 572.6,79.1 581.0,80.7 589.4,80.6 597.8,80.1 606.2,73.1 614.6,73.4 623.0,73.4" fill="none" stroke="#c5325a" stroke-width="1.00" stroke-linejoin="round" marker-start="url(#m0)" marker-mid="url(#m0)" marker-end="url(#m0)"/>
<polyline points="522.3,81.8 530.7,81.8 539.1,81.8 547.5,81.8 555.9,81.8 564.2,81.0 572.6,80.7 581.0,80.7 589.4,80.6 597.8,80.1 606.2,73.1 614.6,73.4 623.0,73.4" fill="none" stroke="#c5325a" stroke-width="1.00" stroke-linejoin="round" marker-start="url(#m0)" marker-mid="url(#m0)" marker-end="url(#m0)"/>
<polyline points="522.3,88.2 530.7,88.2 539.1,88.4 547.5,88.6 555.9,89.0 564.2,90.3 572.6,90.0 581.0,91.2 589.4,91.5 597.8,91.8 606.2,91.8 614.6,92.1 623.0,92.4" fill="none" stroke="#c5325a" stroke-width="1.00" stroke-linejoin="round" marker-start="url(#m0)" marker-mid="url(#m0)" marker-end="url(#m0)"/>
<polyline points="522.3,91.8 530.7,91.8 539.1,92.1 547.5,92.1 555.9,91.8 564.2,91.2 572.6,90.6 581.0,91.2 589.4,91.5 597.8,91.8 606.2,91.8 614.6,92.1 623.0,92.4" fill="none" stroke="#c5325a" stroke-width="1.00" stroke-linejoin="round" marker-start="url(#m0)" marker-mid="url(#m0)" marker-end="url(#m0)"/>
<polyline points="522.3,114.9 530.7,115.2 539.1,115.5 547.5,115.9 555.9,116.1 564.2,116.4 572.6,116.4 581.0,116.7 589.4,117.0 597.8,117.6 606.2,128.2 614.6,128.4 623.0,128.6" fill="none" stroke="#c5325a" stroke-width="1.00" stroke-linejoin="round" marker-start="url(#m0)" marker-mid="url(#m0)" marker-end="url(#m0)"/>
<polyline points="522.3,124.6 530.7,124.6 539.1,124.8 547.5,125.4 555.9,125.8 564.2,126.1 572.6,126.4 581.0,126.6 589.4,127.0 597.8,127.4 606.2,128.2 614.6,128.4 623.0,128.6" fill="none" stroke="#c5325a" stroke-width="1.00" stroke-linejoin="round" marker-start="url(#m0)" marker-mid="url(#m0)" marker-end="url(#m0)"/>
<defs><marker id="m1" markerWidth="3.7" markerHeight="3.7" refX="1.9" refY="1.9" markerUnits="userSpaceOnUse"><circle cx="1.9" cy="1.9" r="1.35" fill="#8a8a8a"/></marker></defs>
<polyline points="522.3,151.5 530.7,151.5 539.1,151.5 547.5,151.9 555.9,152.3 564.2,152.3 572.6,152.7" fill="none" stroke="#8a8a8a" stroke-width="1.00" stroke-linejoin="round" marker-start="url(#m1)" marker-mid="url(#m1)" marker-end="url(#m1)"/>
<polyline points="522.3,164.1 530.7,164.1 539.1,164.1 547.5,164.1 555.9,164.1 564.2,164.1 572.6,164.1" fill="none" stroke="#8a8a8a" stroke-width="1.00" stroke-linejoin="round" marker-start="url(#m1)" marker-mid="url(#m1)" marker-end="url(#m1)"/>
<defs><marker id="m2" markerWidth="4.0" markerHeight="4.0" refX="2.0" refY="2.0" markerUnits="userSpaceOnUse"><circle cx="2.0" cy="2.0" r="1.50" fill="#111111"/></marker></defs>
<polyline points="522.3,185.4 530.7,186.1 539.1,187.9 547.5,191.0 555.9,194.0 564.2,196.4 572.6,198.0 581.0,202.0 589.4,203.1 597.8,205.8" fill="none" stroke="#111111" stroke-width="1.00" stroke-linejoin="round" marker-start="url(#m2)" marker-mid="url(#m2)" marker-end="url(#m2)"/>
<polyline points="522.3,202.8 530.7,203.1 539.1,204.2 547.5,205.4 555.9,206.2 564.2,207.1 572.6,207.5 581.0,209.4 589.4,210.2" fill="none" stroke="#111111" stroke-width="1.00" stroke-linejoin="round" marker-start="url(#m2)" marker-mid="url(#m2)" marker-end="url(#m2)"/>
<polyline points="522.3,236.0 530.7,237.7 539.1,242.1 547.5,249.7 555.9,257.1 564.2,263.0 572.6,266.9 581.0,276.7 589.4,279.4 597.8,286.0" fill="none" stroke="#111111" stroke-width="1.00" stroke-linejoin="round" marker-start="url(#m2)" marker-mid="url(#m2)" marker-end="url(#m2)"/>
<polyline points="522.3,236.0 530.7,237.3 539.1,242.0 547.5,247.1 555.9,250.5 564.2,254.4 572.6,256.1 581.0,264.2 589.4,267.6" fill="none" stroke="#111111" stroke-width="1.00" stroke-linejoin="round" marker-start="url(#m2)" marker-mid="url(#m2)" marker-end="url(#m2)"/>
<polyline points="522.3,236.0 530.7,236.3 539.1,236.6 547.5,236.8 555.9,237.2 564.2,237.5 572.6,237.6 581.0,237.8 589.4,238.0 597.8,238.2 606.2,239.6 614.6,239.6 623.0,239.6" fill="none" stroke="#c5325a" stroke-width="1.00" stroke-linejoin="round" marker-start="url(#m0)" marker-mid="url(#m0)" marker-end="url(#m0)"/>
<polyline points="522.3,236.0 530.7,236.2 539.1,236.4 547.5,236.6 555.9,236.9 564.2,237.2 572.6,237.4 581.0,237.6 589.4,237.8 597.8,238.0 606.2,235.4 614.6,235.3 623.0,235.3" fill="none" stroke="#c5325a" stroke-width="1.00" stroke-linejoin="round" marker-start="url(#m0)" marker-mid="url(#m0)" marker-end="url(#m0)"/>
<polyline points="522.3,236.0 530.7,236.0 539.1,235.8 547.5,235.6 555.9,235.5 564.2,235.4 572.6,235.2 581.0,235.4 589.4,235.5 597.8,235.6 606.2,235.4 614.6,235.3 623.0,235.3" fill="none" stroke="#c5325a" stroke-width="1.00" stroke-linejoin="round" marker-start="url(#m0)" marker-mid="url(#m0)" marker-end="url(#m0)"/>
<polyline points="522.3,236.0 530.7,236.4 539.1,236.8 547.5,237.4 555.9,238.0 564.2,238.5 572.6,239.0 581.0,239.2 589.4,239.3 597.8,239.6 606.2,239.6 614.6,239.7 623.0,239.7" fill="none" stroke="#c5325a" stroke-width="1.00" stroke-linejoin="round" marker-start="url(#m0)" marker-mid="url(#m0)" marker-end="url(#m0)"/>
<polyline points="522.3,236.0 530.7,235.6 539.1,235.4 547.5,235.2 555.9,235.0 564.2,234.8 572.6,234.6 581.0,234.8 589.4,235.0 597.8,235.1 606.2,235.3 614.6,235.4 623.0,235.4" fill="none" stroke="#c5325a" stroke-width="1.00" stroke-linejoin="round" marker-start="url(#m0)" marker-mid="url(#m0)" marker-end="url(#m0)"/>
<rect x="520.5" y="17.5" width="104.0" height="209.0" fill="none" stroke="#2a2a2a" stroke-width="1"/>
<rect x="520.5" y="231.5" width="104.0" height="104.0" fill="none" stroke="#2a2a2a" stroke-width="1"/>
<line x1="530.69" y1="335.50" x2="530.69" y2="332.90" stroke="#2a2a2a"/>
<line x1="530.69" y1="231.50" x2="530.69" y2="234.10" stroke="#2a2a2a"/>
<line x1="572.64" y1="335.50" x2="572.64" y2="332.90" stroke="#2a2a2a"/>
<line x1="572.64" y1="231.50" x2="572.64" y2="234.10" stroke="#2a2a2a"/>
<line x1="614.59" y1="335.50" x2="614.59" y2="332.90" stroke="#2a2a2a"/>
<line x1="614.59" y1="231.50" x2="614.59" y2="234.10" stroke="#2a2a2a"/>
<line x1="520.50" y1="226.20" x2="523.10" y2="226.20" stroke="#2a2a2a"/>
<line x1="624.50" y1="226.20" x2="621.90" y2="226.20" stroke="#2a2a2a"/>
<text x="516.50" y="230.10" font-size="11" text-anchor="end" fill="#222" stroke="#222" stroke-width="0.2" font-family="Liberation Sans, sans-serif" >0</text>
<line x1="520.50" y1="174.00" x2="523.10" y2="174.00" stroke="#2a2a2a"/>
<line x1="624.50" y1="174.00" x2="621.90" y2="174.00" stroke="#2a2a2a"/>
<text x="516.50" y="177.90" font-size="11" text-anchor="end" fill="#222" stroke="#222" stroke-width="0.2" font-family="Liberation Sans, sans-serif" >50</text>
<line x1="520.50" y1="121.80" x2="523.10" y2="121.80" stroke="#2a2a2a"/>
<line x1="624.50" y1="121.80" x2="621.90" y2="121.80" stroke="#2a2a2a"/>
<text x="516.50" y="125.70" font-size="11" text-anchor="end" fill="#222" stroke="#222" stroke-width="0.2" font-family="Liberation Sans, sans-serif" >100</text>
<line x1="520.50" y1="69.60" x2="523.10" y2="69.60" stroke="#2a2a2a"/>
<line x1="624.50" y1="69.60" x2="621.90" y2="69.60" stroke="#2a2a2a"/>
<text x="516.50" y="73.50" font-size="11" text-anchor="end" fill="#222" stroke="#222" stroke-width="0.2" font-family="Liberation Sans, sans-serif" >150</text>
<line x1="520.50" y1="17.40" x2="523.10" y2="17.40" stroke="#2a2a2a"/>
<line x1="624.50" y1="17.40" x2="621.90" y2="17.40" stroke="#2a2a2a"/>
<text x="516.50" y="21.30" font-size="11" text-anchor="end" fill="#222" stroke="#222" stroke-width="0.2" font-family="Liberation Sans, sans-serif" >200</text>
<line x1="520.50" y1="336.00" x2="523.10" y2="336.00" stroke="#2a2a2a"/>
<line x1="624.50" y1="336.00" x2="621.90" y2="336.00" stroke="#2a2a2a"/>
<text x="516.50" y="339.90" font-size="11" text-anchor="end" fill="#222" stroke="#222" stroke-width="0.2" font-family="Liberation Sans, sans-serif" >0</text>
<line x1="651.50" y1="336.00" x2="654.10" y2="336.00" stroke="#2a2a2a"/>
<line x1="755.50" y1="336.00" x2="752.90" y2="336.00" stroke="#2a2a2a"/>
<text x="647.50" y="339.90" font-size="11" text-anchor="end" fill="#222" stroke="#222" stroke-width="0.2" font-family="Liberation Sans, sans-serif" >0</text>
<line x1="520.50" y1="286.00" x2="523.10" y2="286.00" stroke="#2a2a2a"/>
<line x1="624.50" y1="286.00" x2="621.90" y2="286.00" stroke="#2a2a2a"/>
<text x="516.50" y="289.90" font-size="11" text-anchor="end" fill="#222" stroke="#222" stroke-width="0.2" font-family="Liberation Sans, sans-serif" >0.5</text>
<line x1="651.50" y1="286.00" x2="654.10" y2="286.00" stroke="#2a2a2a"/>
<line x1="755.50" y1="286.00" x2="752.90" y2="286.00" stroke="#2a2a2a"/>
<text x="647.50" y="289.90" font-size="11" text-anchor="end" fill="#222" stroke="#222" stroke-width="0.2" font-family="Liberation Sans, sans-serif" >0.5</text>
<line x1="520.50" y1="236.00" x2="523.10" y2="236.00" stroke="#2a2a2a"/>
<line x1="624.50" y1="236.00" x2="621.90" y2="236.00" stroke="#2a2a2a"/>
<text x="516.50" y="239.90" font-size="11" text-anchor="end" fill="#222" stroke="#222" stroke-width="0.2" font-family="Liberation Sans, sans-serif" >1</text>
<line x1="651.50" y1="236.00" x2="654.10" y2="236.00" stroke="#2a2a2a"/>
<line x1="755.50" y1="236.00" x2="752.90" y2="236.00" stroke="#2a2a2a"/>
<text x="647.50" y="239.90" font-size="11" text-anchor="end" fill="#222" stroke="#222" stroke-width="0.2" font-family="Liberation Sans, sans-serif" >1</text>
<text x="530.69" y="350.60" font-size="11" text-anchor="middle" fill="#222" stroke="#222" stroke-width="0.2" font-family="Liberation Sans, sans-serif" >100</text>
<text x="572.64" y="350.60" font-size="11" text-anchor="middle" fill="#222" stroke="#222" stroke-width="0.2" font-family="Liberation Sans, sans-serif" >200</text>
<text x="614.59" y="350.60" font-size="11" text-anchor="middle" fill="#222" stroke="#222" stroke-width="0.2" font-family="Liberation Sans, sans-serif" >300</text>
<text x="573.30" y="365.60" font-size="12.4" text-anchor="middle" fill="#222" stroke="#222" stroke-width="0.2" font-family="Liberation Sans, sans-serif" >Temperature (K)</text>
<text x="704.00" y="365.60" font-size="12.4" text-anchor="middle" fill="#222" stroke="#222" stroke-width="0.2" font-family="Liberation Sans, sans-serif" >Temperature (K)</text>
<text transform="translate(492.3,122) rotate(-90)" font-size="12.4" text-anchor="middle" fill="#222" stroke="#222" stroke-width="0.2" font-family="Liberation Sans, sans-serif">Fitted Frequency (cm<tspan font-size="8.5" dy="-5">-1</tspan><tspan dy="5">)</tspan></text>
<text transform="translate(493.2,285) rotate(-90)" font-size="12.4" text-anchor="middle" fill="#222" stroke="#222" stroke-width="0.2" font-family="Liberation Sans, sans-serif">Normalized Frequency</text>
<text x="554.8" y="65" font-size="10" fill="#c5325a" font-family="Liberation Sans, sans-serif" textLength="35" lengthAdjust="spacingAndGlyphs">Group 3</text>
<text x="546.7" y="144.8" font-size="10" fill="#8a8a8a" font-family="Liberation Sans, sans-serif" textLength="48.4" lengthAdjust="spacingAndGlyphs">Ungrouped</text>
<text x="523.1" y="219.2" font-size="10" fill="#111" font-family="Liberation Sans, sans-serif" textLength="35" lengthAdjust="spacingAndGlyphs">Group 4</text>
<text x="594.8" y="27.0" font-size="11.5" fill="#111" stroke="#111" stroke-width="0.25" font-family="Liberation Serif, serif" font-weight="bold" font-style="italic">t</text>
<text x="604.9" y="27.0" font-size="11.5" fill="#111" stroke="#111" stroke-width="0.25" font-family="Liberation Serif, serif" font-weight="bold" font-style="italic">c</text>
<line x1="736.50" y1="18.00" x2="736.50" y2="226.50" stroke="#3a3a3a" stroke-width="1" stroke-dasharray="1 1"/>
<line x1="736.50" y1="232.00" x2="736.50" y2="335.50" stroke="#3a3a3a" stroke-width="1" stroke-dasharray="1 1"/>
<polyline points="651.7,25.9 655.4,25.9 659.1,25.9 662.8,25.9 666.5,25.9 670.2,25.9 673.8,25.9 677.5,25.9 681.2,25.9 684.9,25.9 688.6,27.8 692.3,27.8 696.0,27.9 703.4,29.1 710.7,29.1 718.1,29.3 725.4,29.7 732.7,29.7 740.0,30.0 747.4,30.0 754.7,30.2" fill="none" stroke="#c5325a" stroke-width="1.00" stroke-linejoin="round" marker-start="url(#m0)" marker-mid="url(#m0)" marker-end="url(#m0)"/>
<polyline points="651.7,28.9 655.4,28.9 659.1,28.9 662.8,28.9 666.5,28.9 670.2,28.9 673.8,28.9 677.5,28.9 681.2,28.9 684.9,28.9 688.6,27.8 692.3,27.8 696.0,27.9 703.4,29.1 710.7,29.1 718.1,29.3 725.4,29.7 732.7,29.7 740.0,30.0 747.4,30.0 754.7,30.2" fill="none" stroke="#c5325a" stroke-width="1.00" stroke-linejoin="round" marker-start="url(#m0)" marker-mid="url(#m0)" marker-end="url(#m0)"/>
<polyline points="651.7,34.1 655.4,34.1 659.1,34.1 662.8,34.1 666.5,34.1 670.2,34.1 673.8,34.1 677.5,34.1 681.2,34.3 684.9,34.5 688.6,34.8 692.3,35.1 696.0,35.2 703.4,35.8 710.7,36.4 718.1,36.1 725.4,38.3 732.7,38.5 740.0,38.5 747.4,38.9 754.7,39.2" fill="none" stroke="#c5325a" stroke-width="1.00" stroke-linejoin="round" marker-start="url(#m0)" marker-mid="url(#m0)" marker-end="url(#m0)"/>
<polyline points="651.7,38.3 655.4,38.3 659.1,38.3 662.8,38.3 666.5,38.3 670.2,38.3 673.8,39.8 677.5,39.8 681.2,39.8 684.9,39.8 688.6,39.8 692.3,39.8 696.0,39.8 703.4,40.1 710.7,40.1 718.1,40.1 725.4,38.3 732.7,38.5 740.0,38.5 747.4,38.9 754.7,39.2" fill="none" stroke="#c5325a" stroke-width="1.00" stroke-linejoin="round" marker-start="url(#m0)" marker-mid="url(#m0)" marker-end="url(#m0)"/>
<polyline points="651.7,40.5 655.4,40.5 659.1,40.5 662.8,40.5 666.5,40.5 670.2,40.5 673.8,39.8 677.5,39.8 681.2,39.8 684.9,39.8 688.6,39.8 692.3,39.8 696.0,39.8 703.4,40.1 710.7,40.1 718.1,40.1 725.4,38.3 732.7,38.5 740.0,38.5 747.4,38.9 754.7,39.2" fill="none" stroke="#c5325a" stroke-width="1.00" stroke-linejoin="round" marker-start="url(#m0)" marker-mid="url(#m0)" marker-end="url(#m0)"/>
<polyline points="651.7,72.1 655.4,72.2 659.1,72.4 662.8,72.6 666.5,72.8 670.2,73.0 673.8,73.2 677.5,73.4 681.2,73.6 684.9,73.8 688.6,74.0 692.3,74.1 696.0,74.2 703.4,75.2 710.7,75.7 718.1,76.0 725.4,76.4 732.7,76.7 740.0,81.2 747.4,81.0 754.7,81.2" fill="none" stroke="#c5325a" stroke-width="1.00" stroke-linejoin="round" marker-start="url(#m0)" marker-mid="url(#m0)" marker-end="url(#m0)"/>
<polyline points="651.7,79.6 655.4,79.6 659.1,79.6 662.8,81.9 666.5,81.9 670.2,81.9 673.8,81.9 677.5,81.9 681.2,81.9 684.9,81.9 688.6,81.9 692.3,81.9 696.0,81.9 703.4,82.0 710.7,82.2 718.1,82.3 725.4,82.5 732.7,82.6 740.0,81.2 747.4,81.0 754.7,81.2" fill="none" stroke="#c5325a" stroke-width="1.00" stroke-linejoin="round" marker-start="url(#m0)" marker-mid="url(#m0)" marker-end="url(#m0)"/>
<polyline points="651.7,82.2 655.4,82.2 659.1,82.2 662.8,81.9 666.5,81.9 670.2,81.9 673.8,81.9 677.5,81.9 681.2,81.9 684.9,81.9 688.6,81.9 692.3,81.9 696.0,81.9 703.4,82.0 710.7,82.2 718.1,82.3 725.4,82.5 732.7,82.6 740.0,81.2 747.4,81.0 754.7,81.2" fill="none" stroke="#c5325a" stroke-width="1.00" stroke-linejoin="round" marker-start="url(#m0)" marker-mid="url(#m0)" marker-end="url(#m0)"/>
<polyline points="651.7,118.9 655.4,118.9 659.1,119.0 662.8,119.0 666.5,119.1 670.2,119.2 673.8,119.3 677.5,119.4 681.2,119.5 684.9,119.6 688.6,119.8 692.3,120.0 696.0,120.1 703.4,120.9 710.7,120.9 718.1,122.1 725.4,123.0 732.7,131.7 740.0,132.6 747.4,134.9 754.7,135.7" fill="none" stroke="#8a8a8a" stroke-width="1.00" stroke-linejoin="round" marker-start="url(#m1)" marker-mid="url(#m1)" marker-end="url(#m1)"/>
<polyline points="651.7,169.8 655.4,169.5 659.1,168.8 662.8,168.7 666.5,169.0 670.2,169.3 673.8,169.6 677.5,170.0 681.2,170.2 684.9,170.4 688.6,170.6 692.3,170.8 696.0,171.0 703.4,171.9 710.7,171.3 718.1,171.7 725.4,173.1 732.7,176.6 740.0,186.5 747.4,182.1 754.7,187.4" fill="none" stroke="#8a8a8a" stroke-width="1.00" stroke-linejoin="round" marker-start="url(#m1)" marker-mid="url(#m1)" marker-end="url(#m1)"/>
<polyline points="651.7,179.1 655.4,179.6 659.1,180.4 662.8,181.2 666.5,182.0 670.2,182.8 673.8,183.6 677.5,184.5 681.2,185.4 684.9,186.3 688.6,187.2 692.3,188.2 696.0,189.3 703.4,191.9 710.7,194.3 718.1,198.3 725.4,200.6 732.7,202.7 740.0,209.2 747.4,216.4 754.7,216.4" fill="none" stroke="#111111" stroke-width="1.00" stroke-linejoin="round" marker-start="url(#m2)" marker-mid="url(#m2)" marker-end="url(#m2)"/>
<polyline points="651.7,203.6 655.4,203.6 659.1,203.6 662.8,203.7 666.5,203.8 670.2,203.9 673.8,204.0 677.5,204.1 681.2,204.3 684.9,204.5 688.6,204.7 692.3,205.7 696.0,207.6 703.4,214.4 710.7,212.3 718.1,209.7 725.4,210.0 732.7,211.1 740.0,213.3 747.4,215.3 754.7,214.8" fill="none" stroke="#111111" stroke-width="1.00" stroke-linejoin="round" marker-start="url(#m2)" marker-mid="url(#m2)" marker-end="url(#m2)"/>
<polyline points="651.7,236.0 655.4,236.0 659.1,236.1 662.8,236.1 666.5,236.2 670.2,236.3 673.8,236.4 677.5,236.5 681.2,236.6 684.9,236.7 688.6,236.8 692.3,237.0 696.0,237.1 703.4,237.9 710.7,237.9 718.1,239.0 725.4,239.8 732.7,248.0 740.0,248.8 747.4,250.9 754.7,251.7" fill="none" stroke="#8a8a8a" stroke-width="1.00" stroke-linejoin="round" marker-start="url(#m1)" marker-mid="url(#m1)" marker-end="url(#m1)"/>
<polyline points="651.7,236.0 655.4,235.5 659.1,234.2 662.8,234.0 666.5,234.6 670.2,235.1 673.8,235.6 677.5,236.4 681.2,236.7 684.9,237.1 688.6,237.4 692.3,237.8 696.0,238.1 703.4,239.7 710.7,238.7 718.1,239.4 725.4,241.9 732.7,248.1 740.0,265.7 747.4,257.9 754.7,267.3" fill="none" stroke="#8a8a8a" stroke-width="1.00" stroke-linejoin="round" marker-start="url(#m1)" marker-mid="url(#m1)" marker-end="url(#m1)"/>
<polyline points="651.7,236.0 655.4,237.1 659.1,238.8 662.8,240.5 666.5,242.2 670.2,243.9 673.8,245.6 677.5,247.5 681.2,249.4 684.9,251.4 688.6,253.3 692.3,255.4 696.0,257.7 703.4,263.3 710.7,268.4 718.1,276.9 725.4,281.8 732.7,286.3 740.0,300.2 747.4,315.5 754.7,315.5" fill="none" stroke="#111111" stroke-width="1.00" stroke-linejoin="round" marker-start="url(#m2)" marker-mid="url(#m2)" marker-end="url(#m2)"/>
<polyline points="651.7,236.0 655.4,236.0 659.1,236.0 662.8,236.4 666.5,236.9 670.2,237.3 673.8,237.8 677.5,238.2 681.2,239.1 684.9,240.0 688.6,240.9 692.3,245.4 696.0,253.9 703.4,284.2 710.7,274.8 718.1,263.2 725.4,264.6 732.7,269.5 740.0,279.3 747.4,288.2 754.7,286.0" fill="none" stroke="#111111" stroke-width="1.00" stroke-linejoin="round" marker-start="url(#m2)" marker-mid="url(#m2)" marker-end="url(#m2)"/>
<polyline points="651.7,236.0 655.4,236.0 659.1,236.0 662.8,236.0 666.5,236.0 670.2,236.0 673.8,236.0 677.5,236.0 681.2,236.0 684.9,236.0 688.6,236.3 692.3,236.3 696.0,236.3 703.4,236.6 710.7,236.6 718.1,236.6 725.4,236.7 732.7,236.7 740.0,236.7 747.4,236.7 754.7,236.8" fill="none" stroke="#c5325a" stroke-width="1.00" stroke-linejoin="round" marker-start="url(#m0)" marker-mid="url(#m0)" marker-end="url(#m0)"/>
<polyline points="651.7,236.0 655.4,236.0 659.1,236.0 662.8,236.0 666.5,236.0 670.2,236.0 673.8,236.0 677.5,236.0 681.2,236.0 684.9,236.0 688.6,235.8 692.3,235.8 696.0,235.8 703.4,236.0 710.7,236.0 718.1,236.1 725.4,236.1 732.7,236.1 740.0,236.2 747.4,236.2 754.7,236.2" fill="none" stroke="#c5325a" stroke-width="1.00" stroke-linejoin="round" marker-start="url(#m0)" marker-mid="url(#m0)" marker-end="url(#m0)"/>
<polyline points="651.7,236.0 655.4,236.0 659.1,236.0 662.8,236.0 666.5,236.0 670.2,236.0 673.8,236.0 677.5,236.0 681.2,236.0 684.9,236.1 688.6,236.1 692.3,236.2 696.0,236.2 703.4,236.3 710.7,236.4 718.1,236.4 725.4,236.8 732.7,236.8 740.0,236.8 747.4,236.9 754.7,236.9" fill="none" stroke="#c5325a" stroke-width="1.00" stroke-linejoin="round" marker-start="url(#m0)" marker-mid="url(#m0)" marker-end="url(#m0)"/>
<polyline points="651.7,236.0 655.4,236.0 659.1,236.0 662.8,236.0 666.5,236.0 670.2,236.0 673.8,236.3 677.5,236.3 681.2,236.3 684.9,236.3 688.6,236.3 692.3,236.3 696.0,236.3 703.4,236.3 710.7,236.3 718.1,236.3 725.4,236.0 732.7,236.0 740.0,236.0 747.4,236.1 754.7,236.2" fill="none" stroke="#c5325a" stroke-width="1.00" stroke-linejoin="round" marker-start="url(#m0)" marker-mid="url(#m0)" marker-end="url(#m0)"/>
<polyline points="651.7,236.0 655.4,236.0 659.1,236.0 662.8,236.0 666.5,236.0 670.2,236.0 673.8,235.9 677.5,235.9 681.2,235.9 684.9,235.9 688.6,235.9 692.3,235.9 696.0,235.9 703.4,235.9 710.7,235.9 718.1,235.9 725.4,235.6 732.7,235.6 740.0,235.6 747.4,235.7 754.7,235.8" fill="none" stroke="#c5325a" stroke-width="1.00" stroke-linejoin="round" marker-start="url(#m0)" marker-mid="url(#m0)" marker-end="url(#m0)"/>
<polyline points="651.7,236.0 655.4,236.0 659.1,236.1 662.8,236.1 666.5,236.2 670.2,236.2 673.8,236.3 677.5,236.3 681.2,236.3 684.9,236.4 688.6,236.4 692.3,236.5 696.0,236.5 703.4,236.7 710.7,236.8 718.1,236.9 725.4,237.0 732.7,237.0 740.0,238.1 747.4,238.0 754.7,238.1" fill="none" stroke="#c5325a" stroke-width="1.00" stroke-linejoin="round" marker-start="url(#m0)" marker-mid="url(#m0)" marker-end="url(#m0)"/>
<polyline points="651.7,236.0 655.4,236.0 659.1,236.0 662.8,236.5 666.5,236.5 670.2,236.5 673.8,236.5 677.5,236.5 681.2,236.5 684.9,236.5 688.6,236.5 692.3,236.5 696.0,236.5 703.4,236.6 710.7,236.6 718.1,236.6 725.4,236.7 732.7,236.7 740.0,236.4 747.4,236.3 754.7,236.4" fill="none" stroke="#c5325a" stroke-width="1.00" stroke-linejoin="round" marker-start="url(#m0)" marker-mid="url(#m0)" marker-end="url(#m0)"/>
<polyline points="651.7,236.0 655.4,236.0 659.1,236.0 662.8,235.9 666.5,235.9 670.2,235.9 673.8,235.9 677.5,235.9 681.2,235.9 684.9,235.9 688.6,235.9 692.3,235.9 696.0,235.9 703.4,236.0 710.7,236.0 718.1,236.0 725.4,236.1 732.7,236.1 740.0,235.8 747.4,235.7 754.7,235.8" fill="none" stroke="#c5325a" stroke-width="1.00" stroke-linejoin="round" marker-start="url(#m0)" marker-mid="url(#m0)" marker-end="url(#m0)"/>
<rect x="651.5" y="17.5" width="104.0" height="209.0" fill="none" stroke="#2a2a2a" stroke-width="1"/>
<rect x="651.5" y="231.5" width="104.0" height="104.0" fill="none" stroke="#2a2a2a" stroke-width="1"/>
<line x1="673.84" y1="335.50" x2="673.84" y2="332.90" stroke="#2a2a2a"/>
<line x1="673.84" y1="231.50" x2="673.84" y2="234.10" stroke="#2a2a2a"/>
<line x1="710.74" y1="335.50" x2="710.74" y2="332.90" stroke="#2a2a2a"/>
<line x1="710.74" y1="231.50" x2="710.74" y2="234.10" stroke="#2a2a2a"/>
<line x1="747.64" y1="335.50" x2="747.64" y2="332.90" stroke="#2a2a2a"/>
<line x1="747.64" y1="231.50" x2="747.64" y2="234.10" stroke="#2a2a2a"/>
<line x1="651.50" y1="226.00" x2="654.10" y2="226.00" stroke="#2a2a2a"/>
<line x1="755.50" y1="226.00" x2="752.90" y2="226.00" stroke="#2a2a2a"/>
<text x="647.50" y="229.90" font-size="11" text-anchor="end" fill="#222" stroke="#222" stroke-width="0.2" font-family="Liberation Sans, sans-serif" >0</text>
<line x1="651.50" y1="192.45" x2="654.10" y2="192.45" stroke="#2a2a2a"/>
<line x1="755.50" y1="192.45" x2="752.90" y2="192.45" stroke="#2a2a2a"/>
<text x="647.50" y="196.35" font-size="11" text-anchor="end" fill="#222" stroke="#222" stroke-width="0.2" font-family="Liberation Sans, sans-serif" >50</text>
<line x1="651.50" y1="158.90" x2="654.10" y2="158.90" stroke="#2a2a2a"/>
<line x1="755.50" y1="158.90" x2="752.90" y2="158.90" stroke="#2a2a2a"/>
<text x="647.50" y="162.80" font-size="11" text-anchor="end" fill="#222" stroke="#222" stroke-width="0.2" font-family="Liberation Sans, sans-serif" >100</text>
<line x1="651.50" y1="125.35" x2="654.10" y2="125.35" stroke="#2a2a2a"/>
<line x1="755.50" y1="125.35" x2="752.90" y2="125.35" stroke="#2a2a2a"/>
<text x="647.50" y="129.25" font-size="11" text-anchor="end" fill="#222" stroke="#222" stroke-width="0.2" font-family="Liberation Sans, sans-serif" >150</text>
<line x1="651.50" y1="91.80" x2="654.10" y2="91.80" stroke="#2a2a2a"/>
<line x1="755.50" y1="91.80" x2="752.90" y2="91.80" stroke="#2a2a2a"/>
<text x="647.50" y="95.70" font-size="11" text-anchor="end" fill="#222" stroke="#222" stroke-width="0.2" font-family="Liberation Sans, sans-serif" >200</text>
<line x1="651.50" y1="58.25" x2="654.10" y2="58.25" stroke="#2a2a2a"/>
<line x1="755.50" y1="58.25" x2="752.90" y2="58.25" stroke="#2a2a2a"/>
<text x="647.50" y="62.15" font-size="11" text-anchor="end" fill="#222" stroke="#222" stroke-width="0.2" font-family="Liberation Sans, sans-serif" >250</text>
<line x1="651.50" y1="24.70" x2="654.10" y2="24.70" stroke="#2a2a2a"/>
<line x1="755.50" y1="24.70" x2="752.90" y2="24.70" stroke="#2a2a2a"/>
<text x="647.50" y="28.60" font-size="11" text-anchor="end" fill="#222" stroke="#222" stroke-width="0.2" font-family="Liberation Sans, sans-serif" >300</text>
<text x="673.84" y="350.60" font-size="11" text-anchor="middle" fill="#222" stroke="#222" stroke-width="0.2" font-family="Liberation Sans, sans-serif" >200</text>
<text x="710.74" y="350.60" font-size="11" text-anchor="middle" fill="#222" stroke="#222" stroke-width="0.2" font-family="Liberation Sans, sans-serif" >400</text>
<text x="747.64" y="350.60" font-size="11" text-anchor="middle" fill="#222" stroke="#222" stroke-width="0.2" font-family="Liberation Sans, sans-serif" >600</text>
<text x="680.8" y="66" font-size="10" fill="#c5325a" font-family="Liberation Sans, sans-serif" textLength="35.4" lengthAdjust="spacingAndGlyphs">Group 3</text>
<text x="677" y="144.8" font-size="10" fill="#8a8a8a" font-family="Liberation Sans, sans-serif" textLength="48.8" lengthAdjust="spacingAndGlyphs">Ungrouped</text>
<text x="658" y="219.5" font-size="10" fill="#111" font-family="Liberation Sans, sans-serif" textLength="35.4" lengthAdjust="spacingAndGlyphs">Group 4</text>
<text x="729.8" y="27.0" font-size="11.5" fill="#111" stroke="#111" stroke-width="0.25" font-family="Liberation Serif, serif" font-weight="bold" font-style="italic">t</text>
<text x="739.3" y="27.0" font-size="11.5" fill="#111" stroke="#111" stroke-width="0.25" font-family="Liberation Serif, serif" font-weight="bold" font-style="italic">c</text>
</svg></body></html>
